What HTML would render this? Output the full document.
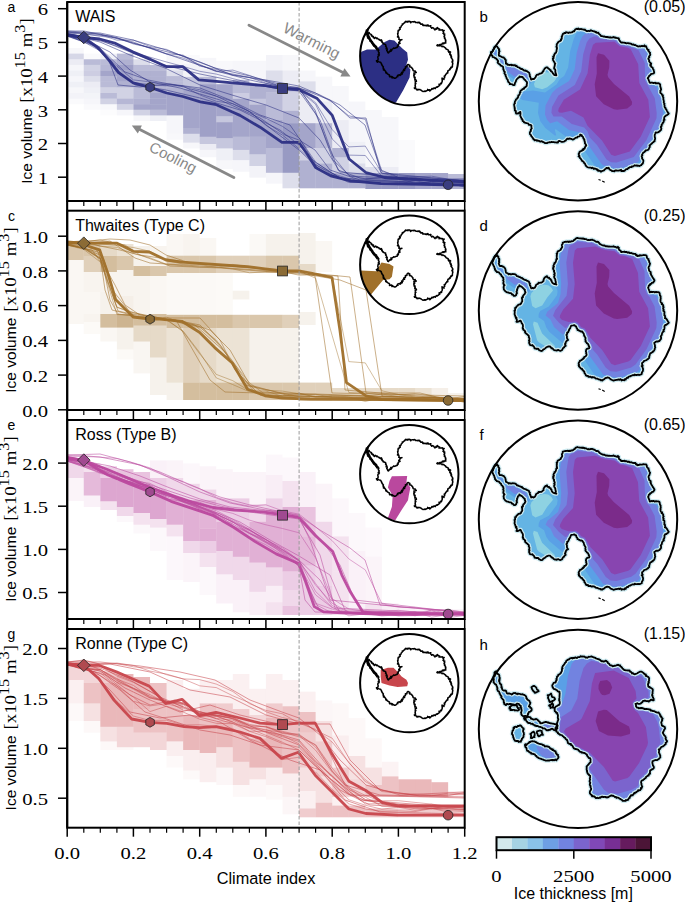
<!DOCTYPE html>
<html><head><meta charset="utf-8"><style>html,body{margin:0;padding:0;background:#fff;overflow:hidden}svg{display:block}</style></head><body>
<svg width="685" height="903" viewBox="0 0 685 903">
<rect width="685" height="903" fill="#fff"/>
<clipPath id="clip_a"><rect x="67.2" y="2.0" width="397.5" height="199.0"/></clipPath>
<g clip-path="url(#clip_a)">
<rect x="67.20" y="48.00" width="16.56" height="5.60" fill="rgba(44,47,132,0.038)"/>
<rect x="67.20" y="53.60" width="16.56" height="5.65" fill="rgba(44,47,132,0.194)"/>
<rect x="67.20" y="59.25" width="16.56" height="5.65" fill="rgba(44,47,132,0.091)"/>
<rect x="67.20" y="64.90" width="16.56" height="5.60" fill="rgba(44,47,132,0.045)"/>
<rect x="67.20" y="70.50" width="16.56" height="5.60" fill="rgba(44,47,132,0.076)"/>
<rect x="67.20" y="76.10" width="16.56" height="5.60" fill="rgba(44,47,132,0.045)"/>
<rect x="67.20" y="81.70" width="16.56" height="5.60" fill="rgba(44,47,132,0.076)"/>
<rect x="67.20" y="87.30" width="16.56" height="5.70" fill="rgba(44,47,132,0.038)"/>
<rect x="67.20" y="93.00" width="16.56" height="5.60" fill="rgba(44,47,132,0.060)"/>
<rect x="67.20" y="98.60" width="16.56" height="5.60" fill="rgba(44,47,132,0.023)"/>
<rect x="83.76" y="53.60" width="16.56" height="5.65" fill="rgba(44,47,132,0.023)"/>
<rect x="83.76" y="59.25" width="16.56" height="5.65" fill="rgba(44,47,132,0.324)"/>
<rect x="83.76" y="64.90" width="16.56" height="5.60" fill="rgba(44,47,132,0.216)"/>
<rect x="83.76" y="70.50" width="16.56" height="5.60" fill="rgba(44,47,132,0.238)"/>
<rect x="83.76" y="76.10" width="16.56" height="5.60" fill="rgba(44,47,132,0.162)"/>
<rect x="83.76" y="81.70" width="16.56" height="5.60" fill="rgba(44,47,132,0.091)"/>
<rect x="83.76" y="87.30" width="16.56" height="5.70" fill="rgba(44,47,132,0.076)"/>
<rect x="83.76" y="93.00" width="16.56" height="5.60" fill="rgba(44,47,132,0.053)"/>
<rect x="83.76" y="98.60" width="16.56" height="5.60" fill="rgba(44,47,132,0.045)"/>
<rect x="83.76" y="104.20" width="16.56" height="5.60" fill="rgba(44,47,132,0.023)"/>
<rect x="100.33" y="53.60" width="16.56" height="5.65" fill="rgba(44,47,132,0.076)"/>
<rect x="100.33" y="59.25" width="16.56" height="5.65" fill="rgba(44,47,132,0.324)"/>
<rect x="100.33" y="64.90" width="16.56" height="5.60" fill="rgba(44,47,132,0.346)"/>
<rect x="100.33" y="70.50" width="16.56" height="5.60" fill="rgba(44,47,132,0.432)"/>
<rect x="100.33" y="76.10" width="16.56" height="5.60" fill="rgba(44,47,132,0.324)"/>
<rect x="100.33" y="81.70" width="16.56" height="5.60" fill="rgba(44,47,132,0.324)"/>
<rect x="100.33" y="87.30" width="16.56" height="5.70" fill="rgba(44,47,132,0.216)"/>
<rect x="100.33" y="93.00" width="16.56" height="5.60" fill="rgba(44,47,132,0.324)"/>
<rect x="100.33" y="98.60" width="16.56" height="5.60" fill="rgba(44,47,132,0.216)"/>
<rect x="100.33" y="104.20" width="16.56" height="5.60" fill="rgba(44,47,132,0.030)"/>
<rect x="100.33" y="109.80" width="16.56" height="5.60" fill="rgba(44,47,132,0.015)"/>
<rect x="116.89" y="53.60" width="16.56" height="5.65" fill="rgba(44,47,132,0.324)"/>
<rect x="116.89" y="59.25" width="16.56" height="5.65" fill="rgba(44,47,132,0.378)"/>
<rect x="116.89" y="64.90" width="16.56" height="5.60" fill="rgba(44,47,132,0.454)"/>
<rect x="116.89" y="70.50" width="16.56" height="5.60" fill="rgba(44,47,132,0.432)"/>
<rect x="116.89" y="76.10" width="16.56" height="5.60" fill="rgba(44,47,132,0.432)"/>
<rect x="116.89" y="81.70" width="16.56" height="5.60" fill="rgba(44,47,132,0.378)"/>
<rect x="116.89" y="87.30" width="16.56" height="5.70" fill="rgba(44,47,132,0.216)"/>
<rect x="116.89" y="93.00" width="16.56" height="5.60" fill="rgba(44,47,132,0.216)"/>
<rect x="116.89" y="98.60" width="16.56" height="5.60" fill="rgba(44,47,132,0.346)"/>
<rect x="116.89" y="104.20" width="16.56" height="5.60" fill="rgba(44,47,132,0.216)"/>
<rect x="116.89" y="109.80" width="16.56" height="5.60" fill="rgba(44,47,132,0.045)"/>
<rect x="133.45" y="59.25" width="16.56" height="5.65" fill="rgba(44,47,132,0.162)"/>
<rect x="133.45" y="64.90" width="16.56" height="5.60" fill="rgba(44,47,132,0.324)"/>
<rect x="133.45" y="70.50" width="16.56" height="5.60" fill="rgba(44,47,132,0.378)"/>
<rect x="133.45" y="76.10" width="16.56" height="5.60" fill="rgba(44,47,132,0.378)"/>
<rect x="133.45" y="81.70" width="16.56" height="5.60" fill="rgba(44,47,132,0.378)"/>
<rect x="133.45" y="87.30" width="16.56" height="5.70" fill="rgba(44,47,132,0.324)"/>
<rect x="133.45" y="93.00" width="16.56" height="5.60" fill="rgba(44,47,132,0.324)"/>
<rect x="133.45" y="98.60" width="16.56" height="5.60" fill="rgba(44,47,132,0.378)"/>
<rect x="133.45" y="104.20" width="16.56" height="5.60" fill="rgba(44,47,132,0.432)"/>
<rect x="133.45" y="109.80" width="16.56" height="5.60" fill="rgba(44,47,132,0.216)"/>
<rect x="133.45" y="115.40" width="16.56" height="5.60" fill="rgba(44,47,132,0.038)"/>
<rect x="150.01" y="64.90" width="16.56" height="5.60" fill="rgba(44,47,132,0.324)"/>
<rect x="150.01" y="70.50" width="16.56" height="5.60" fill="rgba(44,47,132,0.378)"/>
<rect x="150.01" y="76.10" width="16.56" height="5.60" fill="rgba(44,47,132,0.378)"/>
<rect x="150.01" y="81.70" width="16.56" height="5.60" fill="rgba(44,47,132,0.378)"/>
<rect x="150.01" y="87.30" width="16.56" height="5.70" fill="rgba(44,47,132,0.378)"/>
<rect x="150.01" y="93.00" width="16.56" height="5.60" fill="rgba(44,47,132,0.432)"/>
<rect x="150.01" y="98.60" width="16.56" height="5.60" fill="rgba(44,47,132,0.432)"/>
<rect x="150.01" y="104.20" width="16.56" height="5.60" fill="rgba(44,47,132,0.432)"/>
<rect x="150.01" y="109.80" width="16.56" height="5.60" fill="rgba(44,47,132,0.324)"/>
<rect x="150.01" y="115.40" width="16.56" height="5.60" fill="rgba(44,47,132,0.076)"/>
<rect x="166.57" y="55.00" width="16.56" height="9.90" fill="rgba(44,47,132,0.038)"/>
<rect x="166.57" y="64.90" width="16.56" height="5.60" fill="rgba(44,47,132,0.091)"/>
<rect x="166.57" y="70.50" width="16.56" height="5.60" fill="rgba(44,47,132,0.162)"/>
<rect x="166.57" y="76.10" width="16.56" height="5.60" fill="rgba(44,47,132,0.324)"/>
<rect x="166.57" y="81.70" width="16.56" height="5.60" fill="rgba(44,47,132,0.324)"/>
<rect x="166.57" y="87.30" width="16.56" height="5.70" fill="rgba(44,47,132,0.378)"/>
<rect x="166.57" y="93.00" width="16.56" height="22.40" fill="rgba(44,47,132,0.432)"/>
<rect x="166.57" y="115.40" width="16.56" height="18.40" fill="rgba(44,47,132,0.045)"/>
<rect x="166.57" y="133.80" width="16.56" height="5.90" fill="rgba(44,47,132,0.030)"/>
<rect x="183.14" y="55.00" width="16.56" height="8.80" fill="rgba(44,47,132,0.023)"/>
<rect x="183.14" y="63.80" width="16.56" height="13.10" fill="rgba(44,47,132,0.060)"/>
<rect x="183.14" y="76.90" width="16.56" height="11.70" fill="rgba(44,47,132,0.270)"/>
<rect x="183.14" y="88.60" width="16.56" height="39.40" fill="rgba(44,47,132,0.432)"/>
<rect x="183.14" y="128.00" width="16.56" height="5.80" fill="rgba(44,47,132,0.378)"/>
<rect x="183.14" y="133.80" width="16.56" height="8.80" fill="rgba(44,47,132,0.162)"/>
<rect x="183.14" y="142.60" width="16.56" height="5.80" fill="rgba(44,47,132,0.038)"/>
<rect x="199.70" y="57.90" width="16.56" height="11.70" fill="rgba(44,47,132,0.045)"/>
<rect x="199.70" y="69.60" width="16.56" height="7.30" fill="rgba(44,47,132,0.091)"/>
<rect x="199.70" y="76.90" width="16.56" height="7.30" fill="rgba(44,47,132,0.324)"/>
<rect x="199.70" y="84.20" width="16.56" height="52.60" fill="rgba(44,47,132,0.454)"/>
<rect x="199.70" y="136.80" width="16.56" height="7.20" fill="rgba(44,47,132,0.270)"/>
<rect x="199.70" y="144.00" width="16.56" height="5.90" fill="rgba(44,47,132,0.091)"/>
<rect x="199.70" y="149.90" width="16.56" height="7.30" fill="rgba(44,47,132,0.045)"/>
<rect x="216.26" y="60.80" width="16.56" height="8.80" fill="rgba(44,47,132,0.030)"/>
<rect x="216.26" y="69.60" width="16.56" height="14.60" fill="rgba(44,47,132,0.060)"/>
<rect x="216.26" y="84.20" width="16.56" height="32.10" fill="rgba(44,47,132,0.432)"/>
<rect x="216.26" y="116.30" width="16.56" height="5.90" fill="rgba(44,47,132,0.270)"/>
<rect x="216.26" y="122.20" width="16.56" height="16.00" fill="rgba(44,47,132,0.454)"/>
<rect x="216.26" y="138.20" width="16.56" height="10.20" fill="rgba(44,47,132,0.270)"/>
<rect x="216.26" y="148.40" width="16.56" height="11.70" fill="rgba(44,47,132,0.076)"/>
<rect x="216.26" y="160.10" width="16.56" height="8.80" fill="rgba(44,47,132,0.038)"/>
<rect x="232.82" y="60.80" width="16.56" height="19.00" fill="rgba(44,47,132,0.045)"/>
<rect x="232.82" y="79.80" width="16.56" height="13.20" fill="rgba(44,47,132,0.324)"/>
<rect x="232.82" y="93.00" width="16.56" height="5.80" fill="rgba(44,47,132,0.238)"/>
<rect x="232.82" y="98.80" width="16.56" height="38.00" fill="rgba(44,47,132,0.432)"/>
<rect x="232.82" y="136.80" width="16.56" height="13.10" fill="rgba(44,47,132,0.324)"/>
<rect x="232.82" y="149.90" width="16.56" height="10.20" fill="rgba(44,47,132,0.162)"/>
<rect x="232.82" y="160.10" width="16.56" height="11.70" fill="rgba(44,47,132,0.045)"/>
<rect x="249.39" y="60.80" width="16.56" height="23.40" fill="rgba(44,47,132,0.045)"/>
<rect x="249.39" y="84.20" width="16.56" height="14.60" fill="rgba(44,47,132,0.378)"/>
<rect x="249.39" y="98.80" width="16.56" height="5.80" fill="rgba(44,47,132,0.270)"/>
<rect x="249.39" y="104.60" width="16.56" height="32.20" fill="rgba(44,47,132,0.432)"/>
<rect x="249.39" y="136.80" width="16.56" height="17.50" fill="rgba(44,47,132,0.378)"/>
<rect x="249.39" y="154.30" width="16.56" height="11.70" fill="rgba(44,47,132,0.216)"/>
<rect x="249.39" y="166.00" width="16.56" height="11.60" fill="rgba(44,47,132,0.060)"/>
<rect x="265.95" y="55.00" width="16.56" height="15.50" fill="rgba(44,47,132,0.060)"/>
<rect x="265.95" y="70.50" width="16.56" height="15.50" fill="rgba(44,47,132,0.162)"/>
<rect x="265.95" y="86.00" width="16.56" height="6.20" fill="rgba(44,47,132,0.378)"/>
<rect x="265.95" y="92.20" width="16.56" height="27.90" fill="rgba(44,47,132,0.324)"/>
<rect x="265.95" y="120.10" width="16.56" height="27.90" fill="rgba(44,47,132,0.432)"/>
<rect x="265.95" y="148.00" width="16.56" height="24.80" fill="rgba(44,47,132,0.324)"/>
<rect x="265.95" y="172.80" width="16.56" height="10.90" fill="rgba(44,47,132,0.045)"/>
<rect x="282.51" y="55.00" width="16.56" height="15.50" fill="rgba(44,47,132,0.038)"/>
<rect x="282.51" y="70.50" width="16.56" height="15.50" fill="rgba(44,47,132,0.091)"/>
<rect x="282.51" y="86.00" width="16.56" height="6.20" fill="rgba(44,47,132,0.270)"/>
<rect x="282.51" y="92.20" width="16.56" height="18.60" fill="rgba(44,47,132,0.216)"/>
<rect x="282.51" y="110.80" width="16.56" height="12.40" fill="rgba(44,47,132,0.378)"/>
<rect x="282.51" y="123.20" width="16.56" height="49.60" fill="rgba(44,47,132,0.486)"/>
<rect x="282.51" y="172.80" width="16.56" height="15.50" fill="rgba(44,47,132,0.162)"/>
<rect x="299.07" y="70.50" width="16.56" height="10.90" fill="rgba(44,47,132,0.045)"/>
<rect x="299.07" y="81.40" width="16.56" height="10.80" fill="rgba(44,47,132,0.162)"/>
<rect x="299.07" y="92.20" width="16.56" height="31.00" fill="rgba(44,47,132,0.091)"/>
<rect x="299.07" y="123.20" width="16.56" height="24.80" fill="rgba(44,47,132,0.432)"/>
<rect x="299.07" y="148.00" width="16.56" height="12.40" fill="rgba(44,47,132,0.216)"/>
<rect x="299.07" y="160.40" width="16.56" height="27.90" fill="rgba(44,47,132,0.378)"/>
<rect x="315.64" y="76.70" width="16.56" height="24.80" fill="rgba(44,47,132,0.038)"/>
<rect x="315.64" y="101.50" width="16.56" height="21.70" fill="rgba(44,47,132,0.091)"/>
<rect x="315.64" y="123.20" width="16.56" height="24.80" fill="rgba(44,47,132,0.324)"/>
<rect x="315.64" y="148.00" width="16.56" height="15.50" fill="rgba(44,47,132,0.216)"/>
<rect x="315.64" y="163.50" width="16.56" height="24.80" fill="rgba(44,47,132,0.378)"/>
<rect x="332.20" y="86.00" width="16.56" height="34.10" fill="rgba(44,47,132,0.038)"/>
<rect x="332.20" y="120.10" width="16.56" height="27.90" fill="rgba(44,47,132,0.091)"/>
<rect x="332.20" y="148.00" width="16.56" height="9.30" fill="rgba(44,47,132,0.378)"/>
<rect x="332.20" y="157.30" width="16.56" height="15.50" fill="rgba(44,47,132,0.216)"/>
<rect x="332.20" y="172.80" width="16.56" height="15.50" fill="rgba(44,47,132,0.378)"/>
<rect x="348.76" y="101.50" width="16.56" height="40.30" fill="rgba(44,47,132,0.045)"/>
<rect x="348.76" y="141.80" width="16.56" height="21.70" fill="rgba(44,47,132,0.076)"/>
<rect x="348.76" y="163.50" width="16.56" height="9.30" fill="rgba(44,47,132,0.162)"/>
<rect x="348.76" y="172.80" width="16.56" height="15.50" fill="rgba(44,47,132,0.378)"/>
<rect x="365.32" y="110.00" width="16.56" height="57.00" fill="rgba(44,47,132,0.038)"/>
<rect x="365.32" y="167.00" width="16.56" height="6.00" fill="rgba(44,47,132,0.162)"/>
<rect x="365.32" y="173.00" width="16.56" height="16.00" fill="rgba(44,47,132,0.486)"/>
<rect x="381.89" y="117.00" width="16.56" height="50.00" fill="rgba(44,47,132,0.038)"/>
<rect x="381.89" y="167.00" width="16.56" height="6.00" fill="rgba(44,47,132,0.091)"/>
<rect x="381.89" y="173.00" width="16.56" height="16.00" fill="rgba(44,47,132,0.486)"/>
<rect x="398.45" y="140.00" width="16.56" height="33.00" fill="rgba(44,47,132,0.023)"/>
<rect x="398.45" y="173.00" width="16.56" height="16.00" fill="rgba(44,47,132,0.486)"/>
<rect x="415.01" y="173.00" width="16.56" height="16.00" fill="rgba(44,47,132,0.432)"/>
<rect x="431.57" y="173.00" width="16.56" height="16.00" fill="rgba(44,47,132,0.432)"/>
<rect x="448.14" y="174.00" width="16.56" height="4.00" fill="rgba(44,47,132,0.324)"/>
<rect x="448.14" y="178.00" width="16.56" height="11.00" fill="rgba(44,47,132,0.378)"/>
<polyline points="67.2,32.0 83.8,32.8 100.3,34.3 116.9,37.6 133.4,44.0 150.0,47.7 166.6,53.8 183.1,55.1 199.7,66.1 216.3,69.4 232.8,74.8 249.4,77.6 265.9,81.4 282.5,86.8 299.1,89.8 315.6,102.8 332.2,129.6 348.8,146.9 365.3,146.1 381.9,173.1 398.4,177.2 415.0,176.8 431.6,176.2 448.1,179.1 464.7,180.8" fill="none" stroke="rgba(44,47,132,0.450)" stroke-width="1.0" stroke-linejoin="round"/>
<polyline points="67.2,32.0 83.8,33.9 100.3,36.3 116.9,37.9 133.4,42.0 150.0,48.4 166.6,54.2 183.1,58.1 199.7,65.1 216.3,71.5 232.8,74.0 249.4,77.3 265.9,83.1 282.5,86.8 299.1,90.4 315.6,104.3 332.2,139.0 348.8,155.1 365.3,155.5 381.9,176.4 398.4,178.1 415.0,177.3 431.6,181.6 448.1,181.8 464.7,182.6" fill="none" stroke="rgba(44,47,132,0.450)" stroke-width="1.0" stroke-linejoin="round"/>
<polyline points="67.2,35.1 83.8,41.9 100.3,51.0 116.9,72.4 133.4,82.7 150.0,84.5 166.6,85.8 183.1,86.0 199.7,89.7 216.3,96.3 232.8,101.4 249.4,111.6 265.9,118.3 282.5,126.4 299.1,137.9 315.6,162.1 332.2,173.5 348.8,178.7 365.3,181.6 381.9,183.2 398.4,184.7 415.0,180.3 431.6,184.7 448.1,184.7 464.7,184.6" fill="none" stroke="rgba(44,47,132,0.450)" stroke-width="1.0" stroke-linejoin="round"/>
<polyline points="67.2,31.0 83.8,30.9 100.3,34.7 116.9,40.2 133.4,40.1 150.0,46.5 166.6,49.4 183.1,56.5 199.7,64.5 216.3,71.4 232.8,70.1 249.4,75.4 265.9,81.4 282.5,87.0 299.1,88.2 315.6,93.0 332.2,102.2 348.8,115.8 365.3,119.4 381.9,171.4 398.4,175.8 415.0,177.2 431.6,177.9 448.1,179.1 464.7,178.9" fill="none" stroke="rgba(44,47,132,0.450)" stroke-width="1.0" stroke-linejoin="round"/>
<polyline points="67.2,35.1 83.8,39.7 100.3,50.9 116.9,66.1 133.4,79.9 150.0,81.9 166.6,84.1 183.1,86.1 199.7,94.8 216.3,101.3 232.8,103.5 249.4,111.3 265.9,125.3 282.5,135.1 299.1,148.7 315.6,164.6 332.2,174.8 348.8,182.5 365.3,181.9 381.9,183.9 398.4,182.6 415.0,184.3 431.6,181.3 448.1,183.0 464.7,187.0" fill="none" stroke="rgba(44,47,132,0.450)" stroke-width="1.0" stroke-linejoin="round"/>
<polyline points="67.2,33.0 83.8,37.2 100.3,41.0 116.9,46.0 133.4,52.6 150.0,57.2 166.6,62.0 183.1,66.4 199.7,71.3 216.3,74.1 232.8,78.6 249.4,82.7 265.9,86.2 282.5,88.3 299.1,87.8 315.6,113.4 332.2,155.1 348.8,175.7 365.3,178.8 381.9,177.8 398.4,178.5 415.0,183.4 431.6,182.3 448.1,184.7 464.7,186.0" fill="none" stroke="rgba(44,47,132,0.450)" stroke-width="1.0" stroke-linejoin="round"/>
<polyline points="67.0,31.0 100.0,33.0 133.0,40.0 166.0,50.0 200.0,62.0 232.0,75.0 266.0,80.0 299.0,86.0 320.0,95.0 340.0,105.0 365.0,125.0 381.0,170.0 400.0,178.0 464.7,180.0" fill="none" stroke="rgba(44,47,132,0.550)" stroke-width="1.0" stroke-linejoin="round"/>
<polyline points="67.0,32.0 100.0,34.0 140.0,45.0 180.0,55.0 215.0,68.0 250.0,76.0 282.0,85.0 299.0,88.0 330.0,100.0 350.0,118.0 366.0,118.0 381.0,173.0 464.7,181.0" fill="none" stroke="rgba(44,47,132,0.550)" stroke-width="1.0" stroke-linejoin="round"/>
<polyline points="67.0,33.0 110.0,36.0 150.0,48.0 190.0,62.0 220.0,72.0 250.0,80.0 282.0,87.0 299.0,89.0 315.0,110.0 333.0,160.0 350.0,176.0 464.7,182.0" fill="none" stroke="rgba(44,47,132,0.550)" stroke-width="1.0" stroke-linejoin="round"/>
<polyline points="67.0,34.0 100.0,40.0 130.0,52.0 160.0,64.0 200.0,74.0 240.0,82.0 280.0,89.0 299.0,91.0 320.0,120.0 338.0,170.0 360.0,178.0 464.7,183.0" fill="none" stroke="rgba(44,47,132,0.550)" stroke-width="1.0" stroke-linejoin="round"/>
<polyline points="67.0,35.0 90.0,42.0 110.0,52.0 130.0,70.0 150.0,82.0 180.0,88.0 220.0,100.0 260.0,118.0 285.0,135.0 299.0,140.0 315.0,150.0 330.0,170.0 360.0,180.0 464.7,184.0" fill="none" stroke="rgba(44,47,132,0.550)" stroke-width="1.0" stroke-linejoin="round"/>
<polyline points="67.0,35.0 95.0,45.0 115.0,68.0 135.0,85.0 166.0,90.0 200.0,98.0 240.0,110.0 280.0,130.0 299.0,145.0 315.0,162.0 340.0,178.0 464.7,185.0" fill="none" stroke="rgba(44,47,132,0.550)" stroke-width="1.0" stroke-linejoin="round"/>
<polyline points="67.0,36.0 100.0,48.0 125.0,72.0 148.0,80.0 180.0,86.0 216.0,96.0 250.0,112.0 270.0,128.0 299.0,150.0 320.0,170.0 350.0,182.0 464.7,186.0" fill="none" stroke="rgba(44,47,132,0.550)" stroke-width="1.0" stroke-linejoin="round"/>
<polyline points="67.0,36.0 92.0,44.0 108.0,58.0 118.0,85.0 140.0,87.0 170.0,84.0 200.0,88.0 230.0,100.0 260.0,115.0 290.0,125.0 299.0,138.0 316.0,165.0 345.0,180.0 464.7,185.0" fill="none" stroke="rgba(44,47,132,0.550)" stroke-width="1.0" stroke-linejoin="round"/>
<polyline points="67.0,34.0 100.0,42.0 130.0,55.0 165.0,68.0 200.0,85.0 232.0,95.0 266.0,105.0 299.0,118.0 320.0,140.0 340.0,172.0 464.7,183.0" fill="none" stroke="rgba(44,47,132,0.550)" stroke-width="1.0" stroke-linejoin="round"/>
<polyline points="67.0,34.6 83.5,37.5 99.6,39.0 115.6,43.4 133.2,52.1 150.7,59.4 166.7,66.7 182.8,66.7 198.8,79.9 216.4,81.3 232.4,82.8 247.0,84.2 266.0,85.7 282.0,88.5 298.8,89.5 317.2,98.6 332.3,115.4 340.7,137.2 349.1,159.0 365.9,172.5 384.4,177.5 407.9,179.2 448.2,180.9 464.7,181.6" fill="none" stroke="rgba(44,47,132,0.950)" stroke-width="2.8" stroke-linejoin="round"/>
<polyline points="67.0,35.0 83.5,37.5 98.1,47.7 109.8,60.9 118.6,72.6 133.2,82.8 149.2,87.2 166.7,93.0 182.8,96.5 200.3,101.8 216.4,104.7 232.4,112.0 240.0,115.4 260.1,127.2 282.0,142.3 298.8,142.3 307.2,154.0 315.6,167.5 330.7,175.9 350.8,180.9 381.0,183.6 448.2,184.9 464.7,184.9" fill="none" stroke="rgba(44,47,132,0.950)" stroke-width="2.8" stroke-linejoin="round"/>
<line x1="299.1" y1="2.0" x2="299.1" y2="201.0" stroke="#999" stroke-width="1" stroke-dasharray="3.5,2"/>
<polygon points="83.8,31.2 90.1,37.5 83.8,43.8 77.5,37.5" fill="rgb(58,61,128)" stroke="#222" stroke-width="0.8"/>
<polygon points="150.0,82.3 154.3,84.8 154.3,89.7 150.0,92.1 145.8,89.7 145.8,84.8" fill="rgb(58,61,128)" stroke="#222" stroke-width="0.8"/>
<rect x="277.6" y="83.6" width="9.8" height="9.8" fill="rgb(58,61,128)" stroke="#222" stroke-width="0.8"/>
<circle cx="448.1" cy="184.8" r="4.8" fill="rgb(58,61,128)" stroke="#222" stroke-width="0.8"/>
</g>
<circle cx="409.3" cy="56.1" r="49.2" fill="#fff"/>
<clipPath id="iclip_a"><circle cx="409.3" cy="56.1" r="49.2"/></clipPath>
<polygon clip-path="url(#iclip_a)" points="361.4,51.8 367.0,49.4 375.9,49.4 384.7,42.1 389.5,39.7 394.3,40.5 397.6,43.8 402.4,48.6 407.2,52.6 408.0,59.8 406.4,64.6 410.4,69.4 409.6,77.5 407.2,82.3 403.2,90.3 396.0,102.4 380.0,110.0 350.0,80.0" fill="rgb(44,47,132)"/>
<path d="M367.9,29.0 367.6,30.5 367.6,31.1 367.3,31.6 368.3,33.8 369.2,32.6 369.4,33.0 369.4,33.6 370.6,34.1 371.3,34.6 371.3,35.8 372.0,35.4 372.1,36.3 373.5,36.4 373.0,37.4 373.2,37.3 374.6,37.9 374.9,38.1 374.2,38.5 375.7,37.4 376.9,38.7 377.2,38.1 378.0,38.8 379.2,39.5 379.2,40.1 379.6,39.5 380.5,40.6 380.7,40.3 381.4,39.9 382.2,41.6 381.7,41.8 382.4,42.7 382.3,42.4 384.0,43.9 383.1,43.7 384.6,44.2 385.6,44.4 385.5,45.0 386.1,46.1 385.5,46.0 386.7,47.7 386.4,48.5 386.5,48.3 386.1,48.8 387.3,49.1 386.7,50.3 387.4,51.3 387.0,50.8 387.9,52.7 388.5,52.9 388.5,52.4 389.1,52.2 389.3,51.4 390.1,51.0 390.7,51.4 391.8,50.5 390.8,49.4 392.0,49.5 391.8,49.5 393.9,48.1 393.6,48.0 394.6,48.4 396.1,47.7 396.1,47.6 397.2,47.5 397.6,46.4 397.3,46.0 398.4,46.0 397.9,45.0 398.7,44.3 398.4,44.2 400.1,43.3 398.9,42.3 398.7,42.4 399.9,41.6 399.9,41.1 400.0,39.7 400.4,40.3 401.0,39.9 401.7,39.8 401.9,39.6 400.8,39.9 400.6,40.0 398.8,39.4 398.9,38.9 399.1,38.8 398.9,37.8 398.8,37.1 397.6,37.1 397.5,36.9 398.2,36.2 397.7,34.4 397.8,34.1 397.6,33.4 398.1,33.3 398.0,32.4 398.1,30.9 398.3,30.2 398.9,30.6 399.2,29.8 400.3,29.1 400.0,28.2 399.5,28.1 399.8,27.5 401.0,27.2 401.3,25.9 401.9,25.5 402.0,25.3 402.4,24.7 402.4,24.2 402.3,23.9 403.2,24.1 404.8,22.3 404.8,22.8 404.7,22.7 405.5,21.3 406.2,21.9 407.0,21.3 407.9,22.1 407.7,21.4 408.9,21.3 410.3,21.7 409.7,21.3 410.7,22.8 411.3,21.9 412.2,21.8 413.6,21.7 413.5,22.0 414.1,21.5 415.2,22.0 415.1,21.7 415.4,22.4 416.8,22.6 417.5,22.6 417.6,22.7 418.5,22.3 419.2,23.0 419.6,22.3 420.3,23.8 420.4,23.3 421.0,24.3 420.7,24.3 422.6,24.1 423.2,25.1 422.8,25.4 422.9,25.4 425.1,25.3 425.8,25.7 426.0,25.7 425.2,25.4 427.0,25.2 427.0,25.9 427.9,24.9 428.6,26.1 429.3,26.1 430.9,25.7 430.1,25.7 431.0,27.3 431.5,27.7 431.6,28.2 432.2,28.0 432.5,27.6 433.5,27.9 434.0,28.8 435.0,29.9 436.1,28.4 436.7,28.9 436.7,29.3 437.3,27.5 438.7,28.7 439.6,28.9 439.0,30.1 439.7,29.7 441.4,29.9 441.3,30.0 442.4,29.8 442.9,30.7 444.2,30.4 443.0,31.6 443.4,32.0 443.8,33.0 443.6,33.1 443.0,33.4 444.9,34.1 444.0,34.5 444.7,35.7 444.0,36.6 444.7,37.2 444.4,38.3 445.0,38.0 444.7,38.6 445.4,39.3 445.7,40.3 445.9,41.1 445.4,40.6 445.7,42.5 445.8,43.1 444.8,42.8 443.9,43.7 443.7,43.0 442.4,43.3 442.9,43.7 441.3,44.2 441.6,44.2 440.7,44.5 440.0,44.5 438.8,45.1 438.6,45.5 437.0,45.1 437.8,44.8 436.9,45.5 437.6,45.1 437.9,45.9 439.2,45.5 439.3,45.7 440.3,45.2 439.9,45.9 440.6,45.6 441.8,46.2 441.9,46.5 442.1,46.7 442.7,46.2 444.2,46.9 444.1,47.1 445.2,47.6 445.5,48.4 445.7,48.1 446.3,49.1 447.4,49.7 447.3,49.5 448.1,49.9 448.5,50.9 448.2,51.1 448.9,52.4 450.6,52.1 449.8,51.6 450.1,53.2 449.8,54.2 449.8,54.4 450.8,54.6 451.3,56.2 450.5,55.7 451.7,57.0 451.0,57.5 451.6,58.2 452.2,59.1 452.8,60.2 452.4,60.7 452.9,61.1 451.9,61.8 452.6,62.8 452.7,62.9 452.8,64.1 452.6,63.9 452.6,64.5 452.4,65.4 452.4,66.9 452.0,66.7 451.7,67.5 450.8,67.3 450.8,68.4 450.4,68.4 449.5,69.3 450.1,69.7 449.1,70.2 448.2,70.4 448.0,71.2 447.7,71.1 447.8,73.0 446.8,72.9 446.6,73.7 445.5,74.6 445.6,75.0 445.5,74.9 445.1,76.0 444.4,76.1 444.2,76.0 444.7,77.7 443.8,78.5 443.1,78.5 444.0,79.5 442.0,78.1 442.2,80.6 442.2,80.6 442.4,80.8 442.0,82.1 441.8,82.5 440.9,83.1 440.6,84.0 441.6,83.6 439.0,84.3 439.8,85.5 439.7,85.2 438.3,86.5 437.5,86.8 437.3,87.0 437.2,87.3 436.6,86.9 435.8,87.7 435.2,88.6 434.4,87.9 433.5,88.3 433.6,88.3 433.2,89.0 431.9,88.5 431.5,89.6 430.0,90.0 430.9,89.9 429.8,91.0 429.5,89.7 428.4,90.2 427.7,89.4 427.5,90.4 426.6,90.8 426.3,91.0 424.9,91.5 425.3,91.0 424.6,91.1 423.1,91.6 422.4,91.2 421.9,90.8 420.9,90.1 421.3,90.4 420.2,89.9 419.7,89.4 418.4,89.8 418.0,89.3 417.7,89.4 417.1,90.1 417.0,89.7 416.0,88.7 414.7,88.6 414.3,87.9 415.5,88.2 415.4,86.4 415.1,85.8 415.1,85.4 415.0,86.0 415.3,85.3 415.2,83.5 415.9,83.8 415.3,82.5 415.2,81.8 416.5,81.2 416.0,80.1 416.2,80.5 415.9,79.8 414.8,80.0 415.0,78.6 415.1,77.2 414.4,77.6 414.3,77.7 414.0,75.8 413.9,76.1 414.3,74.9 413.7,75.1 414.9,74.2 414.2,74.5 413.9,72.9 416.3,72.4 415.1,71.5 415.2,70.9 414.3,71.0 413.3,70.8 412.8,69.6 413.0,69.2 412.8,69.3 412.1,68.2 411.5,67.8 411.6,67.5 410.9,67.1 409.9,67.1 409.3,66.3 409.9,65.4 408.8,64.8 408.1,64.4 407.0,65.3 406.9,66.7 406.6,66.8 406.1,66.9 405.4,66.7 405.4,68.7 405.2,68.3 405.4,68.8 404.1,69.0 403.6,69.9 404.6,70.5 403.0,70.8 403.0,70.8 402.9,72.4 402.6,72.9 401.5,72.3 402.3,74.0 400.6,74.1 401.0,74.8 400.7,74.8 400.1,75.4 399.4,74.8 397.5,75.5 397.5,76.3 398.0,76.6 396.9,76.8 397.0,76.7 396.3,77.6 395.4,78.2 394.3,78.2 393.6,77.7 393.0,77.9 392.5,77.5 391.9,77.7 392.7,77.0 392.1,76.9 391.8,76.4 389.5,76.7 389.6,75.3 388.9,74.6 388.6,74.5 388.8,74.8 386.8,73.4 386.8,72.8 386.5,73.2 385.7,72.6 385.9,73.0 385.9,71.8 385.3,71.0 384.7,70.4 384.5,69.8 383.4,69.9 383.9,68.6 383.2,68.7 383.3,67.6 383.0,67.3 383.4,67.0 382.0,65.1 382.4,66.0 382.1,65.4 381.4,63.9 381.6,64.1 381.2,62.9 380.6,62.8 380.6,62.3 379.3,62.1 379.6,62.1 378.1,61.3 377.3,62.1 376.4,60.8 377.7,61.1 377.5,60.3 378.1,59.7 378.0,59.4 378.2,58.7 377.8,57.8 378.0,56.1 378.9,55.7 378.9,55.0 379.4,54.9 378.2,54.4 379.1,53.4 379.0,54.0 379.1,52.5 378.5,52.2 378.0,50.0 378.1,50.3 378.9,50.2 377.4,49.1 377.8,48.6 377.0,48.4 376.8,48.1 376.3,48.2 376.5,46.4 376.3,46.8 375.2,46.0 374.3,46.0 373.7,45.9 373.6,44.6 373.0,44.8 373.0,43.8 372.3,43.4 371.6,42.3 372.5,42.2 371.5,41.5 371.6,42.1 370.5,41.0 369.9,41.1 370.2,39.4 369.9,39.4 369.1,38.9 368.2,38.0 368.5,37.7 367.6,38.0 367.6,36.3 367.1,36.3 367.6,35.6 367.3,34.3 366.4,34.2 366.3,34.0 365.5,34.6 366.2,32.8 367.1,32.4 366.9,30.1 366.4,31.2Z" fill="none" stroke="#000" stroke-width="1.5" stroke-linejoin="round"/>
<path d="M366.8,29.6 367.5,34.6 369.8,39.1 372.8,43.6 375.8,47.1 377.8,50.1" fill="none" stroke="#000" stroke-width="2.6" stroke-linejoin="round"/>
<circle cx="409.3" cy="56.1" r="49.2" fill="none" stroke="#000" stroke-width="2"/>
<rect x="67.2" y="2.0" width="397.5" height="199.0" fill="none" stroke="#000" stroke-width="2"/>
<line x1="58" y1="177.2" x2="67.2" y2="177.2" stroke="#000" stroke-width="1.5"/>
<text transform="translate(48.00,183.90) scale(1.180,1)" font-family="Liberation Serif" font-size="17.5" text-anchor="end">1</text>
<line x1="58" y1="143.5" x2="67.2" y2="143.5" stroke="#000" stroke-width="1.5"/>
<text transform="translate(48.00,150.20) scale(1.180,1)" font-family="Liberation Serif" font-size="17.5" text-anchor="end">2</text>
<line x1="58" y1="109.8" x2="67.2" y2="109.8" stroke="#000" stroke-width="1.5"/>
<text transform="translate(48.00,116.50) scale(1.180,1)" font-family="Liberation Serif" font-size="17.5" text-anchor="end">3</text>
<line x1="58" y1="76.1" x2="67.2" y2="76.1" stroke="#000" stroke-width="1.5"/>
<text transform="translate(48.00,82.80) scale(1.180,1)" font-family="Liberation Serif" font-size="17.5" text-anchor="end">4</text>
<line x1="58" y1="42.4" x2="67.2" y2="42.4" stroke="#000" stroke-width="1.5"/>
<text transform="translate(48.00,49.10) scale(1.180,1)" font-family="Liberation Serif" font-size="17.5" text-anchor="end">5</text>
<line x1="58" y1="8.7" x2="67.2" y2="8.7" stroke="#000" stroke-width="1.5"/>
<text transform="translate(48.00,15.40) scale(1.180,1)" font-family="Liberation Serif" font-size="17.5" text-anchor="end">6</text>
<line x1="67.2" y1="201.0" x2="67.2" y2="210.0" stroke="#000" stroke-width="1.5"/>
<line x1="83.8" y1="201.0" x2="83.8" y2="206.0" stroke="#000" stroke-width="1.2"/>
<line x1="100.3" y1="201.0" x2="100.3" y2="206.0" stroke="#000" stroke-width="1.2"/>
<line x1="116.9" y1="201.0" x2="116.9" y2="206.0" stroke="#000" stroke-width="1.2"/>
<line x1="133.4" y1="201.0" x2="133.4" y2="210.0" stroke="#000" stroke-width="1.5"/>
<line x1="150.0" y1="201.0" x2="150.0" y2="206.0" stroke="#000" stroke-width="1.2"/>
<line x1="166.6" y1="201.0" x2="166.6" y2="206.0" stroke="#000" stroke-width="1.2"/>
<line x1="183.1" y1="201.0" x2="183.1" y2="206.0" stroke="#000" stroke-width="1.2"/>
<line x1="199.7" y1="201.0" x2="199.7" y2="210.0" stroke="#000" stroke-width="1.5"/>
<line x1="216.3" y1="201.0" x2="216.3" y2="206.0" stroke="#000" stroke-width="1.2"/>
<line x1="232.8" y1="201.0" x2="232.8" y2="206.0" stroke="#000" stroke-width="1.2"/>
<line x1="249.4" y1="201.0" x2="249.4" y2="206.0" stroke="#000" stroke-width="1.2"/>
<line x1="265.9" y1="201.0" x2="265.9" y2="210.0" stroke="#000" stroke-width="1.5"/>
<line x1="282.5" y1="201.0" x2="282.5" y2="206.0" stroke="#000" stroke-width="1.2"/>
<line x1="299.1" y1="201.0" x2="299.1" y2="206.0" stroke="#000" stroke-width="1.2"/>
<line x1="315.6" y1="201.0" x2="315.6" y2="206.0" stroke="#000" stroke-width="1.2"/>
<line x1="332.2" y1="201.0" x2="332.2" y2="210.0" stroke="#000" stroke-width="1.5"/>
<line x1="348.8" y1="201.0" x2="348.8" y2="206.0" stroke="#000" stroke-width="1.2"/>
<line x1="365.3" y1="201.0" x2="365.3" y2="206.0" stroke="#000" stroke-width="1.2"/>
<line x1="381.9" y1="201.0" x2="381.9" y2="206.0" stroke="#000" stroke-width="1.2"/>
<line x1="398.4" y1="201.0" x2="398.4" y2="210.0" stroke="#000" stroke-width="1.5"/>
<line x1="415.0" y1="201.0" x2="415.0" y2="206.0" stroke="#000" stroke-width="1.2"/>
<line x1="431.6" y1="201.0" x2="431.6" y2="206.0" stroke="#000" stroke-width="1.2"/>
<line x1="448.1" y1="201.0" x2="448.1" y2="206.0" stroke="#000" stroke-width="1.2"/>
<line x1="464.7" y1="201.0" x2="464.7" y2="210.0" stroke="#000" stroke-width="1.5"/>
<text x="75.2" y="21.8" font-family="Liberation Sans" font-size="16">WAIS</text>
<text x="11.4" y="12.4" font-family="Liberation Sans" font-size="14" text-anchor="middle">a</text>
<text transform="translate(32.0,183.7) rotate(-90)" font-family="Liberation Sans" font-size="15.5">Ice volume</text>
<text transform="translate(32.0,102.7) rotate(-90) scale(1.17,1)" font-family="Liberation Serif" font-size="16">[x10<tspan font-size="14" dy="-6.6">15</tspan><tspan dy="6.6"> m</tspan><tspan font-size="14" dy="-6.6">3</tspan><tspan dy="6.6">]</tspan></text>
<clipPath id="clip_c"><rect x="67.2" y="210.7" width="397.5" height="199.3"/></clipPath>
<g clip-path="url(#clip_c)">
<rect x="67.20" y="242.00" width="16.56" height="18.00" fill="rgba(160,112,42,0.390)"/>
<rect x="67.20" y="260.00" width="16.56" height="64.00" fill="rgba(160,112,42,0.055)"/>
<rect x="83.76" y="242.00" width="16.56" height="14.00" fill="rgba(160,112,42,0.390)"/>
<rect x="83.76" y="256.00" width="16.56" height="16.00" fill="rgba(160,112,42,0.325)"/>
<rect x="83.76" y="272.00" width="16.56" height="20.00" fill="rgba(160,112,42,0.073)"/>
<rect x="83.76" y="292.00" width="16.56" height="22.00" fill="rgba(160,112,42,0.055)"/>
<rect x="83.76" y="314.00" width="16.56" height="8.00" fill="rgba(160,112,42,0.073)"/>
<rect x="83.76" y="322.00" width="16.56" height="12.00" fill="rgba(160,112,42,0.036)"/>
<rect x="100.33" y="242.00" width="16.56" height="14.00" fill="rgba(160,112,42,0.260)"/>
<rect x="100.33" y="256.00" width="16.56" height="16.00" fill="rgba(160,112,42,0.455)"/>
<rect x="100.33" y="272.00" width="16.56" height="20.00" fill="rgba(160,112,42,0.073)"/>
<rect x="100.33" y="292.00" width="16.56" height="22.00" fill="rgba(160,112,42,0.091)"/>
<rect x="100.33" y="314.00" width="16.56" height="13.60" fill="rgba(160,112,42,0.455)"/>
<rect x="100.33" y="327.60" width="16.56" height="13.90" fill="rgba(160,112,42,0.055)"/>
<rect x="116.89" y="244.00" width="16.56" height="12.00" fill="rgba(160,112,42,0.195)"/>
<rect x="116.89" y="256.00" width="16.56" height="14.00" fill="rgba(160,112,42,0.390)"/>
<rect x="116.89" y="270.00" width="16.56" height="26.00" fill="rgba(160,112,42,0.073)"/>
<rect x="116.89" y="296.00" width="16.56" height="18.00" fill="rgba(160,112,42,0.109)"/>
<rect x="116.89" y="314.00" width="16.56" height="13.60" fill="rgba(160,112,42,0.520)"/>
<rect x="116.89" y="327.60" width="16.56" height="21.90" fill="rgba(160,112,42,0.091)"/>
<rect x="116.89" y="349.50" width="16.56" height="10.00" fill="rgba(160,112,42,0.036)"/>
<rect x="133.45" y="246.00" width="16.56" height="20.00" fill="rgba(160,112,42,0.091)"/>
<rect x="133.45" y="266.00" width="16.56" height="10.00" fill="rgba(160,112,42,0.455)"/>
<rect x="133.45" y="276.00" width="16.56" height="41.60" fill="rgba(160,112,42,0.073)"/>
<rect x="133.45" y="317.60" width="16.56" height="8.00" fill="rgba(160,112,42,0.455)"/>
<rect x="133.45" y="325.60" width="16.56" height="15.90" fill="rgba(160,112,42,0.260)"/>
<rect x="133.45" y="341.50" width="16.56" height="31.90" fill="rgba(160,112,42,0.064)"/>
<rect x="150.01" y="246.00" width="16.56" height="20.00" fill="rgba(160,112,42,0.073)"/>
<rect x="150.01" y="266.00" width="16.56" height="10.00" fill="rgba(160,112,42,0.390)"/>
<rect x="150.01" y="276.00" width="16.56" height="38.00" fill="rgba(160,112,42,0.055)"/>
<rect x="150.01" y="314.00" width="16.56" height="11.60" fill="rgba(160,112,42,0.455)"/>
<rect x="150.01" y="325.60" width="16.56" height="31.90" fill="rgba(160,112,42,0.260)"/>
<rect x="150.01" y="357.50" width="16.56" height="37.50" fill="rgba(160,112,42,0.091)"/>
<rect x="166.57" y="234.00" width="16.56" height="21.70" fill="rgba(160,112,42,0.055)"/>
<rect x="166.57" y="255.70" width="16.56" height="17.30" fill="rgba(160,112,42,0.390)"/>
<rect x="166.57" y="273.00" width="16.56" height="41.80" fill="rgba(160,112,42,0.045)"/>
<rect x="166.57" y="314.80" width="16.56" height="13.20" fill="rgba(160,112,42,0.455)"/>
<rect x="166.57" y="328.00" width="16.56" height="54.60" fill="rgba(160,112,42,0.195)"/>
<rect x="166.57" y="382.60" width="16.56" height="17.40" fill="rgba(160,112,42,0.091)"/>
<rect x="183.14" y="234.00" width="16.56" height="21.70" fill="rgba(160,112,42,0.073)"/>
<rect x="183.14" y="255.70" width="16.56" height="17.30" fill="rgba(160,112,42,0.390)"/>
<rect x="183.14" y="273.00" width="16.56" height="41.80" fill="rgba(160,112,42,0.045)"/>
<rect x="183.14" y="314.80" width="16.56" height="13.20" fill="rgba(160,112,42,0.455)"/>
<rect x="183.14" y="328.00" width="16.56" height="54.60" fill="rgba(160,112,42,0.325)"/>
<rect x="183.14" y="382.60" width="16.56" height="17.40" fill="rgba(160,112,42,0.455)"/>
<rect x="199.70" y="238.00" width="16.56" height="17.70" fill="rgba(160,112,42,0.055)"/>
<rect x="199.70" y="255.70" width="16.56" height="17.30" fill="rgba(160,112,42,0.390)"/>
<rect x="199.70" y="273.00" width="16.56" height="41.80" fill="rgba(160,112,42,0.045)"/>
<rect x="199.70" y="314.80" width="16.56" height="13.20" fill="rgba(160,112,42,0.455)"/>
<rect x="199.70" y="328.00" width="16.56" height="54.60" fill="rgba(160,112,42,0.260)"/>
<rect x="199.70" y="382.60" width="16.56" height="17.40" fill="rgba(160,112,42,0.455)"/>
<rect x="216.26" y="255.70" width="16.56" height="17.30" fill="rgba(160,112,42,0.325)"/>
<rect x="216.26" y="273.00" width="16.56" height="41.80" fill="rgba(160,112,42,0.036)"/>
<rect x="216.26" y="314.80" width="16.56" height="13.20" fill="rgba(160,112,42,0.455)"/>
<rect x="216.26" y="328.00" width="16.56" height="54.60" fill="rgba(160,112,42,0.195)"/>
<rect x="216.26" y="382.60" width="16.56" height="17.40" fill="rgba(160,112,42,0.455)"/>
<rect x="232.82" y="255.70" width="16.56" height="17.30" fill="rgba(160,112,42,0.325)"/>
<rect x="232.82" y="290.70" width="16.56" height="8.80" fill="rgba(160,112,42,0.091)"/>
<rect x="232.82" y="314.80" width="16.56" height="13.20" fill="rgba(160,112,42,0.390)"/>
<rect x="232.82" y="328.00" width="16.56" height="54.60" fill="rgba(160,112,42,0.195)"/>
<rect x="232.82" y="382.60" width="16.56" height="17.40" fill="rgba(160,112,42,0.455)"/>
<rect x="249.39" y="234.00" width="16.56" height="21.70" fill="rgba(160,112,42,0.045)"/>
<rect x="249.39" y="255.70" width="16.56" height="17.30" fill="rgba(160,112,42,0.325)"/>
<rect x="249.39" y="314.80" width="16.56" height="13.20" fill="rgba(160,112,42,0.390)"/>
<rect x="249.39" y="328.00" width="16.56" height="54.60" fill="rgba(160,112,42,0.091)"/>
<rect x="249.39" y="382.60" width="16.56" height="17.40" fill="rgba(160,112,42,0.390)"/>
<rect x="265.95" y="234.00" width="16.56" height="21.70" fill="rgba(160,112,42,0.091)"/>
<rect x="265.95" y="255.70" width="16.56" height="17.30" fill="rgba(160,112,42,0.390)"/>
<rect x="265.95" y="314.80" width="16.56" height="13.20" fill="rgba(160,112,42,0.390)"/>
<rect x="265.95" y="328.00" width="16.56" height="54.60" fill="rgba(160,112,42,0.091)"/>
<rect x="265.95" y="382.60" width="16.56" height="17.40" fill="rgba(160,112,42,0.390)"/>
<rect x="282.51" y="234.00" width="16.56" height="21.70" fill="rgba(160,112,42,0.091)"/>
<rect x="282.51" y="255.70" width="16.56" height="17.30" fill="rgba(160,112,42,0.390)"/>
<rect x="282.51" y="314.80" width="16.56" height="13.20" fill="rgba(160,112,42,0.325)"/>
<rect x="282.51" y="328.00" width="16.56" height="54.60" fill="rgba(160,112,42,0.091)"/>
<rect x="282.51" y="382.60" width="16.56" height="17.40" fill="rgba(160,112,42,0.390)"/>
<rect x="299.07" y="233.00" width="16.56" height="31.00" fill="rgba(160,112,42,0.091)"/>
<rect x="299.07" y="264.00" width="16.56" height="8.00" fill="rgba(160,112,42,0.260)"/>
<rect x="299.07" y="312.00" width="16.56" height="13.00" fill="rgba(160,112,42,0.091)"/>
<rect x="299.07" y="382.60" width="16.56" height="18.40" fill="rgba(160,112,42,0.325)"/>
<rect x="315.64" y="241.00" width="16.56" height="31.00" fill="rgba(160,112,42,0.055)"/>
<rect x="315.64" y="382.60" width="16.56" height="18.40" fill="rgba(160,112,42,0.325)"/>
<rect x="332.20" y="388.00" width="16.56" height="13.00" fill="rgba(160,112,42,0.260)"/>
<rect x="348.76" y="388.00" width="16.56" height="13.00" fill="rgba(160,112,42,0.260)"/>
<rect x="365.32" y="388.00" width="16.56" height="13.00" fill="rgba(160,112,42,0.260)"/>
<rect x="381.89" y="388.00" width="16.56" height="13.00" fill="rgba(160,112,42,0.260)"/>
<rect x="398.45" y="388.00" width="16.56" height="13.00" fill="rgba(160,112,42,0.260)"/>
<rect x="415.01" y="388.00" width="16.56" height="13.00" fill="rgba(160,112,42,0.195)"/>
<rect x="431.57" y="388.00" width="16.56" height="13.00" fill="rgba(160,112,42,0.109)"/>
<rect x="448.14" y="393.00" width="16.56" height="8.00" fill="rgba(160,112,42,0.091)"/>
<polyline points="67.2,245.0 83.8,249.4 100.3,262.0 116.9,307.0 133.4,313.8 150.0,316.0 166.6,319.3 183.1,331.7 199.7,353.8 216.3,374.4 232.8,380.7 249.4,390.9 265.9,391.0 282.5,396.4 299.1,396.0 315.6,396.5 332.2,395.5 348.8,396.9 365.3,397.5 381.9,396.4 398.4,396.6 415.0,397.7 431.6,397.4 448.1,397.9 464.7,398.8" fill="none" stroke="rgba(160,112,42,0.450)" stroke-width="1.0" stroke-linejoin="round"/>
<polyline points="67.2,244.0 83.8,241.4 100.3,246.1 116.9,247.4 133.4,253.5 150.0,257.8 166.6,264.3 183.1,265.7 199.7,267.1 216.3,266.9 232.8,268.9 249.4,272.8 265.9,271.9 282.5,271.6 299.1,275.2 315.6,274.9 332.2,277.4 348.8,361.6 365.3,362.9 381.9,390.8 398.4,394.5 415.0,397.0 431.6,396.8 448.1,399.2 464.7,401.2" fill="none" stroke="rgba(160,112,42,0.450)" stroke-width="1.0" stroke-linejoin="round"/>
<polyline points="67.2,245.0 83.8,248.5 100.3,258.3 116.9,301.1 133.4,316.8 150.0,316.7 166.6,319.5 183.1,323.3 199.7,327.3 216.3,340.0 232.8,361.3 249.4,386.0 265.9,390.2 282.5,391.1 299.1,393.8 315.6,396.6 332.2,397.2 348.8,397.7 365.3,399.1 381.9,400.2 398.4,399.1 415.0,400.0 431.6,397.7 448.1,397.9 464.7,400.4" fill="none" stroke="rgba(160,112,42,0.450)" stroke-width="1.0" stroke-linejoin="round"/>
<polyline points="67.2,244.1 83.8,248.0 100.3,258.4 116.9,307.3 133.4,312.4 150.0,317.2 166.6,320.1 183.1,331.0 199.7,352.5 216.3,377.9 232.8,384.6 249.4,391.7 265.9,394.3 282.5,395.9 299.1,393.1 315.6,397.2 332.2,396.3 348.8,395.4 365.3,396.5 381.9,394.0 398.4,396.7 415.0,398.4 431.6,397.4 448.1,398.4 464.7,399.0" fill="none" stroke="rgba(160,112,42,0.450)" stroke-width="1.0" stroke-linejoin="round"/>
<polyline points="67.2,244.1 83.8,248.3 100.3,259.1 116.9,314.5 133.4,315.4 150.0,319.2 166.6,317.2 183.1,323.7 199.7,326.4 216.3,342.0 232.8,361.9 249.4,382.7 265.9,395.1 282.5,396.3 299.1,394.7 315.6,394.2 332.2,397.5 348.8,397.0 365.3,401.5 381.9,397.1 398.4,397.6 415.0,398.6 431.6,396.7 448.1,398.3 464.7,402.5" fill="none" stroke="rgba(160,112,42,0.450)" stroke-width="1.0" stroke-linejoin="round"/>
<polyline points="67.2,242.0 83.8,240.8 100.3,243.9 116.9,245.4 133.4,247.5 150.0,251.3 166.6,260.5 183.1,264.2 199.7,264.4 216.3,267.4 232.8,264.4 249.4,266.9 265.9,269.7 282.5,271.2 299.1,271.3 315.6,278.1 332.2,335.6 348.8,392.5 365.3,393.1 381.9,394.8 398.4,395.1 415.0,393.7 431.6,395.9 448.1,399.1 464.7,396.3" fill="none" stroke="rgba(160,112,42,0.450)" stroke-width="1.0" stroke-linejoin="round"/>
<polyline points="67.0,242.0 90.0,241.0 110.0,239.0 130.0,240.0 150.0,245.0 166.0,255.0 190.0,263.0 230.0,266.0 282.0,270.0 299.0,272.0 315.0,276.0 332.0,393.0 464.7,396.0" fill="none" stroke="rgba(160,112,42,0.550)" stroke-width="1.0" stroke-linejoin="round"/>
<polyline points="67.0,243.0 100.0,240.0 125.0,245.0 140.0,255.0 160.0,258.0 200.0,264.0 250.0,268.0 299.0,272.0 350.0,277.0 366.0,393.0 420.0,393.0 437.0,397.0 464.7,398.0" fill="none" stroke="rgba(160,112,42,0.550)" stroke-width="1.0" stroke-linejoin="round"/>
<polyline points="67.0,244.0 110.0,241.0 135.0,258.0 150.0,263.0 200.0,266.0 299.0,273.0 340.0,280.0 366.0,290.0 382.0,396.0 464.7,399.0" fill="none" stroke="rgba(160,112,42,0.550)" stroke-width="1.0" stroke-linejoin="round"/>
<polyline points="67.0,243.0 95.0,245.0 120.0,250.0 140.0,255.0 170.0,266.0 220.0,268.0 299.0,274.0 338.0,276.0 345.0,390.0 464.7,400.0" fill="none" stroke="rgba(160,112,42,0.550)" stroke-width="1.0" stroke-linejoin="round"/>
<polyline points="67.0,244.0 88.0,250.0 100.0,255.0 105.0,290.0 112.0,310.0 124.0,313.0 140.0,318.0 175.0,320.0 200.0,325.0 220.0,345.0 240.0,375.0 260.0,395.0 464.7,400.0" fill="none" stroke="rgba(160,112,42,0.550)" stroke-width="1.0" stroke-linejoin="round"/>
<polyline points="67.0,245.0 92.0,250.0 103.0,265.0 110.0,300.0 118.0,314.0 150.0,318.0 185.0,322.0 210.0,330.0 230.0,350.0 250.0,385.0 290.0,396.0 464.7,400.0" fill="none" stroke="rgba(160,112,42,0.550)" stroke-width="1.0" stroke-linejoin="round"/>
<polyline points="67.0,245.0 85.0,248.0 100.0,258.0 115.0,285.0 125.0,305.0 140.0,315.0 160.0,318.0 200.0,318.0 220.0,340.0 235.0,370.0 255.0,392.0 464.7,399.0" fill="none" stroke="rgba(160,112,42,0.550)" stroke-width="1.0" stroke-linejoin="round"/>
<polyline points="67.0,244.0 98.0,252.0 108.0,282.0 118.0,311.0 150.0,318.0 176.0,320.0 190.0,345.0 210.0,380.0 225.0,392.0 464.7,399.0" fill="none" stroke="rgba(160,112,42,0.550)" stroke-width="1.0" stroke-linejoin="round"/>
<polyline points="67.0,244.0 95.0,248.0 104.0,260.0 114.0,292.0 130.0,312.0 160.0,318.0 195.0,325.0 225.0,352.0 245.0,385.0 300.0,397.0 464.7,400.0" fill="none" stroke="rgba(160,112,42,0.550)" stroke-width="1.0" stroke-linejoin="round"/>
<polyline points="67.0,242.0 83.5,243.2 117.1,243.2 133.2,251.3 149.2,252.0 166.0,260.0 181.9,262.2 214.7,264.4 247.6,266.6 265.1,268.8 282.6,271.0 300.1,271.0 313.6,273.6 332.0,277.5 339.9,330.1 346.5,382.6 366.2,395.8 382.0,399.7 447.6,400.5 464.7,400.5" fill="none" stroke="rgba(160,112,42,0.950)" stroke-width="2.8" stroke-linejoin="round"/>
<polyline points="67.0,243.0 83.5,243.2 90.0,246.9 99.6,249.8 108.3,274.6 115.6,299.5 124.4,308.2 133.2,317.0 149.9,319.2 160.0,319.2 181.9,321.3 199.4,332.3 214.7,347.6 232.3,363.0 247.6,389.2 265.1,395.8 282.6,398.0 310.0,399.1 464.7,400.0" fill="none" stroke="rgba(160,112,42,0.950)" stroke-width="2.8" stroke-linejoin="round"/>
<line x1="299.1" y1="210.7" x2="299.1" y2="410.0" stroke="#999" stroke-width="1" stroke-dasharray="3.5,2"/>
<polygon points="83.8,236.9 90.1,243.2 83.8,249.5 77.5,243.2" fill="rgb(139,107,53)" stroke="#222" stroke-width="0.8"/>
<polygon points="150.0,314.3 154.3,316.8 154.3,321.6 150.0,324.1 145.8,321.6 145.8,316.8" fill="rgb(139,107,53)" stroke="#222" stroke-width="0.8"/>
<rect x="277.6" y="266.1" width="9.8" height="9.8" fill="rgb(139,107,53)" stroke="#222" stroke-width="0.8"/>
<circle cx="448.1" cy="400.5" r="4.8" fill="rgb(139,107,53)" stroke="#222" stroke-width="0.8"/>
</g>
<circle cx="409.3" cy="264.8" r="49.2" fill="#fff"/>
<clipPath id="iclip_c"><circle cx="409.3" cy="264.8" r="49.2"/></clipPath>
<polygon clip-path="url(#iclip_c)" points="360.6,270.4 376.7,271.2 379.1,266.4 381.5,262.4 389.5,264.0 393.5,266.4 391.9,276.8 389.5,279.3 383.1,280.1 371.1,294.5 355.0,290.0" fill="rgb(160,112,42)"/>
<path d="M367.9,237.7 367.6,239.2 367.6,239.8 367.3,240.3 368.3,242.5 369.2,241.3 369.4,241.7 369.4,242.3 370.6,242.8 371.3,243.3 371.3,244.5 372.0,244.1 372.1,245.0 373.5,245.1 373.0,246.1 373.2,246.0 374.6,246.6 374.9,246.8 374.2,247.2 375.7,246.1 376.9,247.4 377.2,246.8 378.0,247.5 379.2,248.2 379.2,248.8 379.6,248.2 380.5,249.3 380.7,249.0 381.4,248.6 382.2,250.3 381.7,250.5 382.4,251.4 382.3,251.1 384.0,252.6 383.1,252.4 384.6,252.9 385.6,253.1 385.5,253.7 386.1,254.8 385.5,254.7 386.7,256.4 386.4,257.2 386.5,257.0 386.1,257.5 387.3,257.8 386.7,259.0 387.4,260.0 387.0,259.5 387.9,261.4 388.5,261.6 388.5,261.1 389.1,260.9 389.3,260.1 390.1,259.7 390.7,260.1 391.8,259.2 390.8,258.1 392.0,258.2 391.8,258.2 393.9,256.8 393.6,256.7 394.6,257.1 396.1,256.4 396.1,256.3 397.2,256.2 397.6,255.1 397.3,254.7 398.4,254.7 397.9,253.7 398.7,253.0 398.4,252.9 400.1,252.0 398.9,251.0 398.7,251.1 399.9,250.3 399.9,249.8 400.0,248.4 400.4,249.0 401.0,248.6 401.7,248.5 401.9,248.3 400.8,248.6 400.6,248.7 398.8,248.1 398.9,247.6 399.1,247.5 398.9,246.5 398.8,245.8 397.6,245.8 397.5,245.6 398.2,244.9 397.7,243.1 397.8,242.8 397.6,242.1 398.1,242.0 398.0,241.1 398.1,239.6 398.3,238.9 398.9,239.3 399.2,238.5 400.3,237.8 400.0,236.9 399.5,236.8 399.8,236.2 401.0,235.9 401.3,234.6 401.9,234.2 402.0,234.0 402.4,233.4 402.4,232.9 402.3,232.6 403.2,232.8 404.8,231.0 404.8,231.5 404.7,231.4 405.5,230.0 406.2,230.6 407.0,230.0 407.9,230.8 407.7,230.1 408.9,230.0 410.3,230.4 409.7,230.0 410.7,231.5 411.3,230.6 412.2,230.5 413.6,230.4 413.5,230.7 414.1,230.2 415.2,230.7 415.1,230.4 415.4,231.1 416.8,231.3 417.5,231.3 417.6,231.4 418.5,231.0 419.2,231.7 419.6,231.0 420.3,232.5 420.4,232.0 421.0,233.0 420.7,233.0 422.6,232.8 423.2,233.8 422.8,234.1 422.9,234.1 425.1,234.0 425.8,234.4 426.0,234.4 425.2,234.1 427.0,233.9 427.0,234.6 427.9,233.6 428.6,234.8 429.3,234.8 430.9,234.4 430.1,234.4 431.0,236.0 431.5,236.4 431.6,236.9 432.2,236.7 432.5,236.3 433.5,236.6 434.0,237.5 435.0,238.6 436.1,237.1 436.7,237.6 436.7,238.0 437.3,236.2 438.7,237.4 439.6,237.6 439.0,238.8 439.7,238.4 441.4,238.6 441.3,238.7 442.4,238.5 442.9,239.4 444.2,239.1 443.0,240.3 443.4,240.7 443.8,241.7 443.6,241.8 443.0,242.1 444.9,242.8 444.0,243.2 444.7,244.4 444.0,245.3 444.7,245.9 444.4,247.0 445.0,246.7 444.7,247.3 445.4,248.0 445.7,249.0 445.9,249.8 445.4,249.3 445.7,251.2 445.8,251.8 444.8,251.5 443.9,252.4 443.7,251.7 442.4,252.0 442.9,252.4 441.3,252.9 441.6,252.9 440.7,253.2 440.0,253.2 438.8,253.8 438.6,254.2 437.0,253.8 437.8,253.5 436.9,254.2 437.6,253.8 437.9,254.6 439.2,254.2 439.3,254.4 440.3,253.9 439.9,254.6 440.6,254.3 441.8,254.9 441.9,255.2 442.1,255.4 442.7,254.9 444.2,255.6 444.1,255.8 445.2,256.3 445.5,257.1 445.7,256.8 446.3,257.8 447.4,258.4 447.3,258.2 448.1,258.6 448.5,259.6 448.2,259.8 448.9,261.1 450.6,260.8 449.8,260.3 450.1,261.9 449.8,262.9 449.8,263.1 450.8,263.3 451.3,264.9 450.5,264.4 451.7,265.7 451.0,266.2 451.6,266.9 452.2,267.8 452.8,268.9 452.4,269.4 452.9,269.8 451.9,270.5 452.6,271.5 452.7,271.6 452.8,272.8 452.6,272.6 452.6,273.2 452.4,274.1 452.4,275.6 452.0,275.4 451.7,276.2 450.8,276.0 450.8,277.1 450.4,277.1 449.5,278.0 450.1,278.4 449.1,278.9 448.2,279.1 448.0,279.9 447.7,279.8 447.8,281.7 446.8,281.6 446.6,282.4 445.5,283.3 445.6,283.7 445.5,283.6 445.1,284.7 444.4,284.8 444.2,284.7 444.7,286.4 443.8,287.2 443.1,287.2 444.0,288.2 442.0,286.8 442.2,289.3 442.2,289.3 442.4,289.5 442.0,290.8 441.8,291.2 440.9,291.8 440.6,292.7 441.6,292.3 439.0,293.0 439.8,294.2 439.7,293.9 438.3,295.2 437.5,295.5 437.3,295.7 437.2,296.0 436.6,295.6 435.8,296.4 435.2,297.3 434.4,296.6 433.5,297.0 433.6,297.0 433.2,297.7 431.9,297.2 431.5,298.3 430.0,298.7 430.9,298.6 429.8,299.7 429.5,298.4 428.4,298.9 427.7,298.1 427.5,299.1 426.6,299.5 426.3,299.7 424.9,300.2 425.3,299.7 424.6,299.8 423.1,300.3 422.4,299.9 421.9,299.5 420.9,298.8 421.3,299.1 420.2,298.6 419.7,298.1 418.4,298.5 418.0,298.0 417.7,298.1 417.1,298.8 417.0,298.4 416.0,297.4 414.7,297.3 414.3,296.6 415.5,296.9 415.4,295.1 415.1,294.5 415.1,294.1 415.0,294.7 415.3,294.0 415.2,292.2 415.9,292.5 415.3,291.2 415.2,290.5 416.5,289.9 416.0,288.8 416.2,289.2 415.9,288.5 414.8,288.7 415.0,287.3 415.1,285.9 414.4,286.3 414.3,286.4 414.0,284.5 413.9,284.8 414.3,283.6 413.7,283.8 414.9,282.9 414.2,283.2 413.9,281.6 416.3,281.1 415.1,280.2 415.2,279.6 414.3,279.7 413.3,279.5 412.8,278.3 413.0,277.9 412.8,278.0 412.1,276.9 411.5,276.5 411.6,276.2 410.9,275.8 409.9,275.8 409.3,275.0 409.9,274.1 408.8,273.5 408.1,273.1 407.0,274.0 406.9,275.4 406.6,275.5 406.1,275.6 405.4,275.4 405.4,277.4 405.2,277.0 405.4,277.5 404.1,277.7 403.6,278.6 404.6,279.2 403.0,279.5 403.0,279.5 402.9,281.1 402.6,281.6 401.5,281.0 402.3,282.7 400.6,282.8 401.0,283.5 400.7,283.5 400.1,284.1 399.4,283.5 397.5,284.2 397.5,285.0 398.0,285.3 396.9,285.5 397.0,285.4 396.3,286.3 395.4,286.9 394.3,286.9 393.6,286.4 393.0,286.6 392.5,286.2 391.9,286.4 392.7,285.7 392.1,285.6 391.8,285.1 389.5,285.4 389.6,284.0 388.9,283.3 388.6,283.2 388.8,283.5 386.8,282.1 386.8,281.5 386.5,281.9 385.7,281.3 385.9,281.7 385.9,280.5 385.3,279.7 384.7,279.1 384.5,278.5 383.4,278.6 383.9,277.3 383.2,277.4 383.3,276.3 383.0,276.0 383.4,275.7 382.0,273.8 382.4,274.7 382.1,274.1 381.4,272.6 381.6,272.8 381.2,271.6 380.6,271.5 380.6,271.0 379.3,270.8 379.6,270.8 378.1,270.0 377.3,270.8 376.4,269.5 377.7,269.8 377.5,269.0 378.1,268.4 378.0,268.1 378.2,267.4 377.8,266.5 378.0,264.8 378.9,264.4 378.9,263.7 379.4,263.6 378.2,263.1 379.1,262.1 379.0,262.7 379.1,261.2 378.5,260.9 378.0,258.7 378.1,259.0 378.9,258.9 377.4,257.8 377.8,257.3 377.0,257.1 376.8,256.8 376.3,256.9 376.5,255.1 376.3,255.5 375.2,254.7 374.3,254.7 373.7,254.6 373.6,253.3 373.0,253.5 373.0,252.5 372.3,252.1 371.6,251.0 372.5,250.9 371.5,250.2 371.6,250.8 370.5,249.7 369.9,249.8 370.2,248.1 369.9,248.1 369.1,247.6 368.2,246.7 368.5,246.4 367.6,246.7 367.6,245.0 367.1,245.0 367.6,244.3 367.3,243.0 366.4,242.9 366.3,242.7 365.5,243.3 366.2,241.5 367.1,241.1 366.9,238.8 366.4,239.9Z" fill="none" stroke="#000" stroke-width="1.5" stroke-linejoin="round"/>
<path d="M366.8,238.3 367.5,243.3 369.8,247.8 372.8,252.3 375.8,255.8 377.8,258.8" fill="none" stroke="#000" stroke-width="2.6" stroke-linejoin="round"/>
<circle cx="409.3" cy="264.8" r="49.2" fill="none" stroke="#000" stroke-width="2"/>
<rect x="67.2" y="210.7" width="397.5" height="199.3" fill="none" stroke="#000" stroke-width="2"/>
<line x1="58" y1="409.8" x2="67.2" y2="409.8" stroke="#000" stroke-width="1.5"/>
<text transform="translate(48.00,416.50) scale(1.180,1)" font-family="Liberation Serif" font-size="17.5" text-anchor="end">0.0</text>
<line x1="58" y1="375.1" x2="67.2" y2="375.1" stroke="#000" stroke-width="1.5"/>
<text transform="translate(48.00,381.78) scale(1.180,1)" font-family="Liberation Serif" font-size="17.5" text-anchor="end">0.2</text>
<line x1="58" y1="340.4" x2="67.2" y2="340.4" stroke="#000" stroke-width="1.5"/>
<text transform="translate(48.00,347.06) scale(1.180,1)" font-family="Liberation Serif" font-size="17.5" text-anchor="end">0.4</text>
<line x1="58" y1="305.6" x2="67.2" y2="305.6" stroke="#000" stroke-width="1.5"/>
<text transform="translate(48.00,312.34) scale(1.180,1)" font-family="Liberation Serif" font-size="17.5" text-anchor="end">0.6</text>
<line x1="58" y1="270.9" x2="67.2" y2="270.9" stroke="#000" stroke-width="1.5"/>
<text transform="translate(48.00,277.62) scale(1.180,1)" font-family="Liberation Serif" font-size="17.5" text-anchor="end">0.8</text>
<line x1="58" y1="236.2" x2="67.2" y2="236.2" stroke="#000" stroke-width="1.5"/>
<text transform="translate(48.00,242.90) scale(1.180,1)" font-family="Liberation Serif" font-size="17.5" text-anchor="end">1.0</text>
<line x1="67.2" y1="410.0" x2="67.2" y2="419.0" stroke="#000" stroke-width="1.5"/>
<line x1="83.8" y1="410.0" x2="83.8" y2="415.0" stroke="#000" stroke-width="1.2"/>
<line x1="100.3" y1="410.0" x2="100.3" y2="415.0" stroke="#000" stroke-width="1.2"/>
<line x1="116.9" y1="410.0" x2="116.9" y2="415.0" stroke="#000" stroke-width="1.2"/>
<line x1="133.4" y1="410.0" x2="133.4" y2="419.0" stroke="#000" stroke-width="1.5"/>
<line x1="150.0" y1="410.0" x2="150.0" y2="415.0" stroke="#000" stroke-width="1.2"/>
<line x1="166.6" y1="410.0" x2="166.6" y2="415.0" stroke="#000" stroke-width="1.2"/>
<line x1="183.1" y1="410.0" x2="183.1" y2="415.0" stroke="#000" stroke-width="1.2"/>
<line x1="199.7" y1="410.0" x2="199.7" y2="419.0" stroke="#000" stroke-width="1.5"/>
<line x1="216.3" y1="410.0" x2="216.3" y2="415.0" stroke="#000" stroke-width="1.2"/>
<line x1="232.8" y1="410.0" x2="232.8" y2="415.0" stroke="#000" stroke-width="1.2"/>
<line x1="249.4" y1="410.0" x2="249.4" y2="415.0" stroke="#000" stroke-width="1.2"/>
<line x1="265.9" y1="410.0" x2="265.9" y2="419.0" stroke="#000" stroke-width="1.5"/>
<line x1="282.5" y1="410.0" x2="282.5" y2="415.0" stroke="#000" stroke-width="1.2"/>
<line x1="299.1" y1="410.0" x2="299.1" y2="415.0" stroke="#000" stroke-width="1.2"/>
<line x1="315.6" y1="410.0" x2="315.6" y2="415.0" stroke="#000" stroke-width="1.2"/>
<line x1="332.2" y1="410.0" x2="332.2" y2="419.0" stroke="#000" stroke-width="1.5"/>
<line x1="348.8" y1="410.0" x2="348.8" y2="415.0" stroke="#000" stroke-width="1.2"/>
<line x1="365.3" y1="410.0" x2="365.3" y2="415.0" stroke="#000" stroke-width="1.2"/>
<line x1="381.9" y1="410.0" x2="381.9" y2="415.0" stroke="#000" stroke-width="1.2"/>
<line x1="398.4" y1="410.0" x2="398.4" y2="419.0" stroke="#000" stroke-width="1.5"/>
<line x1="415.0" y1="410.0" x2="415.0" y2="415.0" stroke="#000" stroke-width="1.2"/>
<line x1="431.6" y1="410.0" x2="431.6" y2="415.0" stroke="#000" stroke-width="1.2"/>
<line x1="448.1" y1="410.0" x2="448.1" y2="415.0" stroke="#000" stroke-width="1.2"/>
<line x1="464.7" y1="410.0" x2="464.7" y2="419.0" stroke="#000" stroke-width="1.5"/>
<text x="75.2" y="230.5" font-family="Liberation Sans" font-size="16">Thwaites (Type C)</text>
<text x="11.4" y="221.1" font-family="Liberation Sans" font-size="14" text-anchor="middle">c</text>
<text transform="translate(16.0,392.7) rotate(-90)" font-family="Liberation Sans" font-size="15.5">Ice volume</text>
<text transform="translate(16.0,311.7) rotate(-90) scale(1.17,1)" font-family="Liberation Serif" font-size="16">[x10<tspan font-size="14" dy="-6.6">15</tspan><tspan dy="6.6"> m</tspan><tspan font-size="14" dy="-6.6">3</tspan><tspan dy="6.6">]</tspan></text>
<clipPath id="clip_e"><rect x="67.2" y="420.0" width="397.5" height="199.0"/></clipPath>
<g clip-path="url(#clip_e)">
<rect x="67.20" y="460.40" width="16.56" height="17.60" fill="rgba(186,72,158,0.216)"/>
<rect x="67.20" y="478.00" width="16.56" height="23.00" fill="rgba(186,72,158,0.060)"/>
<rect x="83.76" y="463.40" width="16.56" height="8.60" fill="rgba(186,72,158,0.162)"/>
<rect x="83.76" y="472.00" width="16.56" height="23.50" fill="rgba(186,72,158,0.378)"/>
<rect x="83.76" y="495.50" width="16.56" height="11.50" fill="rgba(186,72,158,0.076)"/>
<rect x="100.33" y="466.30" width="16.56" height="11.70" fill="rgba(186,72,158,0.270)"/>
<rect x="100.33" y="478.00" width="16.56" height="23.30" fill="rgba(186,72,158,0.486)"/>
<rect x="100.33" y="501.30" width="16.56" height="8.70" fill="rgba(186,72,158,0.162)"/>
<rect x="116.89" y="469.20" width="16.56" height="11.80" fill="rgba(186,72,158,0.324)"/>
<rect x="116.89" y="481.00" width="16.56" height="26.00" fill="rgba(186,72,158,0.486)"/>
<rect x="116.89" y="507.00" width="16.56" height="9.00" fill="rgba(186,72,158,0.216)"/>
<rect x="116.89" y="516.00" width="16.56" height="6.00" fill="rgba(186,72,158,0.038)"/>
<rect x="133.45" y="472.00" width="16.56" height="12.00" fill="rgba(186,72,158,0.324)"/>
<rect x="133.45" y="484.00" width="16.56" height="29.00" fill="rgba(186,72,158,0.486)"/>
<rect x="133.45" y="513.00" width="16.56" height="11.70" fill="rgba(186,72,158,0.162)"/>
<rect x="133.45" y="524.70" width="16.56" height="8.70" fill="rgba(186,72,158,0.038)"/>
<rect x="150.01" y="460.40" width="16.56" height="17.60" fill="rgba(186,72,158,0.076)"/>
<rect x="150.01" y="478.00" width="16.56" height="14.50" fill="rgba(186,72,158,0.270)"/>
<rect x="150.01" y="492.50" width="16.56" height="26.50" fill="rgba(186,72,158,0.486)"/>
<rect x="150.01" y="519.00" width="16.56" height="8.60" fill="rgba(186,72,158,0.162)"/>
<rect x="150.01" y="527.60" width="16.56" height="23.40" fill="rgba(186,72,158,0.038)"/>
<rect x="166.57" y="460.40" width="16.56" height="17.60" fill="rgba(186,72,158,0.060)"/>
<rect x="166.57" y="478.00" width="16.56" height="20.40" fill="rgba(186,72,158,0.216)"/>
<rect x="166.57" y="498.40" width="16.56" height="26.30" fill="rgba(186,72,158,0.432)"/>
<rect x="166.57" y="524.70" width="16.56" height="11.70" fill="rgba(186,72,158,0.162)"/>
<rect x="166.57" y="536.40" width="16.56" height="43.60" fill="rgba(186,72,158,0.045)"/>
<rect x="183.14" y="463.40" width="16.56" height="20.40" fill="rgba(186,72,158,0.045)"/>
<rect x="183.14" y="483.80" width="16.56" height="16.20" fill="rgba(186,72,158,0.216)"/>
<rect x="183.14" y="500.00" width="16.56" height="41.00" fill="rgba(186,72,158,0.432)"/>
<rect x="183.14" y="541.00" width="16.56" height="12.00" fill="rgba(186,72,158,0.216)"/>
<rect x="183.14" y="553.00" width="16.56" height="29.00" fill="rgba(186,72,158,0.060)"/>
<rect x="199.70" y="466.30" width="16.56" height="23.30" fill="rgba(186,72,158,0.060)"/>
<rect x="199.70" y="489.60" width="16.56" height="10.40" fill="rgba(186,72,158,0.216)"/>
<rect x="199.70" y="500.00" width="16.56" height="28.60" fill="rgba(186,72,158,0.410)"/>
<rect x="199.70" y="528.60" width="16.56" height="12.40" fill="rgba(186,72,158,0.454)"/>
<rect x="199.70" y="541.00" width="16.56" height="12.00" fill="rgba(186,72,158,0.270)"/>
<rect x="199.70" y="553.00" width="16.56" height="14.00" fill="rgba(186,72,158,0.162)"/>
<rect x="199.70" y="567.00" width="16.56" height="28.00" fill="rgba(186,72,158,0.038)"/>
<rect x="216.26" y="469.20" width="16.56" height="29.20" fill="rgba(186,72,158,0.060)"/>
<rect x="216.26" y="498.40" width="16.56" height="23.40" fill="rgba(186,72,158,0.270)"/>
<rect x="216.26" y="521.80" width="16.56" height="29.20" fill="rgba(186,72,158,0.432)"/>
<rect x="216.26" y="551.00" width="16.56" height="23.30" fill="rgba(186,72,158,0.216)"/>
<rect x="216.26" y="574.30" width="16.56" height="29.20" fill="rgba(186,72,158,0.076)"/>
<rect x="232.82" y="472.00" width="16.56" height="26.40" fill="rgba(186,72,158,0.060)"/>
<rect x="232.82" y="498.40" width="16.56" height="29.20" fill="rgba(186,72,158,0.270)"/>
<rect x="232.82" y="527.60" width="16.56" height="29.20" fill="rgba(186,72,158,0.432)"/>
<rect x="232.82" y="556.80" width="16.56" height="23.20" fill="rgba(186,72,158,0.216)"/>
<rect x="232.82" y="580.00" width="16.56" height="32.30" fill="rgba(186,72,158,0.076)"/>
<rect x="249.39" y="472.00" width="16.56" height="32.20" fill="rgba(186,72,158,0.060)"/>
<rect x="249.39" y="504.20" width="16.56" height="17.60" fill="rgba(186,72,158,0.216)"/>
<rect x="249.39" y="521.80" width="16.56" height="40.80" fill="rgba(186,72,158,0.432)"/>
<rect x="249.39" y="562.60" width="16.56" height="29.20" fill="rgba(186,72,158,0.216)"/>
<rect x="249.39" y="591.80" width="16.56" height="23.20" fill="rgba(186,72,158,0.091)"/>
<rect x="265.95" y="454.60" width="16.56" height="20.40" fill="rgba(186,72,158,0.045)"/>
<rect x="265.95" y="475.00" width="16.56" height="23.40" fill="rgba(186,72,158,0.091)"/>
<rect x="265.95" y="498.40" width="16.56" height="11.60" fill="rgba(186,72,158,0.238)"/>
<rect x="265.95" y="510.00" width="16.56" height="57.40" fill="rgba(186,72,158,0.432)"/>
<rect x="265.95" y="567.40" width="16.56" height="18.40" fill="rgba(186,72,158,0.216)"/>
<rect x="265.95" y="585.80" width="16.56" height="16.40" fill="rgba(186,72,158,0.091)"/>
<rect x="265.95" y="602.20" width="16.56" height="12.80" fill="rgba(186,72,158,0.162)"/>
<rect x="282.51" y="457.50" width="16.56" height="23.50" fill="rgba(186,72,158,0.045)"/>
<rect x="282.51" y="481.00" width="16.56" height="26.00" fill="rgba(186,72,158,0.162)"/>
<rect x="282.51" y="507.00" width="16.56" height="64.40" fill="rgba(186,72,158,0.432)"/>
<rect x="282.51" y="571.40" width="16.56" height="18.60" fill="rgba(186,72,158,0.270)"/>
<rect x="282.51" y="590.00" width="16.56" height="16.00" fill="rgba(186,72,158,0.216)"/>
<rect x="282.51" y="606.00" width="16.56" height="9.00" fill="rgba(186,72,158,0.324)"/>
<rect x="299.07" y="472.00" width="16.56" height="35.00" fill="rgba(186,72,158,0.076)"/>
<rect x="299.07" y="507.00" width="16.56" height="29.40" fill="rgba(186,72,158,0.324)"/>
<rect x="299.07" y="536.40" width="16.56" height="29.10" fill="rgba(186,72,158,0.378)"/>
<rect x="299.07" y="565.50" width="16.56" height="49.50" fill="rgba(186,72,158,0.270)"/>
<rect x="315.64" y="483.80" width="16.56" height="38.00" fill="rgba(186,72,158,0.060)"/>
<rect x="315.64" y="521.80" width="16.56" height="35.00" fill="rgba(186,72,158,0.216)"/>
<rect x="315.64" y="556.80" width="16.56" height="29.20" fill="rgba(186,72,158,0.216)"/>
<rect x="315.64" y="586.00" width="16.56" height="29.00" fill="rgba(186,72,158,0.270)"/>
<rect x="332.20" y="498.40" width="16.56" height="38.00" fill="rgba(186,72,158,0.045)"/>
<rect x="332.20" y="536.40" width="16.56" height="35.00" fill="rgba(186,72,158,0.162)"/>
<rect x="332.20" y="571.40" width="16.56" height="43.60" fill="rgba(186,72,158,0.162)"/>
<rect x="348.76" y="513.00" width="16.56" height="38.00" fill="rgba(186,72,158,0.038)"/>
<rect x="348.76" y="551.00" width="16.56" height="64.00" fill="rgba(186,72,158,0.076)"/>
<rect x="365.32" y="527.60" width="16.56" height="29.20" fill="rgba(186,72,158,0.030)"/>
<rect x="365.32" y="556.80" width="16.56" height="46.70" fill="rgba(186,72,158,0.060)"/>
<rect x="365.32" y="603.50" width="16.56" height="11.50" fill="rgba(186,72,158,0.162)"/>
<rect x="381.89" y="603.50" width="16.56" height="11.50" fill="rgba(186,72,158,0.091)"/>
<rect x="398.45" y="606.40" width="16.56" height="8.60" fill="rgba(186,72,158,0.076)"/>
<rect x="415.01" y="609.30" width="16.56" height="5.70" fill="rgba(186,72,158,0.076)"/>
<rect x="431.57" y="609.30" width="16.56" height="5.70" fill="rgba(186,72,158,0.076)"/>
<rect x="448.14" y="609.30" width="16.56" height="5.70" fill="rgba(186,72,158,0.076)"/>
<polyline points="67.2,461.1 83.8,465.7 100.3,472.7 116.9,476.8 133.4,484.7 150.0,487.7 166.6,493.0 183.1,500.8 199.7,507.5 216.3,513.9 232.8,522.3 249.4,532.4 265.9,541.5 282.5,550.1 299.1,561.3 315.6,583.5 332.2,605.7 348.8,611.9 365.3,614.5 381.9,613.4 398.4,615.9 415.0,615.5 431.6,614.0 448.1,616.0 464.7,612.6" fill="none" stroke="rgba(186,72,158,0.450)" stroke-width="1.0" stroke-linejoin="round"/>
<polyline points="67.2,461.1 83.8,466.8 100.3,473.4 116.9,477.7 133.4,482.5 150.0,487.6 166.6,494.1 183.1,502.3 199.7,508.8 216.3,514.6 232.8,521.7 249.4,533.6 265.9,539.7 282.5,551.8 299.1,563.6 315.6,603.3 332.2,609.1 348.8,613.1 365.3,613.0 381.9,611.8 398.4,613.9 415.0,615.4 431.6,613.5 448.1,614.7 464.7,613.8" fill="none" stroke="rgba(186,72,158,0.450)" stroke-width="1.0" stroke-linejoin="round"/>
<polyline points="67.2,455.0 83.8,455.5 100.3,457.2 116.9,458.4 133.4,462.8 150.0,467.9 166.6,476.2 183.1,481.6 199.7,488.6 216.3,497.2 232.8,502.9 249.4,506.2 265.9,504.8 282.5,510.8 299.1,514.2 315.6,526.9 332.2,540.7 348.8,558.9 365.3,569.9 381.9,603.6 398.4,607.3 415.0,607.8 431.6,609.4 448.1,609.7 464.7,612.2" fill="none" stroke="rgba(186,72,158,0.450)" stroke-width="1.0" stroke-linejoin="round"/>
<polyline points="67.2,460.1 83.8,459.6 100.3,471.9 116.9,478.9 133.4,483.3 150.0,488.8 166.6,497.0 183.1,501.6 199.7,508.9 216.3,518.6 232.8,525.5 249.4,537.1 265.9,544.8 282.5,554.9 299.1,565.4 315.6,594.9 332.2,607.6 348.8,612.6 365.3,613.7 381.9,615.9 398.4,614.7 415.0,611.5 431.6,613.4 448.1,612.6 464.7,612.6" fill="none" stroke="rgba(186,72,158,0.450)" stroke-width="1.0" stroke-linejoin="round"/>
<polyline points="67.2,460.1 83.8,462.0 100.3,472.1 116.9,478.5 133.4,484.6 150.0,490.5 166.6,498.9 183.1,501.6 199.7,507.6 216.3,513.2 232.8,525.8 249.4,533.2 265.9,542.1 282.5,552.4 299.1,566.3 315.6,604.4 332.2,613.1 348.8,613.1 365.3,612.8 381.9,612.1 398.4,612.8 415.0,612.9 431.6,610.3 448.1,617.7 464.7,615.4" fill="none" stroke="rgba(186,72,158,0.450)" stroke-width="1.0" stroke-linejoin="round"/>
<polyline points="67.2,459.0 83.8,462.6 100.3,469.6 116.9,473.7 133.4,480.6 150.0,483.4 166.6,491.8 183.1,500.0 199.7,502.2 216.3,509.4 232.8,513.4 249.4,520.1 265.9,524.8 282.5,528.5 299.1,532.8 315.6,558.0 332.2,598.7 348.8,609.0 365.3,611.2 381.9,611.7 398.4,610.3 415.0,612.1 431.6,617.2 448.1,614.6 464.7,614.1" fill="none" stroke="rgba(186,72,158,0.450)" stroke-width="1.0" stroke-linejoin="round"/>
<polyline points="67.2,460.1 83.8,462.5 100.3,468.4 116.9,476.8 133.4,483.8 150.0,485.0 166.6,496.0 183.1,498.3 199.7,506.9 216.3,513.9 232.8,522.0 249.4,530.1 265.9,539.8 282.5,548.0 299.1,560.6 315.6,591.5 332.2,607.3 348.8,615.8 365.3,613.8 381.9,613.5 398.4,615.3 415.0,613.4 431.6,611.4 448.1,610.3 464.7,615.9" fill="none" stroke="rgba(186,72,158,0.450)" stroke-width="1.0" stroke-linejoin="round"/>
<polyline points="67.2,461.1 83.8,465.1 100.3,471.3 116.9,479.1 133.4,482.5 150.0,486.1 166.6,493.2 183.1,502.1 199.7,505.3 216.3,510.6 232.8,519.3 249.4,529.4 265.9,541.7 282.5,551.1 299.1,560.9 315.6,585.2 332.2,603.3 348.8,612.0 365.3,611.6 381.9,612.4 398.4,611.8 415.0,615.9 431.6,609.9 448.1,613.9 464.7,612.5" fill="none" stroke="rgba(186,72,158,0.450)" stroke-width="1.0" stroke-linejoin="round"/>
<polyline points="67.0,455.0 100.0,454.0 130.0,462.0 160.0,472.0 190.0,485.0 220.0,497.0 250.0,505.0 282.0,512.0 299.0,516.0 320.0,530.0 350.0,548.0 365.0,560.0 380.0,605.0 464.7,612.0" fill="none" stroke="rgba(186,72,158,0.550)" stroke-width="1.0" stroke-linejoin="round"/>
<polyline points="67.0,456.0 100.0,457.0 140.0,465.0 170.0,478.0 200.0,492.0 230.0,503.0 260.0,509.0 299.0,515.0 325.0,545.0 340.0,565.0 355.0,600.0 464.7,613.0" fill="none" stroke="rgba(186,72,158,0.550)" stroke-width="1.0" stroke-linejoin="round"/>
<polyline points="67.0,458.0 110.0,466.0 140.0,476.0 170.0,488.0 200.0,499.0 230.0,507.0 270.0,511.0 299.0,517.0 310.0,540.0 330.0,600.0 464.7,613.0" fill="none" stroke="rgba(186,72,158,0.550)" stroke-width="1.0" stroke-linejoin="round"/>
<polyline points="67.0,459.0 100.0,467.0 130.0,478.0 160.0,488.0 190.0,498.0 220.0,506.0 250.0,512.0 299.0,519.0 320.0,555.0 335.0,608.0 464.7,614.0" fill="none" stroke="rgba(186,72,158,0.550)" stroke-width="1.0" stroke-linejoin="round"/>
<polyline points="67.0,460.0 100.0,471.0 130.0,482.0 160.0,493.0 190.0,503.0 220.0,514.0 250.0,530.0 280.0,548.0 299.0,560.0 310.0,590.0 320.0,611.0 464.7,614.0" fill="none" stroke="rgba(186,72,158,0.550)" stroke-width="1.0" stroke-linejoin="round"/>
<polyline points="67.0,459.0 95.0,468.0 125.0,480.0 150.0,490.0 180.0,500.0 210.0,510.0 240.0,522.0 270.0,540.0 299.0,556.0 330.0,575.0 345.0,610.0 464.7,614.0" fill="none" stroke="rgba(186,72,158,0.550)" stroke-width="1.0" stroke-linejoin="round"/>
<polyline points="67.0,461.0 105.0,474.0 140.0,486.0 175.0,498.0 210.0,512.0 240.0,528.0 275.0,548.0 299.0,566.0 305.0,600.0 315.0,612.0 464.7,614.0" fill="none" stroke="rgba(186,72,158,0.550)" stroke-width="1.0" stroke-linejoin="round"/>
<polyline points="67.0,460.0 110.0,473.0 150.0,487.0 190.0,502.0 225.0,518.0 262.0,537.0 299.0,560.0 320.0,580.0 340.0,612.0 464.7,614.0" fill="none" stroke="rgba(186,72,158,0.550)" stroke-width="1.0" stroke-linejoin="round"/>
<polyline points="67.0,457.5 83.5,460.3 108.0,469.8 129.0,478.5 150.0,487.5 171.0,495.0 192.0,502.0 213.0,507.5 234.0,510.0 262.0,511.8 282.2,514.6 298.5,517.3 315.6,535.7 332.7,551.5 341.9,575.1 349.8,590.9 362.9,611.9 380.0,614.0 464.7,614.0" fill="none" stroke="rgba(186,72,158,0.950)" stroke-width="2.8" stroke-linejoin="round"/>
<polyline points="67.0,458.0 83.5,460.3 108.0,475.0 129.0,483.8 150.0,491.9 171.0,501.3 192.0,508.3 213.0,515.3 234.0,527.6 255.2,541.6 276.2,553.9 298.5,563.5 305.1,580.4 314.3,606.6 323.5,611.9 347.1,613.2 380.0,614.0 464.7,614.0" fill="none" stroke="rgba(186,72,158,0.950)" stroke-width="2.8" stroke-linejoin="round"/>
<line x1="299.1" y1="420.0" x2="299.1" y2="619.0" stroke="#999" stroke-width="1" stroke-dasharray="3.5,2"/>
<polygon points="83.8,453.8 90.1,460.1 83.8,466.4 77.5,460.1" fill="rgb(160,74,144)" stroke="#222" stroke-width="0.8"/>
<polygon points="150.0,487.0 154.3,489.4 154.3,494.3 150.0,496.8 145.8,494.3 145.8,489.4" fill="rgb(160,74,144)" stroke="#222" stroke-width="0.8"/>
<rect x="277.6" y="510.3" width="9.8" height="9.8" fill="rgb(160,74,144)" stroke="#222" stroke-width="0.8"/>
<circle cx="448.1" cy="614.0" r="4.8" fill="rgb(160,74,144)" stroke="#222" stroke-width="0.8"/>
</g>
<circle cx="409.3" cy="474.1" r="49.2" fill="#fff"/>
<clipPath id="iclip_e"><circle cx="409.3" cy="474.1" r="49.2"/></clipPath>
<polygon clip-path="url(#iclip_e)" points="391.9,476.2 407.2,475.9 406.4,482.6 410.4,487.4 408.8,495.5 408.0,500.3 401.6,509.9 395.1,520.4 387.9,518.0 391.9,506.7 392.7,495.5 387.9,487.4 389.5,481.0" fill="rgb(186,72,158)"/>
<path d="M367.9,447.0 367.6,448.5 367.6,449.1 367.3,449.6 368.3,451.8 369.2,450.6 369.4,451.0 369.4,451.6 370.6,452.1 371.3,452.6 371.3,453.8 372.0,453.4 372.1,454.3 373.5,454.4 373.0,455.4 373.2,455.3 374.6,455.9 374.9,456.1 374.2,456.5 375.7,455.4 376.9,456.7 377.2,456.1 378.0,456.8 379.2,457.5 379.2,458.1 379.6,457.5 380.5,458.6 380.7,458.3 381.4,457.9 382.2,459.6 381.7,459.8 382.4,460.7 382.3,460.4 384.0,461.9 383.1,461.7 384.6,462.2 385.6,462.4 385.5,463.0 386.1,464.1 385.5,464.0 386.7,465.7 386.4,466.5 386.5,466.3 386.1,466.8 387.3,467.1 386.7,468.3 387.4,469.3 387.0,468.8 387.9,470.7 388.5,470.9 388.5,470.4 389.1,470.2 389.3,469.4 390.1,469.0 390.7,469.4 391.8,468.5 390.8,467.4 392.0,467.5 391.8,467.5 393.9,466.1 393.6,466.0 394.6,466.4 396.1,465.7 396.1,465.6 397.2,465.5 397.6,464.4 397.3,464.0 398.4,464.0 397.9,463.0 398.7,462.3 398.4,462.2 400.1,461.3 398.9,460.3 398.7,460.4 399.9,459.6 399.9,459.1 400.0,457.7 400.4,458.3 401.0,457.9 401.7,457.8 401.9,457.6 400.8,457.9 400.6,458.0 398.8,457.4 398.9,456.9 399.1,456.8 398.9,455.8 398.8,455.1 397.6,455.1 397.5,454.9 398.2,454.2 397.7,452.4 397.8,452.1 397.6,451.4 398.1,451.3 398.0,450.4 398.1,448.9 398.3,448.2 398.9,448.6 399.2,447.8 400.3,447.1 400.0,446.2 399.5,446.1 399.8,445.5 401.0,445.2 401.3,443.9 401.9,443.5 402.0,443.3 402.4,442.7 402.4,442.2 402.3,441.9 403.2,442.1 404.8,440.3 404.8,440.8 404.7,440.7 405.5,439.3 406.2,439.9 407.0,439.3 407.9,440.1 407.7,439.4 408.9,439.3 410.3,439.7 409.7,439.3 410.7,440.8 411.3,439.9 412.2,439.8 413.6,439.7 413.5,440.0 414.1,439.5 415.2,440.0 415.1,439.7 415.4,440.4 416.8,440.6 417.5,440.6 417.6,440.7 418.5,440.3 419.2,441.0 419.6,440.3 420.3,441.8 420.4,441.3 421.0,442.3 420.7,442.3 422.6,442.1 423.2,443.1 422.8,443.4 422.9,443.4 425.1,443.3 425.8,443.7 426.0,443.7 425.2,443.4 427.0,443.2 427.0,443.9 427.9,442.9 428.6,444.1 429.3,444.1 430.9,443.7 430.1,443.7 431.0,445.3 431.5,445.7 431.6,446.2 432.2,446.0 432.5,445.6 433.5,445.9 434.0,446.8 435.0,447.9 436.1,446.4 436.7,446.9 436.7,447.3 437.3,445.5 438.7,446.7 439.6,446.9 439.0,448.1 439.7,447.7 441.4,447.9 441.3,448.0 442.4,447.8 442.9,448.7 444.2,448.4 443.0,449.6 443.4,450.0 443.8,451.0 443.6,451.1 443.0,451.4 444.9,452.1 444.0,452.5 444.7,453.7 444.0,454.6 444.7,455.2 444.4,456.3 445.0,456.0 444.7,456.6 445.4,457.3 445.7,458.3 445.9,459.1 445.4,458.6 445.7,460.5 445.8,461.1 444.8,460.8 443.9,461.7 443.7,461.0 442.4,461.3 442.9,461.7 441.3,462.2 441.6,462.2 440.7,462.5 440.0,462.5 438.8,463.1 438.6,463.5 437.0,463.1 437.8,462.8 436.9,463.5 437.6,463.1 437.9,463.9 439.2,463.5 439.3,463.7 440.3,463.2 439.9,463.9 440.6,463.6 441.8,464.2 441.9,464.5 442.1,464.7 442.7,464.2 444.2,464.9 444.1,465.1 445.2,465.6 445.5,466.4 445.7,466.1 446.3,467.1 447.4,467.7 447.3,467.5 448.1,467.9 448.5,468.9 448.2,469.1 448.9,470.4 450.6,470.1 449.8,469.6 450.1,471.2 449.8,472.2 449.8,472.4 450.8,472.6 451.3,474.2 450.5,473.7 451.7,475.0 451.0,475.5 451.6,476.2 452.2,477.1 452.8,478.2 452.4,478.7 452.9,479.1 451.9,479.8 452.6,480.8 452.7,480.9 452.8,482.1 452.6,481.9 452.6,482.5 452.4,483.4 452.4,484.9 452.0,484.7 451.7,485.5 450.8,485.3 450.8,486.4 450.4,486.4 449.5,487.3 450.1,487.7 449.1,488.2 448.2,488.4 448.0,489.2 447.7,489.1 447.8,491.0 446.8,490.9 446.6,491.7 445.5,492.6 445.6,493.0 445.5,492.9 445.1,494.0 444.4,494.1 444.2,494.0 444.7,495.7 443.8,496.5 443.1,496.5 444.0,497.5 442.0,496.1 442.2,498.6 442.2,498.6 442.4,498.8 442.0,500.1 441.8,500.5 440.9,501.1 440.6,502.0 441.6,501.6 439.0,502.3 439.8,503.5 439.7,503.2 438.3,504.5 437.5,504.8 437.3,505.0 437.2,505.3 436.6,504.9 435.8,505.7 435.2,506.6 434.4,505.9 433.5,506.3 433.6,506.3 433.2,507.0 431.9,506.5 431.5,507.6 430.0,508.0 430.9,507.9 429.8,509.0 429.5,507.7 428.4,508.2 427.7,507.4 427.5,508.4 426.6,508.8 426.3,509.0 424.9,509.5 425.3,509.0 424.6,509.1 423.1,509.6 422.4,509.2 421.9,508.8 420.9,508.1 421.3,508.4 420.2,507.9 419.7,507.4 418.4,507.8 418.0,507.3 417.7,507.4 417.1,508.1 417.0,507.7 416.0,506.7 414.7,506.6 414.3,505.9 415.5,506.2 415.4,504.4 415.1,503.8 415.1,503.4 415.0,504.0 415.3,503.3 415.2,501.5 415.9,501.8 415.3,500.5 415.2,499.8 416.5,499.2 416.0,498.1 416.2,498.5 415.9,497.8 414.8,498.0 415.0,496.6 415.1,495.2 414.4,495.6 414.3,495.7 414.0,493.8 413.9,494.1 414.3,492.9 413.7,493.1 414.9,492.2 414.2,492.5 413.9,490.9 416.3,490.4 415.1,489.5 415.2,488.9 414.3,489.0 413.3,488.8 412.8,487.6 413.0,487.2 412.8,487.3 412.1,486.2 411.5,485.8 411.6,485.5 410.9,485.1 409.9,485.1 409.3,484.3 409.9,483.4 408.8,482.8 408.1,482.4 407.0,483.3 406.9,484.7 406.6,484.8 406.1,484.9 405.4,484.7 405.4,486.7 405.2,486.3 405.4,486.8 404.1,487.0 403.6,487.9 404.6,488.5 403.0,488.8 403.0,488.8 402.9,490.4 402.6,490.9 401.5,490.3 402.3,492.0 400.6,492.1 401.0,492.8 400.7,492.8 400.1,493.4 399.4,492.8 397.5,493.5 397.5,494.3 398.0,494.6 396.9,494.8 397.0,494.7 396.3,495.6 395.4,496.2 394.3,496.2 393.6,495.7 393.0,495.9 392.5,495.5 391.9,495.7 392.7,495.0 392.1,494.9 391.8,494.4 389.5,494.7 389.6,493.3 388.9,492.6 388.6,492.5 388.8,492.8 386.8,491.4 386.8,490.8 386.5,491.2 385.7,490.6 385.9,491.0 385.9,489.8 385.3,489.0 384.7,488.4 384.5,487.8 383.4,487.9 383.9,486.6 383.2,486.7 383.3,485.6 383.0,485.3 383.4,485.0 382.0,483.1 382.4,484.0 382.1,483.4 381.4,481.9 381.6,482.1 381.2,480.9 380.6,480.8 380.6,480.3 379.3,480.1 379.6,480.1 378.1,479.3 377.3,480.1 376.4,478.8 377.7,479.1 377.5,478.3 378.1,477.7 378.0,477.4 378.2,476.7 377.8,475.8 378.0,474.1 378.9,473.7 378.9,473.0 379.4,472.9 378.2,472.4 379.1,471.4 379.0,472.0 379.1,470.5 378.5,470.2 378.0,468.0 378.1,468.3 378.9,468.2 377.4,467.1 377.8,466.6 377.0,466.4 376.8,466.1 376.3,466.2 376.5,464.4 376.3,464.8 375.2,464.0 374.3,464.0 373.7,463.9 373.6,462.6 373.0,462.8 373.0,461.8 372.3,461.4 371.6,460.3 372.5,460.2 371.5,459.5 371.6,460.1 370.5,459.0 369.9,459.1 370.2,457.4 369.9,457.4 369.1,456.9 368.2,456.0 368.5,455.7 367.6,456.0 367.6,454.3 367.1,454.3 367.6,453.6 367.3,452.3 366.4,452.2 366.3,452.0 365.5,452.6 366.2,450.8 367.1,450.4 366.9,448.1 366.4,449.2Z" fill="none" stroke="#000" stroke-width="1.5" stroke-linejoin="round"/>
<path d="M366.8,447.6 367.5,452.6 369.8,457.1 372.8,461.6 375.8,465.1 377.8,468.1" fill="none" stroke="#000" stroke-width="2.6" stroke-linejoin="round"/>
<circle cx="409.3" cy="474.1" r="49.2" fill="none" stroke="#000" stroke-width="2"/>
<rect x="67.2" y="420.0" width="397.5" height="199.0" fill="none" stroke="#000" stroke-width="2"/>
<line x1="58" y1="592.5" x2="67.2" y2="592.5" stroke="#000" stroke-width="1.5"/>
<text transform="translate(48.00,599.25) scale(1.180,1)" font-family="Liberation Serif" font-size="17.5" text-anchor="end">0.5</text>
<line x1="58" y1="549.4" x2="67.2" y2="549.4" stroke="#000" stroke-width="1.5"/>
<text transform="translate(48.00,556.10) scale(1.180,1)" font-family="Liberation Serif" font-size="17.5" text-anchor="end">1.0</text>
<line x1="58" y1="506.2" x2="67.2" y2="506.2" stroke="#000" stroke-width="1.5"/>
<text transform="translate(48.00,512.95) scale(1.180,1)" font-family="Liberation Serif" font-size="17.5" text-anchor="end">1.5</text>
<line x1="58" y1="463.1" x2="67.2" y2="463.1" stroke="#000" stroke-width="1.5"/>
<text transform="translate(48.00,469.80) scale(1.180,1)" font-family="Liberation Serif" font-size="17.5" text-anchor="end">2.0</text>
<line x1="67.2" y1="619.0" x2="67.2" y2="628.0" stroke="#000" stroke-width="1.5"/>
<line x1="83.8" y1="619.0" x2="83.8" y2="624.0" stroke="#000" stroke-width="1.2"/>
<line x1="100.3" y1="619.0" x2="100.3" y2="624.0" stroke="#000" stroke-width="1.2"/>
<line x1="116.9" y1="619.0" x2="116.9" y2="624.0" stroke="#000" stroke-width="1.2"/>
<line x1="133.4" y1="619.0" x2="133.4" y2="628.0" stroke="#000" stroke-width="1.5"/>
<line x1="150.0" y1="619.0" x2="150.0" y2="624.0" stroke="#000" stroke-width="1.2"/>
<line x1="166.6" y1="619.0" x2="166.6" y2="624.0" stroke="#000" stroke-width="1.2"/>
<line x1="183.1" y1="619.0" x2="183.1" y2="624.0" stroke="#000" stroke-width="1.2"/>
<line x1="199.7" y1="619.0" x2="199.7" y2="628.0" stroke="#000" stroke-width="1.5"/>
<line x1="216.3" y1="619.0" x2="216.3" y2="624.0" stroke="#000" stroke-width="1.2"/>
<line x1="232.8" y1="619.0" x2="232.8" y2="624.0" stroke="#000" stroke-width="1.2"/>
<line x1="249.4" y1="619.0" x2="249.4" y2="624.0" stroke="#000" stroke-width="1.2"/>
<line x1="265.9" y1="619.0" x2="265.9" y2="628.0" stroke="#000" stroke-width="1.5"/>
<line x1="282.5" y1="619.0" x2="282.5" y2="624.0" stroke="#000" stroke-width="1.2"/>
<line x1="299.1" y1="619.0" x2="299.1" y2="624.0" stroke="#000" stroke-width="1.2"/>
<line x1="315.6" y1="619.0" x2="315.6" y2="624.0" stroke="#000" stroke-width="1.2"/>
<line x1="332.2" y1="619.0" x2="332.2" y2="628.0" stroke="#000" stroke-width="1.5"/>
<line x1="348.8" y1="619.0" x2="348.8" y2="624.0" stroke="#000" stroke-width="1.2"/>
<line x1="365.3" y1="619.0" x2="365.3" y2="624.0" stroke="#000" stroke-width="1.2"/>
<line x1="381.9" y1="619.0" x2="381.9" y2="624.0" stroke="#000" stroke-width="1.2"/>
<line x1="398.4" y1="619.0" x2="398.4" y2="628.0" stroke="#000" stroke-width="1.5"/>
<line x1="415.0" y1="619.0" x2="415.0" y2="624.0" stroke="#000" stroke-width="1.2"/>
<line x1="431.6" y1="619.0" x2="431.6" y2="624.0" stroke="#000" stroke-width="1.2"/>
<line x1="448.1" y1="619.0" x2="448.1" y2="624.0" stroke="#000" stroke-width="1.2"/>
<line x1="464.7" y1="619.0" x2="464.7" y2="628.0" stroke="#000" stroke-width="1.5"/>
<text x="75.2" y="439.8" font-family="Liberation Sans" font-size="16">Ross (Type B)</text>
<text x="11.4" y="430.4" font-family="Liberation Sans" font-size="14" text-anchor="middle">e</text>
<text transform="translate(16.0,601.7) rotate(-90)" font-family="Liberation Sans" font-size="15.5">Ice volume</text>
<text transform="translate(16.0,520.7) rotate(-90) scale(1.17,1)" font-family="Liberation Serif" font-size="16">[x10<tspan font-size="14" dy="-6.6">15</tspan><tspan dy="6.6"> m</tspan><tspan font-size="14" dy="-6.6">3</tspan><tspan dy="6.6">]</tspan></text>
<clipPath id="clip_g"><rect x="67.2" y="629.0" width="397.5" height="198.7"/></clipPath>
<g clip-path="url(#clip_g)">
<rect x="67.20" y="662.50" width="16.56" height="17.50" fill="rgba(200,70,76,0.220)"/>
<rect x="67.20" y="680.00" width="16.56" height="23.40" fill="rgba(200,70,76,0.077)"/>
<rect x="67.20" y="703.40" width="16.56" height="17.60" fill="rgba(200,70,76,0.031)"/>
<rect x="83.76" y="665.40" width="16.56" height="17.60" fill="rgba(200,70,76,0.220)"/>
<rect x="83.76" y="683.00" width="16.56" height="20.40" fill="rgba(200,70,76,0.330)"/>
<rect x="83.76" y="703.40" width="16.56" height="17.60" fill="rgba(200,70,76,0.165)"/>
<rect x="83.76" y="721.00" width="16.56" height="11.60" fill="rgba(200,70,76,0.038)"/>
<rect x="100.33" y="671.30" width="16.56" height="11.70" fill="rgba(200,70,76,0.275)"/>
<rect x="100.33" y="683.00" width="16.56" height="43.80" fill="rgba(200,70,76,0.385)"/>
<rect x="100.33" y="726.80" width="16.56" height="14.60" fill="rgba(200,70,76,0.165)"/>
<rect x="100.33" y="741.40" width="16.56" height="8.60" fill="rgba(200,70,76,0.038)"/>
<rect x="116.89" y="674.00" width="16.56" height="52.80" fill="rgba(200,70,76,0.385)"/>
<rect x="116.89" y="726.80" width="16.56" height="20.40" fill="rgba(200,70,76,0.220)"/>
<rect x="116.89" y="747.20" width="16.56" height="2.80" fill="rgba(200,70,76,0.038)"/>
<rect x="133.45" y="677.00" width="16.56" height="32.00" fill="rgba(200,70,76,0.385)"/>
<rect x="133.45" y="709.00" width="16.56" height="23.60" fill="rgba(200,70,76,0.330)"/>
<rect x="133.45" y="732.60" width="16.56" height="14.60" fill="rgba(200,70,76,0.220)"/>
<rect x="150.01" y="683.00" width="16.56" height="29.00" fill="rgba(200,70,76,0.330)"/>
<rect x="150.01" y="712.00" width="16.56" height="20.60" fill="rgba(200,70,76,0.330)"/>
<rect x="150.01" y="732.60" width="16.56" height="17.40" fill="rgba(200,70,76,0.220)"/>
<rect x="166.57" y="680.00" width="16.56" height="23.40" fill="rgba(200,70,76,0.092)"/>
<rect x="166.57" y="703.40" width="16.56" height="38.00" fill="rgba(200,70,76,0.330)"/>
<rect x="166.57" y="741.40" width="16.56" height="14.60" fill="rgba(200,70,76,0.092)"/>
<rect x="166.57" y="756.00" width="16.56" height="11.60" fill="rgba(200,70,76,0.031)"/>
<rect x="183.14" y="688.80" width="16.56" height="26.20" fill="rgba(200,70,76,0.092)"/>
<rect x="183.14" y="715.00" width="16.56" height="35.00" fill="rgba(200,70,76,0.385)"/>
<rect x="183.14" y="750.00" width="16.56" height="20.50" fill="rgba(200,70,76,0.092)"/>
<rect x="183.14" y="770.50" width="16.56" height="8.80" fill="rgba(200,70,76,0.031)"/>
<rect x="199.70" y="680.00" width="16.56" height="23.40" fill="rgba(200,70,76,0.077)"/>
<rect x="199.70" y="703.40" width="16.56" height="23.40" fill="rgba(200,70,76,0.330)"/>
<rect x="199.70" y="726.80" width="16.56" height="26.20" fill="rgba(200,70,76,0.385)"/>
<rect x="199.70" y="753.00" width="16.56" height="29.20" fill="rgba(200,70,76,0.092)"/>
<rect x="216.26" y="680.00" width="16.56" height="23.40" fill="rgba(200,70,76,0.077)"/>
<rect x="216.26" y="703.40" width="16.56" height="17.60" fill="rgba(200,70,76,0.275)"/>
<rect x="216.26" y="721.00" width="16.56" height="26.20" fill="rgba(200,70,76,0.385)"/>
<rect x="216.26" y="747.20" width="16.56" height="20.40" fill="rgba(200,70,76,0.165)"/>
<rect x="216.26" y="767.60" width="16.56" height="17.40" fill="rgba(200,70,76,0.046)"/>
<rect x="232.82" y="674.00" width="16.56" height="35.00" fill="rgba(200,70,76,0.077)"/>
<rect x="232.82" y="709.00" width="16.56" height="23.60" fill="rgba(200,70,76,0.275)"/>
<rect x="232.82" y="732.60" width="16.56" height="29.20" fill="rgba(200,70,76,0.330)"/>
<rect x="232.82" y="761.80" width="16.56" height="23.20" fill="rgba(200,70,76,0.165)"/>
<rect x="232.82" y="785.00" width="16.56" height="11.80" fill="rgba(200,70,76,0.038)"/>
<rect x="249.39" y="688.80" width="16.56" height="26.20" fill="rgba(200,70,76,0.077)"/>
<rect x="249.39" y="715.00" width="16.56" height="23.40" fill="rgba(200,70,76,0.220)"/>
<rect x="249.39" y="738.40" width="16.56" height="29.20" fill="rgba(200,70,76,0.385)"/>
<rect x="249.39" y="767.60" width="16.56" height="11.70" fill="rgba(200,70,76,0.165)"/>
<rect x="249.39" y="779.30" width="16.56" height="17.50" fill="rgba(200,70,76,0.046)"/>
<rect x="265.95" y="674.00" width="16.56" height="29.40" fill="rgba(200,70,76,0.077)"/>
<rect x="265.95" y="703.40" width="16.56" height="14.60" fill="rgba(200,70,76,0.275)"/>
<rect x="265.95" y="718.00" width="16.56" height="49.60" fill="rgba(200,70,76,0.385)"/>
<rect x="265.95" y="767.60" width="16.56" height="17.40" fill="rgba(200,70,76,0.092)"/>
<rect x="265.95" y="785.00" width="16.56" height="14.70" fill="rgba(200,70,76,0.031)"/>
<rect x="282.51" y="680.00" width="16.56" height="26.30" fill="rgba(200,70,76,0.077)"/>
<rect x="282.51" y="706.30" width="16.56" height="26.30" fill="rgba(200,70,76,0.330)"/>
<rect x="282.51" y="732.60" width="16.56" height="40.90" fill="rgba(200,70,76,0.330)"/>
<rect x="282.51" y="773.50" width="16.56" height="23.30" fill="rgba(200,70,76,0.092)"/>
<rect x="282.51" y="796.80" width="16.56" height="17.50" fill="rgba(200,70,76,0.046)"/>
<rect x="299.07" y="691.70" width="16.56" height="20.30" fill="rgba(200,70,76,0.077)"/>
<rect x="299.07" y="712.00" width="16.56" height="20.60" fill="rgba(200,70,76,0.330)"/>
<rect x="299.07" y="732.60" width="16.56" height="35.00" fill="rgba(200,70,76,0.275)"/>
<rect x="299.07" y="767.60" width="16.56" height="23.40" fill="rgba(200,70,76,0.165)"/>
<rect x="299.07" y="791.00" width="16.56" height="17.50" fill="rgba(200,70,76,0.077)"/>
<rect x="299.07" y="808.50" width="16.56" height="8.80" fill="rgba(200,70,76,0.275)"/>
<rect x="315.64" y="700.50" width="16.56" height="20.50" fill="rgba(200,70,76,0.046)"/>
<rect x="315.64" y="721.00" width="16.56" height="20.40" fill="rgba(200,70,76,0.165)"/>
<rect x="315.64" y="741.40" width="16.56" height="35.00" fill="rgba(200,70,76,0.275)"/>
<rect x="315.64" y="776.40" width="16.56" height="26.30" fill="rgba(200,70,76,0.165)"/>
<rect x="315.64" y="802.70" width="16.56" height="14.60" fill="rgba(200,70,76,0.330)"/>
<rect x="332.20" y="703.40" width="16.56" height="32.10" fill="rgba(200,70,76,0.038)"/>
<rect x="332.20" y="735.50" width="16.56" height="32.10" fill="rgba(200,70,76,0.092)"/>
<rect x="332.20" y="767.60" width="16.56" height="29.20" fill="rgba(200,70,76,0.275)"/>
<rect x="332.20" y="796.80" width="16.56" height="8.80" fill="rgba(200,70,76,0.077)"/>
<rect x="332.20" y="805.60" width="16.56" height="11.70" fill="rgba(200,70,76,0.330)"/>
<rect x="348.76" y="718.00" width="16.56" height="38.00" fill="rgba(200,70,76,0.038)"/>
<rect x="348.76" y="756.00" width="16.56" height="23.30" fill="rgba(200,70,76,0.165)"/>
<rect x="348.76" y="779.30" width="16.56" height="17.50" fill="rgba(200,70,76,0.220)"/>
<rect x="348.76" y="805.60" width="16.56" height="11.70" fill="rgba(200,70,76,0.330)"/>
<rect x="365.32" y="738.40" width="16.56" height="29.20" fill="rgba(200,70,76,0.038)"/>
<rect x="365.32" y="767.60" width="16.56" height="17.40" fill="rgba(200,70,76,0.165)"/>
<rect x="365.32" y="785.00" width="16.56" height="11.80" fill="rgba(200,70,76,0.330)"/>
<rect x="365.32" y="808.50" width="16.56" height="8.80" fill="rgba(200,70,76,0.330)"/>
<rect x="381.89" y="761.80" width="16.56" height="14.60" fill="rgba(200,70,76,0.062)"/>
<rect x="381.89" y="776.40" width="16.56" height="20.40" fill="rgba(200,70,76,0.330)"/>
<rect x="381.89" y="808.50" width="16.56" height="8.80" fill="rgba(200,70,76,0.330)"/>
<rect x="398.45" y="779.30" width="16.56" height="17.50" fill="rgba(200,70,76,0.385)"/>
<rect x="398.45" y="808.50" width="16.56" height="8.80" fill="rgba(200,70,76,0.275)"/>
<rect x="415.01" y="779.30" width="16.56" height="17.50" fill="rgba(200,70,76,0.385)"/>
<rect x="415.01" y="808.50" width="16.56" height="8.80" fill="rgba(200,70,76,0.275)"/>
<rect x="431.57" y="782.20" width="16.56" height="14.60" fill="rgba(200,70,76,0.385)"/>
<rect x="431.57" y="808.50" width="16.56" height="8.80" fill="rgba(200,70,76,0.275)"/>
<rect x="448.14" y="791.00" width="16.56" height="5.80" fill="rgba(200,70,76,0.077)"/>
<rect x="448.14" y="808.50" width="16.56" height="8.80" fill="rgba(200,70,76,0.165)"/>
<polyline points="67.2,664.0 83.8,662.8 100.3,669.9 116.9,680.7 133.4,688.2 150.0,697.8 166.6,702.1 183.1,704.4 199.7,716.6 216.3,716.0 232.8,722.2 249.4,731.1 265.9,731.7 282.5,736.8 299.1,741.4 315.6,761.2 332.2,775.6 348.8,791.2 365.3,803.9 381.9,803.6 398.4,804.1 415.0,806.1 431.6,807.2 448.1,808.0 464.7,809.7" fill="none" stroke="rgba(200,70,76,0.450)" stroke-width="1.0" stroke-linejoin="round"/>
<polyline points="67.2,665.0 83.8,665.4 100.3,681.8 116.9,701.6 133.4,716.0 150.0,720.5 166.6,720.2 183.1,725.0 199.7,724.8 216.3,726.4 232.8,728.5 249.4,738.7 265.9,744.6 282.5,759.6 299.1,757.2 315.6,772.0 332.2,789.4 348.8,803.9 365.3,809.0 381.9,811.3 398.4,810.9 415.0,811.6 431.6,808.4 448.1,810.5 464.7,810.9" fill="none" stroke="rgba(200,70,76,0.450)" stroke-width="1.0" stroke-linejoin="round"/>
<polyline points="67.2,664.1 83.8,669.4 100.3,673.0 116.9,686.2 133.4,701.3 150.0,705.9 166.6,703.7 183.1,708.1 199.7,713.6 216.3,716.3 232.8,721.9 249.4,728.5 265.9,735.3 282.5,742.3 299.1,750.1 315.6,766.5 332.2,780.4 348.8,794.2 365.3,800.6 381.9,801.3 398.4,804.4 415.0,806.1 431.6,804.3 448.1,807.5 464.7,806.2" fill="none" stroke="rgba(200,70,76,0.450)" stroke-width="1.0" stroke-linejoin="round"/>
<polyline points="67.2,664.0 83.8,665.8 100.3,665.9 116.9,676.1 133.4,682.3 150.0,691.4 166.6,701.1 183.1,710.1 199.7,711.7 216.3,715.6 232.8,718.1 249.4,724.4 265.9,726.9 282.5,733.5 299.1,735.3 315.6,750.2 332.2,772.3 348.8,789.3 365.3,799.5 381.9,800.8 398.4,800.7 415.0,802.4 431.6,804.1 448.1,806.4 464.7,805.6" fill="none" stroke="rgba(200,70,76,0.450)" stroke-width="1.0" stroke-linejoin="round"/>
<polyline points="67.2,662.0 83.8,660.5 100.3,664.2 116.9,663.0 133.4,665.5 150.0,671.1 166.6,674.1 183.1,678.9 199.7,685.8 216.3,687.6 232.8,695.8 249.4,702.7 265.9,711.7 282.5,717.6 299.1,721.2 315.6,730.3 332.2,738.2 348.8,762.6 365.3,779.8 381.9,791.5 398.4,793.2 415.0,794.1 431.6,794.9 448.1,795.7 464.7,792.4" fill="none" stroke="rgba(200,70,76,0.450)" stroke-width="1.0" stroke-linejoin="round"/>
<polyline points="67.2,664.0 83.8,668.2 100.3,669.7 116.9,679.1 133.4,685.4 150.0,697.2 166.6,700.8 183.1,706.6 199.7,713.1 216.3,718.4 232.8,720.1 249.4,727.9 265.9,729.4 282.5,735.7 299.1,743.9 315.6,762.0 332.2,776.0 348.8,793.1 365.3,800.7 381.9,802.2 398.4,804.8 415.0,805.7 431.6,808.7 448.1,805.6 464.7,808.2" fill="none" stroke="rgba(200,70,76,0.450)" stroke-width="1.0" stroke-linejoin="round"/>
<polyline points="67.2,664.1 83.8,670.0 100.3,669.5 116.9,680.0 133.4,689.2 150.0,698.0 166.6,701.3 183.1,703.7 199.7,711.7 216.3,716.2 232.8,718.5 249.4,727.2 265.9,726.2 282.5,732.8 299.1,734.2 315.6,747.0 332.2,770.9 348.8,787.6 365.3,795.4 381.9,801.7 398.4,806.6 415.0,808.7 431.6,809.0 448.1,807.9 464.7,806.9" fill="none" stroke="rgba(200,70,76,0.450)" stroke-width="1.0" stroke-linejoin="round"/>
<polyline points="67.2,662.0 83.8,660.0 100.3,664.1 116.9,663.7 133.4,666.8 150.0,668.4 166.6,674.7 183.1,678.9 199.7,679.6 216.3,684.1 232.8,691.5 249.4,703.6 265.9,710.4 282.5,713.8 299.1,723.2 315.6,729.4 332.2,742.1 348.8,762.4 365.3,781.6 381.9,790.3 398.4,793.2 415.0,795.1 431.6,795.9 448.1,793.2 464.7,793.8" fill="none" stroke="rgba(200,70,76,0.450)" stroke-width="1.0" stroke-linejoin="round"/>
<polyline points="67.2,664.1 83.8,667.9 100.3,671.0 116.9,682.2 133.4,688.3 150.0,694.6 166.6,702.9 183.1,702.8 199.7,712.9 216.3,714.9 232.8,718.4 249.4,725.2 265.9,727.1 282.5,731.3 299.1,735.2 315.6,744.9 332.2,771.1 348.8,789.3 365.3,797.1 381.9,806.4 398.4,807.0 415.0,808.2 431.6,808.4 448.1,807.5 464.7,808.0" fill="none" stroke="rgba(200,70,76,0.450)" stroke-width="1.0" stroke-linejoin="round"/>
<polyline points="67.2,665.0 83.8,668.5 100.3,675.7 116.9,686.1 133.4,697.1 150.0,711.6 166.6,706.2 183.1,712.0 199.7,719.2 216.3,723.3 232.8,723.7 249.4,731.3 265.9,736.7 282.5,743.6 299.1,747.4 315.6,764.8 332.2,783.4 348.8,799.8 365.3,805.2 381.9,809.2 398.4,807.2 415.0,810.4 431.6,808.2 448.1,812.2 464.7,811.7" fill="none" stroke="rgba(200,70,76,0.450)" stroke-width="1.0" stroke-linejoin="round"/>
<polyline points="67.2,664.1 83.8,667.5 100.3,669.4 116.9,678.5 133.4,688.5 150.0,696.2 166.6,702.2 183.1,702.8 199.7,715.6 216.3,715.1 232.8,717.1 249.4,725.9 265.9,730.2 282.5,732.1 299.1,736.9 315.6,744.9 332.2,768.2 348.8,787.5 365.3,799.7 381.9,804.5 398.4,806.9 415.0,807.0 431.6,806.8 448.1,808.6 464.7,809.3" fill="none" stroke="rgba(200,70,76,0.450)" stroke-width="1.0" stroke-linejoin="round"/>
<polyline points="67.0,662.0 100.0,662.0 140.0,666.0 180.0,672.0 215.0,680.0 250.0,700.0 282.0,712.0 299.0,718.0 320.0,735.0 340.0,760.0 366.0,785.0 400.0,795.0 464.7,792.0" fill="none" stroke="rgba(200,70,76,0.550)" stroke-width="1.0" stroke-linejoin="round"/>
<polyline points="67.0,663.0 110.0,664.0 150.0,672.0 190.0,690.0 230.0,697.0 266.0,715.0 299.0,724.0 330.0,724.0 350.0,760.0 380.0,790.0 420.0,796.0 464.7,794.0" fill="none" stroke="rgba(200,70,76,0.550)" stroke-width="1.0" stroke-linejoin="round"/>
<polyline points="67.0,664.0 100.0,668.0 130.0,680.0 160.0,697.0 190.0,710.0 220.0,720.0 250.0,728.0 282.0,735.0 299.0,740.0 330.0,775.0 360.0,800.0 464.7,808.0" fill="none" stroke="rgba(200,70,76,0.550)" stroke-width="1.0" stroke-linejoin="round"/>
<polyline points="67.0,665.0 95.0,672.0 120.0,690.0 145.0,712.0 170.0,720.0 200.0,730.0 230.0,735.0 260.0,745.0 299.0,750.0 320.0,770.0 345.0,800.0 380.0,812.0 464.7,814.0" fill="none" stroke="rgba(200,70,76,0.550)" stroke-width="1.0" stroke-linejoin="round"/>
<polyline points="67.0,664.0 105.0,675.0 130.0,695.0 150.0,705.0 175.0,700.0 200.0,712.0 230.0,718.0 260.0,730.0 299.0,745.0 340.0,790.0 370.0,805.0 464.7,810.0" fill="none" stroke="rgba(200,70,76,0.550)" stroke-width="1.0" stroke-linejoin="round"/>
<polyline points="67.0,665.0 90.0,670.0 110.0,690.0 130.0,712.0 160.0,718.0 190.0,715.0 220.0,722.0 250.0,740.0 290.0,760.0 320.0,770.0 350.0,795.0 464.7,798.0" fill="none" stroke="rgba(200,70,76,0.550)" stroke-width="1.0" stroke-linejoin="round"/>
<polyline points="67.0,664.0 100.0,671.0 125.0,688.0 150.0,700.0 180.0,712.0 210.0,705.0 240.0,715.0 282.0,725.0 315.0,722.0 345.0,785.0 380.0,795.0 464.7,797.0" fill="none" stroke="rgba(200,70,76,0.550)" stroke-width="1.0" stroke-linejoin="round"/>
<polyline points="67.0,663.6 83.5,665.3 98.8,665.3 116.4,671.9 131.7,678.5 149.2,686.1 165.6,703.6 182.0,699.3 199.6,715.7 216.0,712.4 240.0,718.0 260.0,723.1 282.4,724.6 298.3,723.1 315.2,723.1 332.0,753.8 348.9,781.3 365.8,790.5 382.6,802.8 398.0,805.9 431.7,805.9 464.7,805.9" fill="none" stroke="rgba(200,70,76,0.950)" stroke-width="2.8" stroke-linejoin="round"/>
<polyline points="67.0,664.0 83.5,665.3 98.8,678.5 114.2,700.4 131.7,719.0 149.9,722.3 166.7,723.4 184.2,726.6 199.6,727.7 216.0,726.6 240.0,732.0 260.0,738.4 281.5,758.4 298.3,752.2 315.2,775.2 332.0,792.1 348.9,809.0 365.8,813.5 398.0,815.1 431.7,815.1 464.7,815.1" fill="none" stroke="rgba(200,70,76,0.950)" stroke-width="2.8" stroke-linejoin="round"/>
<line x1="299.1" y1="629.0" x2="299.1" y2="827.7" stroke="#999" stroke-width="1" stroke-dasharray="3.5,2"/>
<polygon points="83.8,659.0 90.1,665.3 83.8,671.6 77.5,665.3" fill="rgb(176,74,80)" stroke="#222" stroke-width="0.8"/>
<polygon points="150.0,717.4 154.3,719.8 154.3,724.8 150.0,727.2 145.8,724.8 145.8,719.8" fill="rgb(176,74,80)" stroke="#222" stroke-width="0.8"/>
<rect x="277.6" y="719.7" width="9.8" height="9.8" fill="rgb(176,74,80)" stroke="#222" stroke-width="0.8"/>
<circle cx="448.1" cy="815.2" r="4.8" fill="rgb(176,74,80)" stroke="#222" stroke-width="0.8"/>
</g>
<circle cx="409.3" cy="683.1" r="49.2" fill="#fff"/>
<clipPath id="iclip_g"><circle cx="409.3" cy="683.1" r="49.2"/></clipPath>
<polygon clip-path="url(#iclip_g)" points="380.7,670.1 387.9,667.7 393.5,667.7 397.6,671.8 401.6,676.6 406.4,679.8 408.0,683.0 407.2,686.2 397.6,687.0 389.5,685.4 381.5,683.0 380.7,676.6" fill="rgb(200,70,76)"/>
<path d="M367.9,656.0 367.6,657.5 367.6,658.1 367.3,658.6 368.3,660.8 369.2,659.6 369.4,660.0 369.4,660.6 370.6,661.1 371.3,661.6 371.3,662.8 372.0,662.4 372.1,663.3 373.5,663.4 373.0,664.4 373.2,664.3 374.6,664.9 374.9,665.1 374.2,665.5 375.7,664.4 376.9,665.7 377.2,665.1 378.0,665.8 379.2,666.5 379.2,667.1 379.6,666.5 380.5,667.6 380.7,667.3 381.4,666.9 382.2,668.6 381.7,668.8 382.4,669.7 382.3,669.4 384.0,670.9 383.1,670.7 384.6,671.2 385.6,671.4 385.5,672.0 386.1,673.1 385.5,673.0 386.7,674.7 386.4,675.5 386.5,675.3 386.1,675.8 387.3,676.1 386.7,677.3 387.4,678.3 387.0,677.8 387.9,679.7 388.5,679.9 388.5,679.4 389.1,679.2 389.3,678.4 390.1,678.0 390.7,678.4 391.8,677.5 390.8,676.4 392.0,676.5 391.8,676.5 393.9,675.1 393.6,675.0 394.6,675.4 396.1,674.7 396.1,674.6 397.2,674.5 397.6,673.4 397.3,673.0 398.4,673.0 397.9,672.0 398.7,671.3 398.4,671.2 400.1,670.3 398.9,669.3 398.7,669.4 399.9,668.6 399.9,668.1 400.0,666.7 400.4,667.3 401.0,666.9 401.7,666.8 401.9,666.6 400.8,666.9 400.6,667.0 398.8,666.4 398.9,665.9 399.1,665.8 398.9,664.8 398.8,664.1 397.6,664.1 397.5,663.9 398.2,663.2 397.7,661.4 397.8,661.1 397.6,660.4 398.1,660.3 398.0,659.4 398.1,657.9 398.3,657.2 398.9,657.6 399.2,656.8 400.3,656.1 400.0,655.2 399.5,655.1 399.8,654.5 401.0,654.2 401.3,652.9 401.9,652.5 402.0,652.3 402.4,651.7 402.4,651.2 402.3,650.9 403.2,651.1 404.8,649.3 404.8,649.8 404.7,649.7 405.5,648.3 406.2,648.9 407.0,648.3 407.9,649.1 407.7,648.4 408.9,648.3 410.3,648.7 409.7,648.3 410.7,649.8 411.3,648.9 412.2,648.8 413.6,648.7 413.5,649.0 414.1,648.5 415.2,649.0 415.1,648.7 415.4,649.4 416.8,649.6 417.5,649.6 417.6,649.7 418.5,649.3 419.2,650.0 419.6,649.3 420.3,650.8 420.4,650.3 421.0,651.3 420.7,651.3 422.6,651.1 423.2,652.1 422.8,652.4 422.9,652.4 425.1,652.3 425.8,652.7 426.0,652.7 425.2,652.4 427.0,652.2 427.0,652.9 427.9,651.9 428.6,653.1 429.3,653.1 430.9,652.7 430.1,652.7 431.0,654.3 431.5,654.7 431.6,655.2 432.2,655.0 432.5,654.6 433.5,654.9 434.0,655.8 435.0,656.9 436.1,655.4 436.7,655.9 436.7,656.3 437.3,654.5 438.7,655.7 439.6,655.9 439.0,657.1 439.7,656.7 441.4,656.9 441.3,657.0 442.4,656.8 442.9,657.7 444.2,657.4 443.0,658.6 443.4,659.0 443.8,660.0 443.6,660.1 443.0,660.4 444.9,661.1 444.0,661.5 444.7,662.7 444.0,663.6 444.7,664.2 444.4,665.3 445.0,665.0 444.7,665.6 445.4,666.3 445.7,667.3 445.9,668.1 445.4,667.6 445.7,669.5 445.8,670.1 444.8,669.8 443.9,670.7 443.7,670.0 442.4,670.3 442.9,670.7 441.3,671.2 441.6,671.2 440.7,671.5 440.0,671.5 438.8,672.1 438.6,672.5 437.0,672.1 437.8,671.8 436.9,672.5 437.6,672.1 437.9,672.9 439.2,672.5 439.3,672.7 440.3,672.2 439.9,672.9 440.6,672.6 441.8,673.2 441.9,673.5 442.1,673.7 442.7,673.2 444.2,673.9 444.1,674.1 445.2,674.6 445.5,675.4 445.7,675.1 446.3,676.1 447.4,676.7 447.3,676.5 448.1,676.9 448.5,677.9 448.2,678.1 448.9,679.4 450.6,679.1 449.8,678.6 450.1,680.2 449.8,681.2 449.8,681.4 450.8,681.6 451.3,683.2 450.5,682.7 451.7,684.0 451.0,684.5 451.6,685.2 452.2,686.1 452.8,687.2 452.4,687.7 452.9,688.1 451.9,688.8 452.6,689.8 452.7,689.9 452.8,691.1 452.6,690.9 452.6,691.5 452.4,692.4 452.4,693.9 452.0,693.7 451.7,694.5 450.8,694.3 450.8,695.4 450.4,695.4 449.5,696.3 450.1,696.7 449.1,697.2 448.2,697.4 448.0,698.2 447.7,698.1 447.8,700.0 446.8,699.9 446.6,700.7 445.5,701.6 445.6,702.0 445.5,701.9 445.1,703.0 444.4,703.1 444.2,703.0 444.7,704.7 443.8,705.5 443.1,705.5 444.0,706.5 442.0,705.1 442.2,707.6 442.2,707.6 442.4,707.8 442.0,709.1 441.8,709.5 440.9,710.1 440.6,711.0 441.6,710.6 439.0,711.3 439.8,712.5 439.7,712.2 438.3,713.5 437.5,713.8 437.3,714.0 437.2,714.3 436.6,713.9 435.8,714.7 435.2,715.6 434.4,714.9 433.5,715.3 433.6,715.3 433.2,716.0 431.9,715.5 431.5,716.6 430.0,717.0 430.9,716.9 429.8,718.0 429.5,716.7 428.4,717.2 427.7,716.4 427.5,717.4 426.6,717.8 426.3,718.0 424.9,718.5 425.3,718.0 424.6,718.1 423.1,718.6 422.4,718.2 421.9,717.8 420.9,717.1 421.3,717.4 420.2,716.9 419.7,716.4 418.4,716.8 418.0,716.3 417.7,716.4 417.1,717.1 417.0,716.7 416.0,715.7 414.7,715.6 414.3,714.9 415.5,715.2 415.4,713.4 415.1,712.8 415.1,712.4 415.0,713.0 415.3,712.3 415.2,710.5 415.9,710.8 415.3,709.5 415.2,708.8 416.5,708.2 416.0,707.1 416.2,707.5 415.9,706.8 414.8,707.0 415.0,705.6 415.1,704.2 414.4,704.6 414.3,704.7 414.0,702.8 413.9,703.1 414.3,701.9 413.7,702.1 414.9,701.2 414.2,701.5 413.9,699.9 416.3,699.4 415.1,698.5 415.2,697.9 414.3,698.0 413.3,697.8 412.8,696.6 413.0,696.2 412.8,696.3 412.1,695.2 411.5,694.8 411.6,694.5 410.9,694.1 409.9,694.1 409.3,693.3 409.9,692.4 408.8,691.8 408.1,691.4 407.0,692.3 406.9,693.7 406.6,693.8 406.1,693.9 405.4,693.7 405.4,695.7 405.2,695.3 405.4,695.8 404.1,696.0 403.6,696.9 404.6,697.5 403.0,697.8 403.0,697.8 402.9,699.4 402.6,699.9 401.5,699.3 402.3,701.0 400.6,701.1 401.0,701.8 400.7,701.8 400.1,702.4 399.4,701.8 397.5,702.5 397.5,703.3 398.0,703.6 396.9,703.8 397.0,703.7 396.3,704.6 395.4,705.2 394.3,705.2 393.6,704.7 393.0,704.9 392.5,704.5 391.9,704.7 392.7,704.0 392.1,703.9 391.8,703.4 389.5,703.7 389.6,702.3 388.9,701.6 388.6,701.5 388.8,701.8 386.8,700.4 386.8,699.8 386.5,700.2 385.7,699.6 385.9,700.0 385.9,698.8 385.3,698.0 384.7,697.4 384.5,696.8 383.4,696.9 383.9,695.6 383.2,695.7 383.3,694.6 383.0,694.3 383.4,694.0 382.0,692.1 382.4,693.0 382.1,692.4 381.4,690.9 381.6,691.1 381.2,689.9 380.6,689.8 380.6,689.3 379.3,689.1 379.6,689.1 378.1,688.3 377.3,689.1 376.4,687.8 377.7,688.1 377.5,687.3 378.1,686.7 378.0,686.4 378.2,685.7 377.8,684.8 378.0,683.1 378.9,682.7 378.9,682.0 379.4,681.9 378.2,681.4 379.1,680.4 379.0,681.0 379.1,679.5 378.5,679.2 378.0,677.0 378.1,677.3 378.9,677.2 377.4,676.1 377.8,675.6 377.0,675.4 376.8,675.1 376.3,675.2 376.5,673.4 376.3,673.8 375.2,673.0 374.3,673.0 373.7,672.9 373.6,671.6 373.0,671.8 373.0,670.8 372.3,670.4 371.6,669.3 372.5,669.2 371.5,668.5 371.6,669.1 370.5,668.0 369.9,668.1 370.2,666.4 369.9,666.4 369.1,665.9 368.2,665.0 368.5,664.7 367.6,665.0 367.6,663.3 367.1,663.3 367.6,662.6 367.3,661.3 366.4,661.2 366.3,661.0 365.5,661.6 366.2,659.8 367.1,659.4 366.9,657.1 366.4,658.2Z" fill="none" stroke="#000" stroke-width="1.5" stroke-linejoin="round"/>
<path d="M366.8,656.6 367.5,661.6 369.8,666.1 372.8,670.6 375.8,674.1 377.8,677.1" fill="none" stroke="#000" stroke-width="2.6" stroke-linejoin="round"/>
<circle cx="409.3" cy="683.1" r="49.2" fill="none" stroke="#000" stroke-width="2"/>
<rect x="67.2" y="629.0" width="397.5" height="198.7" fill="none" stroke="#000" stroke-width="2"/>
<line x1="58" y1="798.2" x2="67.2" y2="798.2" stroke="#000" stroke-width="1.5"/>
<text transform="translate(48.00,804.90) scale(1.180,1)" font-family="Liberation Serif" font-size="17.5" text-anchor="end">0.5</text>
<line x1="58" y1="748.3" x2="67.2" y2="748.3" stroke="#000" stroke-width="1.5"/>
<text transform="translate(48.00,755.00) scale(1.180,1)" font-family="Liberation Serif" font-size="17.5" text-anchor="end">1.0</text>
<line x1="58" y1="698.4" x2="67.2" y2="698.4" stroke="#000" stroke-width="1.5"/>
<text transform="translate(48.00,705.10) scale(1.180,1)" font-family="Liberation Serif" font-size="17.5" text-anchor="end">1.5</text>
<line x1="58" y1="648.5" x2="67.2" y2="648.5" stroke="#000" stroke-width="1.5"/>
<text transform="translate(48.00,655.20) scale(1.180,1)" font-family="Liberation Serif" font-size="17.5" text-anchor="end">2.0</text>
<line x1="67.2" y1="827.7" x2="67.2" y2="836.7" stroke="#000" stroke-width="1.5"/>
<line x1="83.8" y1="827.7" x2="83.8" y2="832.7" stroke="#000" stroke-width="1.2"/>
<line x1="100.3" y1="827.7" x2="100.3" y2="832.7" stroke="#000" stroke-width="1.2"/>
<line x1="116.9" y1="827.7" x2="116.9" y2="832.7" stroke="#000" stroke-width="1.2"/>
<line x1="133.4" y1="827.7" x2="133.4" y2="836.7" stroke="#000" stroke-width="1.5"/>
<line x1="150.0" y1="827.7" x2="150.0" y2="832.7" stroke="#000" stroke-width="1.2"/>
<line x1="166.6" y1="827.7" x2="166.6" y2="832.7" stroke="#000" stroke-width="1.2"/>
<line x1="183.1" y1="827.7" x2="183.1" y2="832.7" stroke="#000" stroke-width="1.2"/>
<line x1="199.7" y1="827.7" x2="199.7" y2="836.7" stroke="#000" stroke-width="1.5"/>
<line x1="216.3" y1="827.7" x2="216.3" y2="832.7" stroke="#000" stroke-width="1.2"/>
<line x1="232.8" y1="827.7" x2="232.8" y2="832.7" stroke="#000" stroke-width="1.2"/>
<line x1="249.4" y1="827.7" x2="249.4" y2="832.7" stroke="#000" stroke-width="1.2"/>
<line x1="265.9" y1="827.7" x2="265.9" y2="836.7" stroke="#000" stroke-width="1.5"/>
<line x1="282.5" y1="827.7" x2="282.5" y2="832.7" stroke="#000" stroke-width="1.2"/>
<line x1="299.1" y1="827.7" x2="299.1" y2="832.7" stroke="#000" stroke-width="1.2"/>
<line x1="315.6" y1="827.7" x2="315.6" y2="832.7" stroke="#000" stroke-width="1.2"/>
<line x1="332.2" y1="827.7" x2="332.2" y2="836.7" stroke="#000" stroke-width="1.5"/>
<line x1="348.8" y1="827.7" x2="348.8" y2="832.7" stroke="#000" stroke-width="1.2"/>
<line x1="365.3" y1="827.7" x2="365.3" y2="832.7" stroke="#000" stroke-width="1.2"/>
<line x1="381.9" y1="827.7" x2="381.9" y2="832.7" stroke="#000" stroke-width="1.2"/>
<line x1="398.4" y1="827.7" x2="398.4" y2="836.7" stroke="#000" stroke-width="1.5"/>
<line x1="415.0" y1="827.7" x2="415.0" y2="832.7" stroke="#000" stroke-width="1.2"/>
<line x1="431.6" y1="827.7" x2="431.6" y2="832.7" stroke="#000" stroke-width="1.2"/>
<line x1="448.1" y1="827.7" x2="448.1" y2="832.7" stroke="#000" stroke-width="1.2"/>
<line x1="464.7" y1="827.7" x2="464.7" y2="836.7" stroke="#000" stroke-width="1.5"/>
<text x="75.2" y="648.8" font-family="Liberation Sans" font-size="16">Ronne (Type C)</text>
<text x="11.4" y="639.4" font-family="Liberation Sans" font-size="14" text-anchor="middle">g</text>
<text transform="translate(16.0,810.4) rotate(-90)" font-family="Liberation Sans" font-size="15.5">Ice volume</text>
<text transform="translate(16.0,729.4) rotate(-90) scale(1.17,1)" font-family="Liberation Serif" font-size="16">[x10<tspan font-size="14" dy="-6.6">15</tspan><tspan dy="6.6"> m</tspan><tspan font-size="14" dy="-6.6">3</tspan><tspan dy="6.6">]</tspan></text>
<line x1="67.2" y1="2" x2="67.2" y2="827.7" stroke="#000" stroke-width="2"/>
<line x1="249.0" y1="25.2" x2="342.5" y2="72.3" stroke="#888" stroke-width="2.8" stroke-linecap="round"/><polygon points="350.5,76.4 340.4,76.4 344.5,68.3" fill="#888"/>
<line x1="233.9" y1="177.6" x2="139.8" y2="129.5" stroke="#888" stroke-width="2.8" stroke-linecap="round"/><polygon points="131.8,125.4 141.9,125.5 137.8,133.5" fill="#888"/>
<text transform="translate(282,31.5) rotate(27)" font-family="Liberation Sans" font-size="15.5" fill="#888">Warming</text>
<text transform="translate(148,150.5) rotate(27)" font-family="Liberation Sans" font-size="15" fill="#888">Cooling</text>
<text transform="translate(67.20,858.60) scale(1.180,1)" font-family="Liberation Serif" font-size="17.5" text-anchor="middle">0.0</text>
<text transform="translate(133.45,858.60) scale(1.180,1)" font-family="Liberation Serif" font-size="17.5" text-anchor="middle">0.2</text>
<text transform="translate(199.70,858.60) scale(1.180,1)" font-family="Liberation Serif" font-size="17.5" text-anchor="middle">0.4</text>
<text transform="translate(265.95,858.60) scale(1.180,1)" font-family="Liberation Serif" font-size="17.5" text-anchor="middle">0.6</text>
<text transform="translate(332.20,858.60) scale(1.180,1)" font-family="Liberation Serif" font-size="17.5" text-anchor="middle">0.8</text>
<text transform="translate(398.45,858.60) scale(1.180,1)" font-family="Liberation Serif" font-size="17.5" text-anchor="middle">1.0</text>
<text transform="translate(464.70,858.60) scale(1.180,1)" font-family="Liberation Serif" font-size="17.5" text-anchor="middle">1.2</text>
<text x="266" y="883.6" font-family="Liberation Sans" font-size="16.3" text-anchor="middle">Climate index</text>
<path fill-rule="evenodd" fill="#d3e9ec" d="M601.2,171.8 598.0,170.8 597.5,169.5 595.5,168.8 587.0,167.0 579.3,157.3 578.5,153.8 579.5,151.8 582.2,150.6 582.8,149.3 583.2,149.8 586.3,145.6 584.8,143.3 584.3,139.3 580.8,134.8 579.8,136.3 573.5,139.5 567.0,138.8 564.2,141.8 559.0,141.0 558.0,142.8 551.2,142.0 545.0,143.3 542.0,141.3 539.8,141.5 533.3,139.3 529.8,133.8 531.5,128.6 531.3,125.5 528.0,123.5 524.0,122.5 522.5,120.8 520.0,115.5 520.2,112.0 518.5,113.5 515.8,113.0 514.0,105.5 514.8,101.5 517.5,98.3 520.5,90.8 526.5,86.0 527.0,82.3 522.5,77.0 519.5,76.5 516.7,79.3 514.5,85.0 509.8,84.0 504.3,73.3 504.8,72.0 503.8,71.0 503.0,67.0 497.8,63.0 498.0,60.8 491.5,55.3 490.8,52.0 492.8,51.0 494.8,46.6 496.8,46.1 499.2,49.3 499.0,55.5 504.0,57.3 506.0,60.0 506.0,63.6 508.0,64.8 516.5,65.6 524.0,70.6 527.2,71.1 529.5,73.0 531.2,79.6 534.0,78.8 537.0,74.6 542.0,72.8 544.5,68.3 546.0,67.3 547.2,67.3 550.5,69.8 554.2,75.1 556.3,75.0 555.3,69.8 554.0,68.8 555.0,63.5 552.8,60.0 552.8,58.5 554.0,54.5 556.5,51.0 556.5,44.5 558.8,41.6 561.0,40.3 563.0,33.6 566.0,32.1 568.2,32.8 571.8,32.3 576.5,28.6 585.0,29.6 586.8,31.1 591.0,30.1 595.5,32.3 598.2,32.6 601.0,36.1 609.8,37.6 613.5,36.8 618.2,38.1 621.2,42.6 631.2,43.6 637.5,46.3 643.5,46.1 644.5,45.3 645.0,46.3 646.2,46.3 650.2,52.8 650.5,54.5 648.5,59.0 651.2,63.5 650.5,65.8 652.7,67.5 654.2,71.0 654.0,73.3 651.2,74.0 648.0,78.5 650.0,82.8 658.5,83.1 660.2,84.5 661.2,89.0 660.2,92.3 663.0,95.3 664.7,107.0 668.7,113.8 664.5,117.0 664.7,119.8 663.7,120.0 663.7,122.0 661.0,126.8 661.2,129.8 658.8,132.3 655.7,132.6 654.7,135.3 654.7,141.3 649.7,145.3 649.0,149.1 645.5,150.5 642.7,153.6 641.7,156.3 643.5,161.3 641.2,165.3 639.5,166.3 634.8,165.3 626.0,169.3 624.5,171.0 621.8,171.3 621.0,170.0 615.2,170.5 614.0,171.5 610.2,170.0 608.8,168.0 606.5,168.0 601.2,171.8ZM579.0,156.8 579.0,156.1 579.0,156.8Z"/>
<path fill-rule="evenodd" fill="#8ed2e2" d="M601.2,171.1 594.8,168.3 587.2,166.7 580.1,157.6 579.2,154.3 579.7,152.6 584.5,148.8 586.4,145.6 584.4,139.3 581.2,134.9 580.2,134.6 579.2,136.0 573.2,139.1 567.0,138.6 563.8,141.5 559.0,140.9 556.8,142.2 551.2,141.8 545.5,142.9 533.5,138.6 530.2,133.3 531.7,128.6 531.5,125.5 523.4,121.0 520.7,116.0 520.4,112.0 516.5,112.7 514.5,105.5 515.3,101.5 520.9,91.0 526.7,86.0 527.2,82.3 522.5,76.9 519.5,76.4 516.5,79.3 514.0,84.3 511.0,83.8 509.1,82.3 505.0,73.5 503.2,67.0 498.6,63.3 498.2,60.8 491.6,54.3 491.5,52.5 495.0,46.9 496.8,46.8 498.3,48.5 498.8,55.5 504.2,58.4 506.0,63.7 508.0,65.0 515.2,65.7 524.0,70.7 527.2,71.6 529.2,73.5 531.2,79.7 534.0,79.0 537.0,75.5 542.0,73.3 544.8,69.0 546.5,67.9 549.8,69.9 554.0,75.2 556.4,75.0 554.6,68.0 555.2,63.5 553.3,59.3 554.5,54.8 556.7,51.0 557.3,44.0 561.2,40.3 563.5,34.0 566.2,32.8 571.8,32.5 576.5,29.2 584.1,29.8 586.8,31.2 592.0,30.9 598.2,33.4 601.0,36.2 617.5,38.4 621.2,42.7 630.4,43.8 637.5,46.5 644.0,46.2 646.0,47.1 649.7,53.0 648.3,59.0 650.4,63.5 650.3,65.8 652.4,68.0 653.8,71.3 653.5,72.8 649.8,75.3 647.8,78.5 650.0,83.0 658.2,83.5 659.7,84.5 660.8,89.0 660.1,92.3 662.9,97.0 664.6,107.0 667.9,113.8 664.3,117.0 663.3,121.8 660.8,126.8 660.6,130.1 655.3,133.1 654.2,140.8 649.6,145.3 648.2,149.3 645.5,150.4 642.5,153.6 641.6,156.3 643.1,161.3 641.2,164.7 639.2,165.6 634.8,165.1 623.8,170.7 621.0,169.9 613.0,170.9 608.8,167.9 607.2,167.8 601.2,171.1Z"/>
<path fill-rule="evenodd" fill="#64b4e4" d="M623.2,170.1 620.8,169.4 613.0,170.2 607.2,167.3 601.0,170.3 587.4,165.6 581.1,157.3 580.2,154.6 580.8,152.7 585.1,149.1 586.8,145.6 584.8,139.1 581.2,134.3 573.0,138.3 567.0,138.0 562.8,140.9 559.2,140.2 556.8,141.2 551.0,140.9 545.8,141.9 534.5,138.3 531.2,133.3 532.6,128.3 532.2,125.0 524.3,120.5 521.8,116.0 521.2,111.8 520.0,111.1 517.2,111.7 515.5,106.0 516.3,101.8 521.5,91.7 527.4,86.5 527.6,82.0 523.2,76.8 520.0,76.0 516.3,78.5 513.4,83.3 509.9,81.8 505.8,73.5 503.5,66.5 499.3,63.0 498.0,59.6 492.4,54.3 492.3,52.8 495.3,47.8 496.5,47.6 498.0,49.5 498.5,55.9 503.9,59.0 505.9,64.3 508.2,65.6 515.0,66.3 527.2,72.5 528.6,73.8 530.8,79.9 535.8,79.8 533.9,84.0 534.9,87.3 542.2,89.3 547.2,87.3 554.2,81.6 555.8,79.3 557.3,74.5 555.6,67.8 556.1,63.5 554.3,59.0 557.6,51.3 558.2,44.3 561.9,40.8 563.7,35.3 565.4,34.0 571.8,33.5 577.2,30.0 583.8,30.5 587.0,31.8 591.5,31.5 597.8,33.9 601.2,36.8 617.2,39.0 621.2,43.2 630.0,44.4 637.8,47.1 645.4,47.5 649.0,53.3 647.9,59.3 649.9,66.0 653.0,71.3 652.6,72.5 647.9,76.5 647.4,79.0 649.8,83.4 658.0,84.2 659.1,85.0 660.0,88.8 659.7,92.8 662.3,97.3 664.0,107.0 667.0,113.5 663.8,117.0 660.0,129.6 654.8,132.9 653.7,140.3 649.3,144.8 648.0,148.6 645.0,150.2 641.9,153.6 641.1,156.3 642.4,161.1 641.6,163.3 639.5,164.9 634.0,164.8 623.2,170.1ZM549.5,72.6 545.2,72.2 545.0,70.5 547.0,69.1 549.2,71.0 549.5,72.6Z"/>
<path fill-rule="evenodd" fill="#5aa0e6" d="M614.5,169.3 612.8,169.4 609.2,166.9 607.2,166.6 601.0,169.3 595.0,166.1 585.2,151.8 587.6,145.3 585.5,138.8 582.5,134.2 580.0,133.5 572.8,137.1 565.8,136.4 555.5,129.1 554.9,130.3 556.3,135.6 554.8,135.5 545.3,128.1 540.3,121.3 538.0,113.0 538.8,102.7 522.5,100.1 520.4,98.5 522.0,93.1 524.0,91.6 533.0,90.5 545.0,92.4 556.5,84.5 559.9,79.0 564.1,76.0 568.1,67.5 570.1,51.5 573.8,38.8 576.2,33.8 578.5,31.4 581.5,31.0 586.8,32.5 592.0,32.3 597.5,34.5 601.0,37.4 616.8,39.5 621.0,43.8 629.8,44.9 637.5,47.7 645.0,48.2 648.3,53.3 647.2,59.3 649.3,66.3 652.3,71.0 647.3,76.3 646.8,79.0 649.2,83.8 658.4,85.5 659.3,88.8 659.0,92.8 661.7,97.5 663.4,107.3 666.1,112.8 663.1,116.8 659.3,129.3 654.2,132.6 653.0,140.1 648.8,144.5 647.5,148.1 644.5,149.7 641.3,153.3 640.4,156.6 641.6,161.3 640.8,163.2 639.2,164.1 634.0,164.1 623.5,169.2 614.5,169.3ZM530.0,83.9 522.8,75.7 519.0,75.4 514.0,79.4 508.0,75.1 503.8,65.8 500.0,62.8 497.7,58.0 493.0,54.0 495.8,48.6 497.5,50.1 497.8,56.3 503.4,59.5 505.5,64.9 508.0,66.2 515.0,67.1 527.5,73.5 529.8,79.8 532.0,81.5 530.0,83.9Z"/>
<path fill-rule="evenodd" fill="#7283e0" d="M614.0,168.3 609.0,165.8 603.8,165.8 601.2,163.5 589.4,146.6 583.5,133.3 569.0,130.1 557.2,121.2 550.2,123.3 547.0,119.7 545.0,114.5 545.5,105.5 552.2,92.7 556.3,88.8 568.7,81.3 570.1,79.3 574.7,69.3 576.7,52.8 580.2,40.8 582.5,36.3 585.2,33.7 592.0,33.1 597.2,35.2 600.8,38.0 616.2,40.0 620.8,44.5 629.4,45.5 637.5,48.4 644.2,49.0 647.1,53.8 646.4,59.3 648.6,66.8 650.9,70.8 646.4,76.3 646.1,79.3 648.8,84.4 656.6,86.8 658.1,93.3 660.7,98.5 663.3,112.8 661.0,121.0 658.2,128.8 653.6,132.1 652.0,139.8 648.0,144.1 646.8,147.4 644.0,149.0 640.7,152.8 639.6,155.8 639.4,160.8 637.5,162.3 623.2,167.4 614.0,168.3ZM496.2,55.3 494.2,53.5 496.0,50.5 496.2,55.3ZM503.2,63.6 500.8,62.0 500.5,59.4 503.0,60.7 503.2,63.6ZM528.0,79.3 524.2,75.4 522.0,74.5 519.0,74.3 515.5,76.7 514.2,76.6 507.8,71.7 505.7,66.8 514.6,68.0 526.0,73.7 527.1,74.8 528.0,79.3Z"/>
<path fill-rule="evenodd" fill="#7b64cd" d="M616.5,162.6 611.0,162.3 606.5,159.4 597.0,145.1 589.6,137.3 587.6,131.6 584.2,127.4 571.8,123.9 561.8,116.4 553.5,116.4 551.4,112.8 552.0,107.0 558.4,95.5 574.8,84.9 581.2,71.3 583.2,54.3 586.7,42.5 589.4,38.5 593.8,36.4 596.8,36.6 600.5,38.9 615.2,40.6 620.2,45.1 629.2,46.4 638.6,50.3 644.8,63.0 645.1,80.5 654.8,98.3 656.7,113.0 656.5,118.3 646.4,140.3 633.8,157.0 616.5,162.6Z"/>
<path fill-rule="evenodd" fill="#8845b0" d="M614.8,156.1 611.2,154.7 602.0,140.6 587.5,125.8 583.5,117.4 571.0,110.8 562.0,112.8 559.2,112.4 558.1,111.0 558.8,108.3 563.8,99.7 580.0,89.6 587.6,73.3 589.9,54.8 593.0,44.8 595.8,42.8 614.2,41.8 619.8,46.2 627.8,47.7 630.7,49.3 638.2,64.3 639.3,83.0 648.3,99.8 649.9,117.0 640.7,136.8 629.8,151.6 614.8,156.1Z"/>
<path fill-rule="evenodd" fill="#7b2b8a" d="M617.2,109.8 613.8,109.3 603.8,104.3 596.1,96.3 594.7,84.3 596.8,73.5 596.5,57.3 598.0,53.3 604.0,54.8 609.4,60.8 609.2,67.5 607.5,74.8 608.2,77.3 614.0,83.9 629.2,96.6 632.1,102.0 631.8,104.8 627.2,108.5 617.2,109.8Z"/>
<path d="M491.2,53.8 490.8,52.1 492.2,51.7 492.8,51.1 493.0,50.3 493.3,49.6 493.7,48.9 494.2,48.3 494.1,47.4 494.9,46.7 495.7,46.1 496.5,46.1 497.3,46.7 497.5,47.2 497.8,47.8 498.4,48.3 498.8,48.9 499.2,49.4 498.9,50.0 499.3,50.7 499.6,51.4 498.9,52.2 499.0,52.9 499.0,53.7 498.8,54.5 498.9,55.6 500.1,56.1 500.9,56.5 501.7,56.9 502.3,57.4 503.8,57.3 504.1,57.9 504.5,58.5 505.0,59.0 505.2,59.8 505.9,60.1 505.7,61.4 505.9,62.3 505.9,63.7 507.0,63.7 507.3,64.6 508.0,64.9 508.8,64.7 509.4,65.1 510.4,64.8 511.2,64.7 511.8,65.4 512.8,65.0 513.5,65.4 514.4,65.2 515.2,65.2 515.7,66.1 516.6,65.7 517.1,66.6 517.8,67.2 518.5,67.3 519.3,67.5 519.8,68.4 520.6,68.4 521.2,69.1 522.1,68.8 522.5,69.2 522.8,69.7 523.6,69.8 524.0,70.6 524.8,70.7 525.8,70.5 526.2,71.2 527.1,71.2 527.7,71.7 528.2,72.2 528.9,72.5 529.3,73.1 529.5,73.9 529.6,74.6 529.8,75.3 529.7,76.2 530.2,76.7 530.4,77.4 530.8,78.1 531.1,79.7 532.6,79.0 533.3,78.9 534.1,79.0 534.7,78.2 535.3,77.6 535.7,76.9 535.9,76.2 536.3,75.5 536.7,74.9 537.5,74.6 538.5,74.6 539.0,74.0 539.7,73.7 540.6,73.7 541.2,73.3 541.8,72.9 542.5,72.6 542.6,71.7 543.4,71.5 543.4,70.4 544.0,69.8 544.4,69.2 544.7,68.3 545.5,68.1 546.0,67.4 547.0,67.4 547.7,67.7 548.1,68.4 548.8,68.8 549.4,69.2 549.9,69.8 550.7,70.0 550.7,70.8 551.2,71.4 551.9,71.7 552.3,72.3 552.7,72.9 553.0,73.6 553.7,73.9 554.1,75.0 554.8,75.2 556.4,75.3 555.9,73.9 555.8,73.1 555.4,72.4 555.3,71.7 555.4,70.8 555.3,70.0 555.1,69.3 554.1,68.8 554.2,68.1 554.2,67.4 554.5,66.7 554.6,65.9 554.8,65.2 554.8,64.4 555.3,63.6 554.6,63.0 554.4,62.2 553.8,61.5 553.5,60.8 553.0,60.1 553.0,59.4 552.8,58.6 553.7,58.0 553.5,57.3 553.1,56.5 554.1,55.9 554.2,55.1 554.2,54.4 554.8,54.0 554.8,53.4 555.7,53.0 556.1,52.4 556.3,51.6 556.6,51.0 556.5,50.2 556.8,49.5 556.8,48.6 557.1,48.0 556.3,46.8 556.8,46.2 556.7,45.4 556.7,44.5 557.0,43.9 557.5,43.3 557.8,42.7 558.3,42.1 559.0,41.6 559.6,41.1 560.5,40.8 561.1,40.3 560.9,39.4 561.7,39.0 561.8,38.2 561.8,37.4 561.7,36.5 562.3,36.0 562.4,35.0 562.7,34.3 563.1,33.6 564.0,33.5 564.3,32.8 565.6,33.0 565.9,32.2 566.8,32.4 567.6,32.6 568.4,33.0 569.1,32.4 569.9,32.7 570.6,32.6 571.4,32.4 572.1,32.3 572.8,31.7 573.4,31.2 574.2,31.3 574.7,30.3 575.3,29.4 576.0,29.1 576.6,28.7 577.5,29.1 578.2,28.5 579.1,29.4 579.8,29.2 580.6,29.0 581.3,29.0 582.1,29.4 582.8,29.3 583.6,29.7 584.4,29.8 584.9,29.5 585.4,30.2 586.1,30.6 586.9,31.2 587.9,31.0 588.6,30.8 589.4,31.1 590.1,30.8 590.9,30.2 591.6,30.6 592.3,30.8 593.0,31.2 593.8,31.3 594.3,31.5 595.0,31.5 595.5,32.3 596.4,32.0 597.0,32.9 597.8,32.9 598.4,32.7 598.6,33.3 599.1,34.0 599.7,34.4 600.4,34.9 601.0,36.1 602.2,36.2 603.0,36.3 603.7,36.6 604.5,36.5 605.2,36.9 606.0,37.0 606.8,37.0 607.6,37.0 608.2,37.4 609.1,37.1 609.9,37.7 610.6,37.2 611.3,37.7 612.1,37.5 612.8,37.4 613.6,37.0 614.3,37.4 615.0,37.8 615.7,37.5 616.4,38.0 617.2,38.2 617.9,38.1 618.6,38.4 618.9,38.3 618.7,39.1 619.1,39.7 619.5,40.4 619.9,41.1 620.4,41.7 621.3,42.7 622.7,42.5 623.4,42.7 624.2,42.7 625.0,43.0 625.7,43.0 626.4,43.3 627.3,43.1 628.1,43.1 628.8,43.4 629.6,43.4 630.3,43.7 631.1,43.7 631.7,44.2 632.4,44.7 633.2,44.4 633.9,44.7 634.6,45.2 635.4,45.0 636.1,45.5 636.8,45.8 637.4,46.3 638.2,46.4 638.9,46.5 639.8,46.1 640.5,46.5 641.3,46.2 642.1,45.9 642.8,46.3 643.6,46.2 644.5,45.3 645.0,46.5 646.1,46.2 646.5,47.4 646.9,48.1 647.1,49.1 647.7,49.6 648.6,49.9 648.2,50.7 649.0,51.4 649.3,52.1 650.1,52.7 649.8,53.5 650.3,54.2 650.2,55.0 649.7,55.7 649.0,56.5 649.4,57.3 648.3,58.3 648.5,59.2 648.9,59.8 649.2,60.5 649.1,61.4 649.6,61.9 650.0,62.6 650.6,63.0 651.2,63.6 650.3,64.4 651.0,64.8 650.2,65.6 651.2,66.2 651.3,67.0 652.6,67.5 652.7,68.2 653.0,68.9 653.5,69.6 653.7,70.3 654.0,71.0 654.0,71.8 654.2,72.7 653.6,73.5 652.9,73.7 651.8,73.8 651.1,74.0 650.6,74.5 650.3,75.2 649.6,75.5 649.1,76.0 648.9,76.8 648.3,77.2 647.7,78.2 648.5,79.2 648.6,80.0 648.9,80.7 649.4,81.4 649.5,82.2 649.9,82.9 650.7,82.8 651.6,82.5 652.3,82.7 653.0,83.0 653.7,83.0 654.5,82.9 655.3,82.7 655.9,83.5 656.7,83.2 657.4,83.4 658.2,83.2 659.4,83.6 660.2,84.6 660.2,85.4 660.2,86.2 660.4,86.9 660.7,87.6 660.8,88.4 661.2,89.1 661.0,89.9 660.2,90.9 660.5,91.5 660.2,92.3 660.4,93.0 661.3,93.5 661.8,94.1 661.9,94.8 663.0,95.3 662.7,96.1 662.8,96.8 663.4,97.4 663.4,98.1 663.3,98.8 663.4,99.6 663.7,100.2 663.7,100.9 663.9,101.6 663.7,102.4 664.0,103.0 664.5,103.6 664.2,104.5 664.5,105.2 664.7,105.9 664.5,106.8 664.9,107.4 665.5,107.8 665.5,108.7 666.2,109.2 666.5,109.9 666.8,110.6 667.2,111.3 667.6,112.0 668.0,112.7 668.8,113.4 668.3,114.3 667.5,114.7 667.0,115.2 666.0,115.4 665.6,116.1 664.8,116.4 664.4,117.1 664.2,117.8 664.1,118.6 664.6,119.8 663.6,120.1 663.8,121.1 663.7,121.9 663.2,122.5 662.6,123.0 662.7,123.8 661.8,124.2 661.5,125.0 661.8,125.9 661.1,126.5 660.7,127.1 661.4,128.2 661.2,129.0 661.0,130.0 660.2,130.6 659.8,131.2 658.9,131.5 658.7,132.2 657.8,132.4 656.9,132.6 655.6,132.4 655.4,133.3 655.1,134.0 654.8,134.7 654.7,135.4 654.7,136.2 654.8,137.1 655.1,138.0 655.1,138.8 654.9,139.6 654.6,140.3 654.6,141.4 653.6,141.6 653.3,142.3 652.5,142.7 652.1,143.3 651.5,143.8 650.8,144.4 650.2,145.0 649.5,145.4 649.9,146.9 649.4,147.5 649.1,148.3 648.8,149.1 648.2,149.6 648.0,149.9 647.6,150.0 646.7,150.3 645.4,150.5 645.2,151.2 644.6,151.7 644.0,152.2 643.3,152.6 642.9,153.2 642.5,153.9 642.0,154.7 642.4,155.4 641.6,156.1 641.9,156.9 642.2,157.6 642.0,158.3 642.5,159.1 643.2,160.0 643.4,160.7 643.2,162.0 642.8,163.5 642.2,164.0 641.6,164.5 641.2,165.2 640.4,165.5 639.4,166.1 638.0,165.5 637.3,165.9 636.4,165.4 635.6,165.7 634.7,165.2 634.0,165.7 633.4,166.1 632.8,166.6 631.7,166.3 631.4,167.2 630.4,167.2 629.6,167.2 629.2,167.9 628.5,168.0 627.9,168.5 627.4,169.1 626.6,169.1 625.9,169.3 625.4,169.8 624.9,170.5 624.3,170.9 623.7,171.0 623.2,170.9 622.4,171.0 621.6,171.2 621.1,169.8 620.2,170.5 619.5,170.3 618.7,170.6 617.9,170.7 617.2,170.6 616.5,170.4 615.8,170.5 615.0,170.5 614.3,171.4 613.6,171.2 612.9,171.1 612.1,171.0 611.4,170.3 610.7,170.1 609.9,169.7 609.3,169.0 608.7,167.8 607.9,168.4 607.2,167.9 606.5,168.0 605.7,168.7 604.8,169.4 604.0,170.3 603.2,170.6 602.5,170.8 601.7,171.3 600.9,171.8 600.3,170.9 599.5,170.9 598.8,170.5 598.1,170.8 597.5,169.4 596.7,169.8 596.0,168.9 595.3,168.7 594.6,168.4 593.8,169.0 592.8,167.9 592.3,167.7 591.5,168.2 591.0,167.7 590.0,167.7 589.1,167.7 588.3,167.5 587.7,167.2 586.8,166.7 586.1,166.0 585.6,165.4 585.4,164.6 585.1,164.0 584.7,163.3 584.0,162.9 583.9,162.2 583.3,161.7 582.7,161.1 582.0,160.8 581.6,159.9 581.2,159.6 580.9,158.8 580.3,158.2 579.7,157.7 579.2,156.6 578.5,156.4 579.1,156.2 579.1,156.8 579.6,156.2 579.1,155.3 578.7,154.4 578.7,153.6 579.3,153.0 579.4,152.2 579.9,151.6 580.8,151.2 582.0,150.7 582.8,150.2 583.6,149.7 583.6,148.8 582.7,149.5 581.9,150.6 582.7,150.4 583.2,149.4 583.8,148.6 584.6,148.7 585.0,147.3 585.5,146.1 586.3,145.7 586.0,144.8 585.5,144.0 584.9,143.3 585.0,142.6 584.8,141.8 584.6,141.7 584.8,141.3 584.3,140.6 584.4,139.3 583.6,138.9 583.3,138.2 583.2,137.3 582.8,136.7 582.0,136.3 581.9,135.4 581.2,135.0 580.5,134.6 580.1,134.7 580.3,135.2 580.0,136.0 579.3,136.3 578.5,136.5 577.7,136.7 577.3,137.5 576.3,137.6 575.4,137.9 574.8,138.4 574.1,138.9 573.5,139.4 572.8,139.6 571.9,139.2 571.1,138.9 570.2,138.6 569.4,138.4 568.9,139.0 567.9,138.6 567.1,138.7 566.6,139.4 566.1,139.9 565.6,140.7 564.9,140.9 564.4,141.5 563.7,141.7 562.9,141.8 562.1,141.8 561.3,141.8 560.3,141.3 559.2,140.8 558.6,141.2 558.1,141.8 558.0,142.6 557.5,142.4 556.8,142.6 556.0,142.3 555.3,142.4 554.6,142.3 553.8,142.0 553.1,142.2 552.4,142.2 551.6,141.9 550.9,142.1 550.1,142.3 549.9,142.1 549.5,142.2 548.7,142.4 547.8,142.6 546.9,143.1 546.1,143.2 545.3,143.2 544.6,142.9 544.0,142.3 543.3,142.0 542.5,141.9 542.1,141.3 541.3,141.2 540.4,141.6 539.7,141.4 539.2,140.8 538.3,140.9 537.8,140.4 536.8,140.8 536.3,140.1 535.6,140.1 534.6,140.3 534.2,139.4 533.4,139.4 533.2,138.3 532.6,137.9 532.2,137.1 531.7,136.5 531.3,136.2 531.1,135.7 530.9,135.0 530.1,134.4 529.9,133.7 529.8,132.9 530.0,132.0 531.0,130.8 530.7,130.2 531.1,129.2 531.8,128.2 531.5,127.5 531.3,126.8 531.5,126.0 531.3,125.3 530.4,124.9 528.9,124.8 528.5,123.9 527.7,123.3 526.5,123.2 525.7,122.9 524.7,122.7 523.8,122.3 523.9,121.5 522.9,121.2 522.5,120.7 522.6,119.8 522.3,119.1 521.5,118.8 521.4,117.9 520.9,117.2 520.7,116.5 520.3,115.8 520.2,115.0 520.5,114.2 520.5,113.4 520.4,112.7 520.4,112.0 519.7,112.1 519.1,112.7 518.5,113.5 517.7,113.3 517.0,113.6 516.1,113.5 515.8,112.7 515.9,111.7 515.8,110.9 514.8,110.6 514.8,109.6 514.9,108.7 514.6,108.7 514.6,108.5 514.8,107.8 514.4,107.0 514.4,106.2 514.2,105.4 514.1,104.6 514.3,103.9 515.0,103.3 514.7,102.5 514.9,101.8 515.1,101.1 515.7,100.6 515.8,99.8 516.1,99.2 517.0,98.8 517.6,98.2 517.5,97.4 518.3,96.9 518.2,96.1 518.3,95.3 519.2,95.0 519.5,94.5 519.7,93.7 519.8,92.9 520.5,92.5 520.2,91.5 520.6,90.9 521.1,90.3 521.9,90.0 522.2,89.4 522.9,89.0 524.3,88.7 524.2,87.6 525.5,87.2 525.9,86.5 526.7,86.0 526.8,85.2 526.7,84.4 527.0,83.8 527.0,82.2 525.9,81.0 525.4,80.3 524.7,79.8 524.1,79.2 523.8,78.5 523.1,77.8 522.6,77.0 521.7,77.1 521.1,76.7 520.1,77.0 519.3,77.1 519.4,76.4 519.8,76.9 518.9,77.4 518.1,77.9 517.6,78.5 516.8,79.1 516.3,80.0 516.0,80.7 515.9,81.5 515.4,82.2 515.1,82.9 515.1,82.8 515.0,83.0 514.7,84.0 514.7,84.7 514.3,85.0 513.5,85.1 512.8,84.9 512.1,84.3 511.4,84.2 510.7,84.0 509.8,84.2 509.7,83.1 509.1,82.6 508.4,82.1 508.1,81.3 507.8,80.8 507.8,80.5 507.7,79.7 507.1,79.1 506.6,78.4 506.5,77.7 506.2,77.0 505.9,76.3 505.5,75.7 505.7,74.9 505.2,74.4 504.7,73.7 504.3,73.1 504.9,72.0 504.2,71.5 503.9,70.8 503.8,70.0 503.3,69.5 503.3,68.6 503.2,67.8 503.1,66.9 502.5,66.4 501.8,65.9 500.8,65.7 500.4,65.0 499.8,64.4 499.1,64.0 498.5,63.4 497.9,63.0 497.6,62.3 498.2,61.0 497.7,60.4 497.3,59.8 496.7,59.3 496.3,58.7 495.7,58.2 494.8,57.9 494.3,57.3 493.2,57.2 492.5,56.7 492.5,55.8 491.7,55.4Z" fill="none" stroke="#cdeaf0" stroke-width="4.2" stroke-linejoin="round"/>
<path d="M491.2,53.8 490.8,52.1 492.2,51.7 492.8,51.1 493.0,50.3 493.3,49.6 493.7,48.9 494.2,48.3 494.1,47.4 494.9,46.7 495.7,46.1 496.5,46.1 497.3,46.7 497.5,47.2 497.8,47.8 498.4,48.3 498.8,48.9 499.2,49.4 498.9,50.0 499.3,50.7 499.6,51.4 498.9,52.2 499.0,52.9 499.0,53.7 498.8,54.5 498.9,55.6 500.1,56.1 500.9,56.5 501.7,56.9 502.3,57.4 503.8,57.3 504.1,57.9 504.5,58.5 505.0,59.0 505.2,59.8 505.9,60.1 505.7,61.4 505.9,62.3 505.9,63.7 507.0,63.7 507.3,64.6 508.0,64.9 508.8,64.7 509.4,65.1 510.4,64.8 511.2,64.7 511.8,65.4 512.8,65.0 513.5,65.4 514.4,65.2 515.2,65.2 515.7,66.1 516.6,65.7 517.1,66.6 517.8,67.2 518.5,67.3 519.3,67.5 519.8,68.4 520.6,68.4 521.2,69.1 522.1,68.8 522.5,69.2 522.8,69.7 523.6,69.8 524.0,70.6 524.8,70.7 525.8,70.5 526.2,71.2 527.1,71.2 527.7,71.7 528.2,72.2 528.9,72.5 529.3,73.1 529.5,73.9 529.6,74.6 529.8,75.3 529.7,76.2 530.2,76.7 530.4,77.4 530.8,78.1 531.1,79.7 532.6,79.0 533.3,78.9 534.1,79.0 534.7,78.2 535.3,77.6 535.7,76.9 535.9,76.2 536.3,75.5 536.7,74.9 537.5,74.6 538.5,74.6 539.0,74.0 539.7,73.7 540.6,73.7 541.2,73.3 541.8,72.9 542.5,72.6 542.6,71.7 543.4,71.5 543.4,70.4 544.0,69.8 544.4,69.2 544.7,68.3 545.5,68.1 546.0,67.4 547.0,67.4 547.7,67.7 548.1,68.4 548.8,68.8 549.4,69.2 549.9,69.8 550.7,70.0 550.7,70.8 551.2,71.4 551.9,71.7 552.3,72.3 552.7,72.9 553.0,73.6 553.7,73.9 554.1,75.0 554.8,75.2 556.4,75.3 555.9,73.9 555.8,73.1 555.4,72.4 555.3,71.7 555.4,70.8 555.3,70.0 555.1,69.3 554.1,68.8 554.2,68.1 554.2,67.4 554.5,66.7 554.6,65.9 554.8,65.2 554.8,64.4 555.3,63.6 554.6,63.0 554.4,62.2 553.8,61.5 553.5,60.8 553.0,60.1 553.0,59.4 552.8,58.6 553.7,58.0 553.5,57.3 553.1,56.5 554.1,55.9 554.2,55.1 554.2,54.4 554.8,54.0 554.8,53.4 555.7,53.0 556.1,52.4 556.3,51.6 556.6,51.0 556.5,50.2 556.8,49.5 556.8,48.6 557.1,48.0 556.3,46.8 556.8,46.2 556.7,45.4 556.7,44.5 557.0,43.9 557.5,43.3 557.8,42.7 558.3,42.1 559.0,41.6 559.6,41.1 560.5,40.8 561.1,40.3 560.9,39.4 561.7,39.0 561.8,38.2 561.8,37.4 561.7,36.5 562.3,36.0 562.4,35.0 562.7,34.3 563.1,33.6 564.0,33.5 564.3,32.8 565.6,33.0 565.9,32.2 566.8,32.4 567.6,32.6 568.4,33.0 569.1,32.4 569.9,32.7 570.6,32.6 571.4,32.4 572.1,32.3 572.8,31.7 573.4,31.2 574.2,31.3 574.7,30.3 575.3,29.4 576.0,29.1 576.6,28.7 577.5,29.1 578.2,28.5 579.1,29.4 579.8,29.2 580.6,29.0 581.3,29.0 582.1,29.4 582.8,29.3 583.6,29.7 584.4,29.8 584.9,29.5 585.4,30.2 586.1,30.6 586.9,31.2 587.9,31.0 588.6,30.8 589.4,31.1 590.1,30.8 590.9,30.2 591.6,30.6 592.3,30.8 593.0,31.2 593.8,31.3 594.3,31.5 595.0,31.5 595.5,32.3 596.4,32.0 597.0,32.9 597.8,32.9 598.4,32.7 598.6,33.3 599.1,34.0 599.7,34.4 600.4,34.9 601.0,36.1 602.2,36.2 603.0,36.3 603.7,36.6 604.5,36.5 605.2,36.9 606.0,37.0 606.8,37.0 607.6,37.0 608.2,37.4 609.1,37.1 609.9,37.7 610.6,37.2 611.3,37.7 612.1,37.5 612.8,37.4 613.6,37.0 614.3,37.4 615.0,37.8 615.7,37.5 616.4,38.0 617.2,38.2 617.9,38.1 618.6,38.4 618.9,38.3 618.7,39.1 619.1,39.7 619.5,40.4 619.9,41.1 620.4,41.7 621.3,42.7 622.7,42.5 623.4,42.7 624.2,42.7 625.0,43.0 625.7,43.0 626.4,43.3 627.3,43.1 628.1,43.1 628.8,43.4 629.6,43.4 630.3,43.7 631.1,43.7 631.7,44.2 632.4,44.7 633.2,44.4 633.9,44.7 634.6,45.2 635.4,45.0 636.1,45.5 636.8,45.8 637.4,46.3 638.2,46.4 638.9,46.5 639.8,46.1 640.5,46.5 641.3,46.2 642.1,45.9 642.8,46.3 643.6,46.2 644.5,45.3 645.0,46.5 646.1,46.2 646.5,47.4 646.9,48.1 647.1,49.1 647.7,49.6 648.6,49.9 648.2,50.7 649.0,51.4 649.3,52.1 650.1,52.7 649.8,53.5 650.3,54.2 650.2,55.0 649.7,55.7 649.0,56.5 649.4,57.3 648.3,58.3 648.5,59.2 648.9,59.8 649.2,60.5 649.1,61.4 649.6,61.9 650.0,62.6 650.6,63.0 651.2,63.6 650.3,64.4 651.0,64.8 650.2,65.6 651.2,66.2 651.3,67.0 652.6,67.5 652.7,68.2 653.0,68.9 653.5,69.6 653.7,70.3 654.0,71.0 654.0,71.8 654.2,72.7 653.6,73.5 652.9,73.7 651.8,73.8 651.1,74.0 650.6,74.5 650.3,75.2 649.6,75.5 649.1,76.0 648.9,76.8 648.3,77.2 647.7,78.2 648.5,79.2 648.6,80.0 648.9,80.7 649.4,81.4 649.5,82.2 649.9,82.9 650.7,82.8 651.6,82.5 652.3,82.7 653.0,83.0 653.7,83.0 654.5,82.9 655.3,82.7 655.9,83.5 656.7,83.2 657.4,83.4 658.2,83.2 659.4,83.6 660.2,84.6 660.2,85.4 660.2,86.2 660.4,86.9 660.7,87.6 660.8,88.4 661.2,89.1 661.0,89.9 660.2,90.9 660.5,91.5 660.2,92.3 660.4,93.0 661.3,93.5 661.8,94.1 661.9,94.8 663.0,95.3 662.7,96.1 662.8,96.8 663.4,97.4 663.4,98.1 663.3,98.8 663.4,99.6 663.7,100.2 663.7,100.9 663.9,101.6 663.7,102.4 664.0,103.0 664.5,103.6 664.2,104.5 664.5,105.2 664.7,105.9 664.5,106.8 664.9,107.4 665.5,107.8 665.5,108.7 666.2,109.2 666.5,109.9 666.8,110.6 667.2,111.3 667.6,112.0 668.0,112.7 668.8,113.4 668.3,114.3 667.5,114.7 667.0,115.2 666.0,115.4 665.6,116.1 664.8,116.4 664.4,117.1 664.2,117.8 664.1,118.6 664.6,119.8 663.6,120.1 663.8,121.1 663.7,121.9 663.2,122.5 662.6,123.0 662.7,123.8 661.8,124.2 661.5,125.0 661.8,125.9 661.1,126.5 660.7,127.1 661.4,128.2 661.2,129.0 661.0,130.0 660.2,130.6 659.8,131.2 658.9,131.5 658.7,132.2 657.8,132.4 656.9,132.6 655.6,132.4 655.4,133.3 655.1,134.0 654.8,134.7 654.7,135.4 654.7,136.2 654.8,137.1 655.1,138.0 655.1,138.8 654.9,139.6 654.6,140.3 654.6,141.4 653.6,141.6 653.3,142.3 652.5,142.7 652.1,143.3 651.5,143.8 650.8,144.4 650.2,145.0 649.5,145.4 649.9,146.9 649.4,147.5 649.1,148.3 648.8,149.1 648.2,149.6 648.0,149.9 647.6,150.0 646.7,150.3 645.4,150.5 645.2,151.2 644.6,151.7 644.0,152.2 643.3,152.6 642.9,153.2 642.5,153.9 642.0,154.7 642.4,155.4 641.6,156.1 641.9,156.9 642.2,157.6 642.0,158.3 642.5,159.1 643.2,160.0 643.4,160.7 643.2,162.0 642.8,163.5 642.2,164.0 641.6,164.5 641.2,165.2 640.4,165.5 639.4,166.1 638.0,165.5 637.3,165.9 636.4,165.4 635.6,165.7 634.7,165.2 634.0,165.7 633.4,166.1 632.8,166.6 631.7,166.3 631.4,167.2 630.4,167.2 629.6,167.2 629.2,167.9 628.5,168.0 627.9,168.5 627.4,169.1 626.6,169.1 625.9,169.3 625.4,169.8 624.9,170.5 624.3,170.9 623.7,171.0 623.2,170.9 622.4,171.0 621.6,171.2 621.1,169.8 620.2,170.5 619.5,170.3 618.7,170.6 617.9,170.7 617.2,170.6 616.5,170.4 615.8,170.5 615.0,170.5 614.3,171.4 613.6,171.2 612.9,171.1 612.1,171.0 611.4,170.3 610.7,170.1 609.9,169.7 609.3,169.0 608.7,167.8 607.9,168.4 607.2,167.9 606.5,168.0 605.7,168.7 604.8,169.4 604.0,170.3 603.2,170.6 602.5,170.8 601.7,171.3 600.9,171.8 600.3,170.9 599.5,170.9 598.8,170.5 598.1,170.8 597.5,169.4 596.7,169.8 596.0,168.9 595.3,168.7 594.6,168.4 593.8,169.0 592.8,167.9 592.3,167.7 591.5,168.2 591.0,167.7 590.0,167.7 589.1,167.7 588.3,167.5 587.7,167.2 586.8,166.7 586.1,166.0 585.6,165.4 585.4,164.6 585.1,164.0 584.7,163.3 584.0,162.9 583.9,162.2 583.3,161.7 582.7,161.1 582.0,160.8 581.6,159.9 581.2,159.6 580.9,158.8 580.3,158.2 579.7,157.7 579.2,156.6 578.5,156.4 579.1,156.2 579.1,156.8 579.6,156.2 579.1,155.3 578.7,154.4 578.7,153.6 579.3,153.0 579.4,152.2 579.9,151.6 580.8,151.2 582.0,150.7 582.8,150.2 583.6,149.7 583.6,148.8 582.7,149.5 581.9,150.6 582.7,150.4 583.2,149.4 583.8,148.6 584.6,148.7 585.0,147.3 585.5,146.1 586.3,145.7 586.0,144.8 585.5,144.0 584.9,143.3 585.0,142.6 584.8,141.8 584.6,141.7 584.8,141.3 584.3,140.6 584.4,139.3 583.6,138.9 583.3,138.2 583.2,137.3 582.8,136.7 582.0,136.3 581.9,135.4 581.2,135.0 580.5,134.6 580.1,134.7 580.3,135.2 580.0,136.0 579.3,136.3 578.5,136.5 577.7,136.7 577.3,137.5 576.3,137.6 575.4,137.9 574.8,138.4 574.1,138.9 573.5,139.4 572.8,139.6 571.9,139.2 571.1,138.9 570.2,138.6 569.4,138.4 568.9,139.0 567.9,138.6 567.1,138.7 566.6,139.4 566.1,139.9 565.6,140.7 564.9,140.9 564.4,141.5 563.7,141.7 562.9,141.8 562.1,141.8 561.3,141.8 560.3,141.3 559.2,140.8 558.6,141.2 558.1,141.8 558.0,142.6 557.5,142.4 556.8,142.6 556.0,142.3 555.3,142.4 554.6,142.3 553.8,142.0 553.1,142.2 552.4,142.2 551.6,141.9 550.9,142.1 550.1,142.3 549.9,142.1 549.5,142.2 548.7,142.4 547.8,142.6 546.9,143.1 546.1,143.2 545.3,143.2 544.6,142.9 544.0,142.3 543.3,142.0 542.5,141.9 542.1,141.3 541.3,141.2 540.4,141.6 539.7,141.4 539.2,140.8 538.3,140.9 537.8,140.4 536.8,140.8 536.3,140.1 535.6,140.1 534.6,140.3 534.2,139.4 533.4,139.4 533.2,138.3 532.6,137.9 532.2,137.1 531.7,136.5 531.3,136.2 531.1,135.7 530.9,135.0 530.1,134.4 529.9,133.7 529.8,132.9 530.0,132.0 531.0,130.8 530.7,130.2 531.1,129.2 531.8,128.2 531.5,127.5 531.3,126.8 531.5,126.0 531.3,125.3 530.4,124.9 528.9,124.8 528.5,123.9 527.7,123.3 526.5,123.2 525.7,122.9 524.7,122.7 523.8,122.3 523.9,121.5 522.9,121.2 522.5,120.7 522.6,119.8 522.3,119.1 521.5,118.8 521.4,117.9 520.9,117.2 520.7,116.5 520.3,115.8 520.2,115.0 520.5,114.2 520.5,113.4 520.4,112.7 520.4,112.0 519.7,112.1 519.1,112.7 518.5,113.5 517.7,113.3 517.0,113.6 516.1,113.5 515.8,112.7 515.9,111.7 515.8,110.9 514.8,110.6 514.8,109.6 514.9,108.7 514.6,108.7 514.6,108.5 514.8,107.8 514.4,107.0 514.4,106.2 514.2,105.4 514.1,104.6 514.3,103.9 515.0,103.3 514.7,102.5 514.9,101.8 515.1,101.1 515.7,100.6 515.8,99.8 516.1,99.2 517.0,98.8 517.6,98.2 517.5,97.4 518.3,96.9 518.2,96.1 518.3,95.3 519.2,95.0 519.5,94.5 519.7,93.7 519.8,92.9 520.5,92.5 520.2,91.5 520.6,90.9 521.1,90.3 521.9,90.0 522.2,89.4 522.9,89.0 524.3,88.7 524.2,87.6 525.5,87.2 525.9,86.5 526.7,86.0 526.8,85.2 526.7,84.4 527.0,83.8 527.0,82.2 525.9,81.0 525.4,80.3 524.7,79.8 524.1,79.2 523.8,78.5 523.1,77.8 522.6,77.0 521.7,77.1 521.1,76.7 520.1,77.0 519.3,77.1 519.4,76.4 519.8,76.9 518.9,77.4 518.1,77.9 517.6,78.5 516.8,79.1 516.3,80.0 516.0,80.7 515.9,81.5 515.4,82.2 515.1,82.9 515.1,82.8 515.0,83.0 514.7,84.0 514.7,84.7 514.3,85.0 513.5,85.1 512.8,84.9 512.1,84.3 511.4,84.2 510.7,84.0 509.8,84.2 509.7,83.1 509.1,82.6 508.4,82.1 508.1,81.3 507.8,80.8 507.8,80.5 507.7,79.7 507.1,79.1 506.6,78.4 506.5,77.7 506.2,77.0 505.9,76.3 505.5,75.7 505.7,74.9 505.2,74.4 504.7,73.7 504.3,73.1 504.9,72.0 504.2,71.5 503.9,70.8 503.8,70.0 503.3,69.5 503.3,68.6 503.2,67.8 503.1,66.9 502.5,66.4 501.8,65.9 500.8,65.7 500.4,65.0 499.8,64.4 499.1,64.0 498.5,63.4 497.9,63.0 497.6,62.3 498.2,61.0 497.7,60.4 497.3,59.8 496.7,59.3 496.3,58.7 495.7,58.2 494.8,57.9 494.3,57.3 493.2,57.2 492.5,56.7 492.5,55.8 491.7,55.4Z" fill="none" stroke="#000" stroke-width="1.8" stroke-linejoin="round"/>
<path d="M598.5,179.5 l2.2,0.8 M602.2,180.9 l2.5,1.4" stroke="#000" stroke-width="1.2" fill="none"/>
<circle cx="578.0" cy="101.3" r="99.2" fill="none" stroke="#000" stroke-width="2"/>
<text x="479.5" y="22.0" font-family="Liberation Sans" font-size="15">b</text>
<text x="685.5" y="11.7" font-family="Liberation Sans" font-size="16" text-anchor="end">(0.05)</text>
<path fill-rule="evenodd" fill="#d3e9ec" d="M621.5,380.7 620.2,379.2 613.5,380.7 607.2,377.5 602.5,380.5 601.0,380.5 594.5,377.5 588.5,377.0 585.5,375.0 584.0,371.2 578.8,366.5 578.5,363.2 579.8,360.8 583.2,358.8 586.5,355.2 586.0,350.0 587.2,348.5 589.0,348.2 589.3,346.8 585.3,341.2 585.5,338.0 583.5,333.2 582.0,331.5 577.5,330.2 576.0,326.5 574.5,325.2 571.2,325.8 568.2,332.2 567.2,332.8 566.5,335.0 568.2,340.0 565.7,342.2 565.0,344.0 565.7,345.8 561.8,350.5 554.8,350.5 550.0,346.5 548.0,346.5 542.5,350.7 540.8,351.0 538.0,348.7 534.8,348.7 532.5,345.2 530.0,345.0 529.0,343.2 529.5,341.5 528.8,340.8 529.3,338.0 528.5,335.5 525.8,333.5 524.5,330.5 523.0,329.5 522.8,325.0 520.8,321.0 516.3,321.8 517.0,321.0 516.5,317.8 514.5,314.8 515.0,308.0 518.2,304.8 521.3,303.2 522.3,301.2 521.8,297.5 522.8,297.2 523.0,295.5 525.3,292.8 524.8,289.8 519.5,285.5 517.2,289.0 517.0,293.5 515.2,296.0 514.0,296.0 511.0,293.2 505.0,291.2 503.5,288.8 503.5,286.5 504.5,285.2 503.3,283.8 503.3,277.8 499.0,272.5 497.0,272.2 495.5,270.8 492.5,264.0 492.0,261.8 494.8,256.0 497.2,255.3 498.5,256.8 499.5,259.0 499.5,265.5 501.8,265.8 504.5,267.5 506.2,272.8 508.8,274.3 515.2,274.3 517.2,276.3 526.2,280.0 529.2,282.0 531.2,288.0 533.5,288.3 538.8,282.5 541.5,282.5 543.5,281.0 544.0,278.2 547.0,276.0 547.5,277.5 549.0,277.5 550.7,279.2 553.0,283.3 556.0,284.2 555.3,279.2 554.0,277.2 554.5,272.8 553.0,267.2 554.3,263.0 555.5,262.2 557.0,258.8 556.5,253.8 557.3,252.0 561.5,248.2 563.0,242.3 573.0,241.0 577.0,237.8 583.5,238.3 587.5,240.0 592.2,239.5 596.2,241.8 598.2,241.8 601.0,244.5 605.8,246.3 613.8,246.3 616.5,247.5 618.0,246.8 619.2,250.0 621.2,251.8 624.5,251.5 635.5,253.8 637.2,255.8 646.0,255.0 650.2,263.5 648.5,267.5 649.2,270.8 651.0,272.2 650.7,274.0 654.7,280.2 653.2,282.7 651.8,283.0 648.7,285.8 648.5,288.8 649.8,292.3 651.5,291.5 656.0,291.8 659.7,293.0 660.7,296.0 660.7,302.0 662.2,303.2 661.7,304.0 663.2,305.2 663.7,307.2 663.5,311.0 664.5,311.2 665.0,318.0 667.0,319.5 668.7,323.0 664.5,326.2 664.0,331.2 660.7,336.2 661.0,339.2 659.5,341.0 656.2,341.5 654.5,342.8 655.5,347.2 654.2,350.8 650.2,353.5 649.5,357.8 642.2,363.0 642.7,365.5 641.7,366.0 642.7,367.0 643.2,370.2 642.0,374.0 639.2,375.2 634.8,374.5 634.0,375.5 628.8,376.7 625.8,379.7 624.8,379.2 624.2,380.5 621.5,380.7Z"/>
<path fill-rule="evenodd" fill="#8ed2e2" d="M614.0,380.3 607.2,377.3 601.5,380.0 594.5,377.3 588.8,376.3 586.2,375.0 584.2,371.2 579.8,366.8 579.4,362.5 586.7,355.2 586.4,350.2 589.2,348.2 589.4,346.8 586.0,341.5 585.7,338.0 583.7,333.2 582.0,331.3 578.0,329.8 574.5,325.1 571.1,325.8 567.1,332.8 566.3,335.0 567.2,340.0 564.8,344.0 564.8,346.0 561.2,350.2 555.0,350.0 549.0,346.1 540.8,350.4 538.0,348.5 535.2,348.1 532.5,345.0 530.2,344.4 528.7,335.5 523.5,329.0 523.0,325.0 521.0,321.0 517.4,320.8 514.9,314.0 515.7,308.2 521.0,303.8 522.5,301.2 522.4,298.0 525.5,292.8 524.9,289.8 519.5,285.4 517.8,287.2 516.2,293.9 514.8,295.4 505.3,290.8 504.0,288.2 504.7,285.2 503.4,277.8 499.2,272.5 495.9,270.5 492.8,263.5 494.8,257.0 496.5,256.2 497.9,257.0 499.3,265.5 504.2,267.7 506.2,272.9 508.8,274.4 515.0,274.6 527.8,281.3 529.1,282.8 531.1,288.0 533.5,288.5 538.5,283.6 543.5,281.2 544.5,278.5 546.0,277.2 550.0,279.2 553.0,283.5 556.2,284.2 553.6,268.2 554.1,264.8 557.2,258.8 557.6,252.5 561.7,248.2 563.5,242.6 573.0,241.2 576.8,238.3 587.5,240.2 592.8,240.1 598.0,242.3 602.5,245.5 617.8,247.9 621.2,251.9 634.5,254.1 637.2,255.9 646.0,255.8 649.6,263.2 648.3,267.5 649.1,270.8 654.0,280.2 653.3,282.0 648.6,285.8 648.3,288.8 649.8,292.4 657.5,292.4 659.4,293.5 660.5,297.0 660.5,302.0 663.0,306.0 664.8,318.0 666.9,320.0 668.1,322.8 664.3,326.2 663.4,330.8 660.6,336.2 660.3,339.5 654.3,342.8 654.9,347.2 654.0,350.2 650.0,353.5 648.2,358.4 642.1,363.0 641.6,366.0 642.9,369.8 641.2,373.8 639.5,374.6 632.5,375.0 623.5,379.9 620.2,379.1 614.0,380.3Z"/>
<path fill-rule="evenodd" fill="#64b4e4" d="M614.2,379.5 607.5,376.8 601.2,379.2 589.2,375.3 587.0,374.1 584.8,370.2 580.8,366.2 580.5,362.7 586.9,356.0 587.0,350.6 589.6,348.5 590.0,346.8 586.6,341.2 584.0,332.7 578.5,329.3 575.0,324.8 572.0,324.8 570.2,326.0 566.0,334.2 566.4,339.5 564.0,345.5 560.2,349.4 555.4,348.5 554.6,345.5 542.1,333.5 537.5,322.7 533.8,321.5 533.0,324.2 537.1,340.2 538.8,342.3 545.1,346.0 541.0,349.3 536.0,347.2 533.5,344.5 531.0,343.4 529.8,335.2 524.5,328.5 523.9,324.5 521.9,320.5 518.3,319.5 516.0,313.8 516.8,308.9 521.8,304.7 523.3,302.0 523.5,298.5 526.1,293.2 525.5,289.8 522.5,286.5 519.5,285.0 517.2,287.2 514.8,294.0 506.1,290.0 505.2,288.2 505.5,285.0 503.8,277.2 499.8,272.3 496.4,270.0 493.5,263.5 495.2,257.6 496.5,257.0 497.5,257.8 498.7,265.5 503.8,268.2 506.0,273.4 508.8,274.9 514.8,275.2 527.2,281.8 530.8,288.5 535.2,289.5 531.4,293.0 530.4,296.2 532.2,306.0 535.5,308.2 542.2,305.5 547.2,297.5 553.0,290.5 551.5,287.8 548.2,285.3 544.5,284.7 538.1,285.8 543.2,283.1 546.2,278.5 549.4,280.2 552.8,284.4 555.2,285.1 556.6,284.2 554.3,268.8 554.7,265.5 557.6,259.0 558.3,252.8 561.8,249.2 564.3,243.0 572.8,241.8 577.5,238.9 587.8,240.8 592.0,240.6 597.5,242.8 602.2,246.0 617.0,248.4 621.2,252.4 634.0,254.7 637.5,256.5 645.5,256.3 648.9,263.5 647.8,267.5 648.3,270.2 653.2,280.2 648.2,285.2 647.8,289.0 649.8,292.9 657.5,293.1 658.8,293.9 659.8,301.5 662.2,306.1 664.4,318.0 667.2,322.8 663.9,325.8 659.8,339.1 653.9,342.5 653.4,349.8 649.6,353.2 647.7,358.0 641.6,362.8 641.2,366.0 642.2,369.8 640.7,373.2 631.8,374.7 623.2,379.2 620.0,378.6 614.2,379.5Z"/>
<path fill-rule="evenodd" fill="#5aa0e6" d="M614.5,378.8 607.5,376.1 601.2,378.3 596.8,376.4 593.9,374.0 585.0,360.8 587.8,355.8 587.6,351.0 590.4,348.5 590.3,345.8 587.2,341.0 584.5,332.3 582.8,330.5 579.0,328.8 576.1,324.8 573.5,323.9 570.0,325.2 565.2,334.2 565.4,339.8 562.5,342.9 549.2,331.8 546.3,327.5 544.1,321.0 538.5,317.2 538.7,314.2 540.1,311.0 548.8,306.5 557.0,295.3 557.6,291.0 555.7,286.8 557.6,283.8 555.5,265.9 558.4,259.0 559.0,253.0 562.3,249.8 565.0,243.4 573.0,242.4 577.8,239.5 587.8,241.4 592.2,241.3 602.2,246.6 616.5,248.9 621.0,253.0 633.5,255.2 637.5,257.1 644.8,256.7 647.8,262.1 647.7,270.2 652.4,280.2 647.7,285.0 647.1,289.0 649.2,293.4 658.2,294.5 659.3,302.0 661.6,306.5 663.7,318.2 666.2,322.5 663.3,325.5 659.2,338.8 653.3,342.2 652.9,349.2 649.1,352.8 647.2,357.5 641.0,362.5 640.5,366.0 641.4,369.8 640.0,372.8 631.8,374.0 623.0,378.4 620.0,377.9 614.5,378.8ZM528.5,292.8 527.2,292.5 525.2,288.2 520.5,284.5 518.5,284.6 514.8,288.6 506.0,282.2 504.0,276.2 500.2,271.8 497.0,269.6 494.4,263.8 495.8,258.2 497.4,259.2 498.2,266.1 503.2,268.7 505.5,273.9 508.5,275.6 514.5,275.9 527.5,282.9 530.9,290.2 528.5,292.8Z"/>
<path fill-rule="evenodd" fill="#7283e0" d="M615.2,377.5 603.2,374.7 589.8,356.2 588.5,351.5 591.0,349.0 591.2,346.2 588.0,341.0 587.2,336.8 583.6,330.2 579.5,328.3 575.8,323.7 571.8,323.6 569.5,324.8 563.0,334.7 554.0,327.1 550.5,319.5 545.6,315.5 547.4,311.5 558.0,302.9 560.6,294.0 561.2,283.5 559.6,263.5 560.9,253.5 563.9,248.8 565.2,244.5 573.2,243.1 577.5,240.3 592.2,242.0 602.0,247.2 615.4,249.2 620.8,253.6 633.0,255.8 637.2,257.8 644.2,257.7 647.1,263.5 646.3,267.5 647.1,271.0 650.9,280.0 646.9,284.8 646.4,289.2 648.8,294.0 656.4,295.8 660.5,306.8 663.3,321.8 661.5,329.1 658.0,338.2 652.7,341.8 652.1,348.8 648.3,352.5 646.4,357.0 640.4,362.0 639.6,369.8 637.1,371.8 631.2,373.1 623.2,376.6 615.2,377.5ZM502.8,271.9 498.2,268.5 502.0,269.5 502.8,271.9ZM527.8,288.7 520.2,282.8 515.0,285.0 507.0,279.0 505.9,276.0 508.5,277.0 513.8,277.1 525.9,283.5 527.8,288.7Z"/>
<path fill-rule="evenodd" fill="#7b64cd" d="M616.5,371.8 610.5,371.3 605.8,367.8 597.2,354.5 592.8,349.8 591.9,345.2 588.8,340.5 586.2,332.2 584.0,329.5 580.2,327.8 577.5,324.0 574.5,322.4 569.8,323.4 566.8,327.3 565.2,327.9 558.8,322.6 553.0,315.8 555.2,310.2 566.6,295.8 567.9,284.0 566.3,262.5 568.6,248.0 570.2,245.5 577.8,241.8 592.2,243.0 601.5,247.9 614.4,249.8 620.2,254.3 632.4,256.5 639.2,259.3 644.5,271.2 645.1,289.2 646.8,293.8 649.6,297.0 654.6,306.5 656.7,322.5 656.3,328.2 646.5,349.3 635.5,364.6 631.2,367.6 616.5,371.8Z"/>
<path fill-rule="evenodd" fill="#8845b0" d="M614.8,365.3 611.2,363.8 602.2,350.0 590.5,338.1 584.8,328.6 581.0,326.9 578.8,323.6 576.0,321.6 568.5,322.1 561.8,319.7 559.8,317.5 560.1,315.2 563.2,309.5 573.0,298.8 574.7,284.0 573.0,262.8 574.8,250.5 577.0,248.2 595.2,246.5 604.8,250.1 614.5,251.2 619.8,255.4 625.4,256.2 632.2,259.0 638.0,273.0 639.2,291.8 648.1,308.2 649.9,326.5 640.8,345.9 630.6,360.0 628.2,361.5 614.8,365.3Z"/>
<path fill-rule="evenodd" fill="#7b2b8a" d="M617.2,319.0 613.8,318.5 603.8,313.5 596.1,305.5 594.7,293.5 596.8,282.8 596.5,266.5 598.0,262.5 604.0,264.0 609.4,270.0 609.2,276.8 607.5,284.0 608.2,286.5 614.0,293.1 629.2,305.8 632.1,311.2 631.8,314.0 627.2,317.7 617.2,319.0Z"/>
<path d="M492.5,262.9 492.2,261.7 493.0,261.2 493.3,260.5 493.2,259.6 493.8,259.0 493.7,258.1 493.9,257.4 494.8,256.9 494.9,255.9 496.0,256.1 496.6,255.6 497.4,255.3 497.4,256.4 498.4,256.6 498.3,257.5 498.5,258.3 499.1,258.6 499.4,259.2 498.9,260.0 499.3,260.6 498.9,261.4 499.4,262.1 499.0,262.9 498.7,263.7 499.2,264.7 499.6,265.8 500.6,266.0 501.9,265.9 502.4,266.5 503.6,266.6 504.0,267.2 504.4,267.7 504.9,268.2 505.3,268.9 505.5,269.8 505.6,270.8 505.8,271.6 506.0,272.7 506.9,273.0 507.5,273.4 508.2,273.6 508.6,274.4 509.6,273.9 510.3,274.1 511.0,274.5 512.0,274.1 512.9,274.0 513.6,274.1 514.4,274.2 515.2,274.4 515.9,274.8 516.5,275.4 517.0,276.2 517.8,276.3 518.5,276.4 519.2,277.0 519.9,277.1 520.6,277.4 521.3,277.9 522.1,277.8 522.4,278.7 523.0,278.6 523.4,279.2 524.0,279.6 524.9,279.7 525.5,280.2 526.4,280.2 526.8,280.9 527.6,280.9 528.2,281.4 528.9,281.7 529.2,282.4 529.3,283.1 530.0,283.6 529.7,284.6 529.9,285.3 530.4,285.8 530.6,286.5 530.8,287.3 531.3,288.3 532.5,287.8 533.4,288.4 534.1,288.0 534.8,287.7 535.3,286.8 535.7,286.2 535.9,285.3 536.3,284.7 537.0,284.3 537.6,283.9 538.3,283.6 538.5,282.7 539.6,282.8 540.4,282.7 541.3,282.7 541.9,282.3 542.5,281.9 542.9,281.3 543.6,281.0 543.5,279.8 543.9,279.0 544.3,278.2 544.8,277.6 545.3,277.0 546.1,276.7 547.0,276.1 547.3,277.4 548.1,277.7 549.1,277.6 549.2,278.6 550.0,278.8 550.7,279.2 550.8,280.0 551.5,280.3 551.5,281.2 551.8,281.9 552.3,282.4 552.6,283.1 553.4,283.6 554.2,284.0 554.9,284.1 556.4,284.5 555.5,283.2 555.9,282.3 555.7,281.5 555.4,280.8 555.4,280.0 555.3,279.3 554.9,278.6 554.4,277.9 554.2,277.3 554.1,276.6 554.6,275.8 554.7,275.1 554.1,274.4 554.8,273.6 554.6,272.9 554.3,272.2 553.9,271.5 554.2,270.7 553.6,270.0 553.3,269.3 553.0,268.6 553.6,267.9 553.1,267.2 554.0,266.5 553.4,265.7 553.7,265.0 553.9,264.3 554.7,263.7 554.4,263.0 555.1,262.7 555.6,262.1 555.8,261.5 556.1,260.8 556.2,260.0 556.3,259.2 557.2,258.9 556.9,257.9 556.7,257.0 556.8,256.2 556.7,255.4 557.1,254.8 556.6,253.7 557.3,253.3 557.3,252.4 557.6,251.7 558.1,251.2 559.0,250.9 559.6,250.3 560.5,250.0 561.0,249.4 561.0,248.7 561.6,248.1 561.9,247.5 562.3,246.9 562.0,245.9 561.9,244.9 562.4,244.3 562.7,243.5 562.7,242.5 563.5,242.3 564.3,242.0 565.3,241.9 566.0,241.6 566.8,241.8 567.5,241.5 568.4,242.0 569.0,241.4 569.9,241.9 570.6,241.6 571.3,241.2 572.1,241.3 572.8,241.2 573.5,240.6 574.1,239.9 574.8,239.8 575.3,238.9 576.0,238.4 576.7,238.1 577.4,237.8 578.3,238.1 579.1,238.3 579.9,238.4 580.6,238.4 581.4,238.7 582.1,238.3 582.9,238.9 583.6,238.4 584.4,239.1 584.9,239.0 585.5,239.2 586.3,239.2 587.1,239.8 587.9,240.2 588.7,239.8 589.4,240.1 590.1,240.1 590.9,239.7 591.6,239.8 592.4,239.6 593.0,240.2 593.8,240.3 594.4,240.5 594.9,240.9 595.6,241.4 596.2,241.8 597.1,241.6 597.8,242.0 598.3,241.9 598.6,242.5 599.2,243.0 599.6,243.8 600.4,244.1 601.3,244.8 602.3,245.3 603.1,245.3 603.8,245.6 604.6,245.5 605.2,246.0 605.9,246.4 606.8,246.1 607.5,246.4 608.2,246.7 609.1,246.5 609.9,246.6 610.6,246.6 611.3,246.7 612.1,246.6 612.8,246.6 613.6,246.2 614.3,246.9 615.0,246.9 615.7,246.9 616.4,247.5 617.1,247.6 617.9,246.8 618.6,248.0 618.9,247.6 618.6,248.3 618.9,249.0 619.1,249.9 619.7,250.4 620.6,250.7 621.2,252.0 622.7,251.8 623.5,251.8 624.4,251.5 625.0,252.2 625.8,251.9 626.6,252.0 627.3,252.4 627.9,252.8 628.9,252.2 629.5,253.1 630.3,253.1 631.1,253.0 631.8,253.1 632.4,253.7 633.2,253.7 633.9,253.9 634.7,253.8 635.5,253.8 636.0,255.2 636.8,254.9 637.3,256.1 638.2,255.7 638.9,256.0 639.8,255.2 640.5,255.5 641.3,255.5 642.1,255.3 642.9,255.2 643.7,255.0 644.4,255.1 645.2,255.1 646.2,255.3 646.8,256.3 646.8,257.4 647.2,258.2 647.8,258.8 648.6,259.1 648.4,259.9 648.7,260.6 649.2,261.3 649.2,262.0 649.6,262.7 650.1,263.4 649.9,264.2 649.6,264.9 649.5,265.7 648.9,266.5 648.5,267.4 648.6,268.4 648.9,269.0 649.0,269.8 649.1,270.6 649.6,271.1 650.2,271.6 650.8,272.1 650.4,273.2 650.9,273.5 650.7,274.0 651.2,274.7 651.3,275.4 652.0,276.1 652.3,276.8 652.6,277.5 653.1,278.1 653.7,278.8 653.9,279.5 654.5,280.2 654.4,280.9 653.7,281.8 653.4,282.5 652.5,282.6 651.8,282.9 651.5,283.6 650.8,284.0 650.0,284.1 650.0,285.1 649.1,285.2 648.7,285.8 648.7,286.7 648.1,287.5 648.4,288.5 648.7,289.2 649.0,289.9 649.2,290.6 649.6,291.3 649.7,292.3 650.7,292.2 651.5,291.7 652.2,292.1 653.0,291.8 653.8,291.8 654.5,292.3 655.2,292.3 656.0,291.9 656.7,292.3 657.5,292.1 658.2,292.2 659.4,292.7 659.8,293.9 659.8,294.7 660.0,295.5 660.6,296.1 660.7,296.8 660.6,297.7 660.8,298.4 660.4,299.3 660.7,299.9 660.4,300.7 660.5,301.4 660.8,302.1 661.1,302.7 662.2,303.2 661.7,304.1 662.6,304.6 663.2,305.2 663.3,305.9 663.1,306.6 663.7,307.2 663.1,308.1 663.1,308.8 663.7,309.4 663.4,310.2 663.3,311.0 664.3,311.3 664.4,312.0 664.5,312.8 664.3,313.7 664.5,314.4 664.3,315.3 665.0,315.7 665.0,316.5 665.3,317.2 664.9,318.1 665.9,318.5 666.5,319.1 667.0,319.8 667.4,320.5 667.8,321.1 668.2,321.8 668.8,322.6 668.2,323.4 667.6,323.9 666.8,324.3 666.5,324.9 665.2,325.0 664.9,325.7 664.4,326.2 664.5,327.2 664.5,328.0 664.3,328.9 664.1,329.6 663.4,330.1 663.9,331.3 663.2,331.7 662.6,332.2 662.3,332.8 662.0,333.5 661.9,334.3 661.7,335.0 661.3,335.7 660.7,336.3 661.1,337.3 661.1,338.2 660.9,339.1 660.2,339.8 659.8,340.5 659.3,341.0 658.3,341.1 657.9,341.7 656.4,341.4 655.8,341.8 655.1,342.3 654.3,342.8 654.4,343.6 654.8,344.7 655.0,345.5 654.9,346.3 655.3,347.3 655.0,348.0 654.7,348.7 654.7,349.6 654.2,350.3 653.9,351.0 652.9,351.3 652.8,352.1 651.8,352.3 651.4,352.9 650.3,353.2 650.0,354.0 649.7,354.8 649.6,355.8 649.1,356.4 649.3,357.7 648.8,358.3 648.1,358.7 648.1,359.1 647.5,359.1 647.0,359.7 646.5,360.2 645.4,360.5 644.4,360.8 643.8,361.3 643.4,361.9 642.9,362.4 642.1,363.0 642.0,363.8 642.2,364.6 642.7,365.4 641.6,366.0 642.6,366.9 642.5,367.6 642.9,368.4 643.1,369.1 643.0,369.9 642.9,371.0 642.2,372.0 641.8,372.7 641.8,374.0 641.1,374.3 640.3,374.6 639.3,375.0 638.0,374.7 637.3,374.9 636.5,375.0 635.7,375.0 634.7,374.4 634.2,375.3 633.3,375.1 632.4,375.2 631.7,375.6 631.0,375.8 630.4,376.3 629.6,376.4 628.9,376.6 628.4,377.1 628.0,377.9 627.1,377.6 626.6,378.3 626.0,378.7 625.7,379.7 624.7,379.2 624.4,380.3 623.7,380.1 623.2,380.1 622.4,380.0 621.5,380.6 621.0,379.5 620.3,379.1 619.4,379.9 618.7,379.4 617.9,379.6 617.2,379.8 616.4,379.9 615.8,380.0 615.0,380.2 614.3,380.4 613.6,380.6 612.9,380.3 612.1,380.0 611.4,379.6 610.7,379.4 609.9,378.6 609.3,378.1 608.6,377.6 607.9,377.7 607.2,377.4 606.4,377.9 605.7,378.0 604.8,378.6 604.0,379.4 603.2,379.7 602.4,380.5 601.7,380.2 601.0,380.5 600.3,379.6 599.6,379.6 598.9,379.5 598.1,379.2 597.5,378.6 596.7,378.7 596.0,378.6 595.3,378.2 594.6,377.5 593.7,377.3 592.8,377.0 592.1,377.5 591.4,377.5 590.9,376.9 590.2,376.6 589.1,376.9 588.3,376.8 588.0,375.8 586.8,375.9 585.8,375.4 585.6,374.6 585.2,373.9 584.8,373.3 584.3,372.8 584.4,371.8 584.0,371.2 583.3,370.9 583.0,370.1 582.2,369.7 582.0,368.7 581.2,368.7 580.8,368.5 580.2,367.7 579.6,367.0 579.0,366.5 578.6,365.2 578.9,365.5 579.3,366.1 579.1,365.2 579.0,364.5 578.6,363.6 578.8,362.8 579.2,362.2 579.8,361.5 579.8,360.8 580.9,360.4 581.8,359.9 582.5,359.3 583.2,358.7 583.5,358.0 582.8,358.8 581.9,359.7 582.6,359.3 583.2,358.8 583.9,358.2 584.3,356.8 585.1,356.7 585.7,356.3 586.5,355.2 586.6,354.1 586.1,353.2 586.3,352.5 585.9,351.5 586.0,350.8 586.1,350.1 586.4,349.4 586.9,348.9 587.9,348.5 589.1,348.3 589.5,347.5 589.3,346.7 588.7,346.1 588.8,345.4 588.3,344.8 588.1,344.1 587.3,343.6 586.7,343.0 586.5,342.4 585.7,341.8 585.4,341.2 585.7,340.4 585.4,339.8 585.3,339.1 585.6,338.3 585.4,337.6 585.0,337.0 584.6,336.3 584.1,335.7 584.3,335.6 584.3,335.4 584.0,334.6 583.7,333.6 583.3,332.9 582.7,332.5 582.4,331.6 581.7,331.3 580.7,331.5 580.1,331.2 579.6,330.6 578.7,330.6 578.3,330.0 577.4,330.0 577.3,328.8 576.8,328.1 576.3,327.6 576.2,326.3 575.4,326.2 574.5,325.1 573.1,325.4 571.2,325.7 570.4,327.4 570.2,328.2 569.8,328.8 569.1,329.4 569.1,330.2 568.7,330.8 568.5,331.5 568.1,332.2 567.1,332.6 567.3,333.5 567.0,334.2 566.4,334.9 566.8,335.8 567.0,336.7 566.9,337.3 567.0,338.1 567.4,339.0 568.1,340.0 567.3,340.4 566.5,340.9 566.3,341.6 565.7,342.1 565.6,342.8 565.6,343.6 564.9,344.1 565.5,345.0 565.7,345.8 564.9,346.1 564.4,346.7 564.2,347.5 563.4,347.7 563.0,348.3 562.6,348.9 562.3,349.7 561.9,350.2 561.1,350.5 560.5,350.9 559.7,350.6 559.0,350.3 558.2,349.9 557.4,350.1 556.7,350.7 555.9,350.3 555.2,350.4 554.4,350.1 553.6,349.7 552.9,348.8 552.2,348.1 551.6,348.4 550.9,347.4 550.2,346.5 549.5,346.4 548.8,346.5 548.0,346.5 547.2,347.0 546.5,347.2 545.7,347.9 544.9,348.6 544.1,349.2 543.4,349.3 542.6,350.5 541.8,350.9 541.1,351.0 540.2,350.5 539.4,350.3 538.9,349.8 538.5,349.0 537.8,348.6 536.8,349.0 536.2,348.6 535.3,348.7 534.5,348.5 534.4,347.4 533.9,346.7 533.4,346.1 532.8,345.7 532.4,345.0 531.4,345.3 530.6,345.1 529.7,344.7 529.6,343.7 529.1,343.1 529.1,342.3 529.6,341.3 528.9,340.8 529.5,339.8 529.3,339.2 529.5,338.3 529.1,337.7 528.7,337.1 528.9,336.2 528.6,335.6 527.8,335.1 527.4,334.5 526.7,334.0 526.0,333.5 525.6,333.0 525.0,332.5 525.3,331.5 524.7,331.0 524.5,330.3 523.7,330.0 523.1,329.5 523.2,328.6 522.6,328.1 522.9,327.1 523.0,326.4 522.9,325.9 522.9,325.1 522.6,324.4 522.2,323.7 521.6,323.1 521.4,322.4 521.1,321.7 520.6,320.6 519.5,320.9 518.9,321.5 518.2,321.7 517.5,321.9 516.7,321.9 516.4,321.7 517.1,321.0 516.9,320.2 516.8,319.3 516.2,318.8 516.5,317.7 516.0,317.2 515.7,317.7 515.8,318.0 515.7,317.2 515.3,316.4 515.2,315.6 514.7,314.7 514.5,313.9 514.7,313.2 514.7,312.5 514.8,311.7 514.4,310.8 515.1,310.3 515.1,309.5 515.1,308.7 515.1,307.9 516.3,307.6 516.3,306.8 516.7,306.2 517.6,305.8 517.9,305.1 518.7,304.7 519.5,304.4 520.3,304.3 520.9,303.8 521.3,303.2 521.4,302.4 522.0,301.9 522.3,301.3 522.2,300.3 522.2,299.4 521.9,298.3 522.0,297.5 523.0,297.3 522.9,296.5 523.1,295.8 523.5,295.1 524.2,294.5 524.8,293.9 524.9,293.2 525.5,292.6 525.2,291.5 524.7,290.6 524.9,289.7 524.1,289.2 523.6,288.5 522.9,288.0 522.5,287.4 522.0,287.1 521.5,286.6 520.9,286.3 520.1,286.3 519.7,285.5 519.3,285.2 519.4,285.9 518.7,286.5 518.0,287.0 517.8,287.8 517.6,288.6 517.0,289.3 517.1,290.1 517.0,290.8 516.5,291.6 516.7,292.4 517.0,293.2 516.4,293.9 516.2,295.0 515.1,295.9 513.8,295.9 513.3,295.1 512.7,294.4 511.9,294.5 511.4,293.3 510.7,293.1 510.0,293.1 509.1,292.9 508.3,292.5 507.3,292.4 506.5,292.1 505.3,291.3 504.4,290.1 503.9,289.4 503.7,288.7 503.8,287.9 503.5,287.2 503.8,286.5 503.9,285.7 504.6,285.2 504.0,285.0 504.0,284.2 503.3,283.7 503.3,282.8 503.6,281.9 503.6,281.0 503.1,280.4 503.6,279.3 503.3,278.7 503.4,277.8 502.6,277.4 502.5,276.5 501.7,276.1 501.2,275.5 501.1,274.7 500.6,274.1 499.7,273.7 499.4,273.0 498.9,272.4 497.8,272.2 496.8,272.0 496.6,271.3 495.7,271.0 495.6,270.2 494.9,269.7 495.0,268.8 494.5,268.2 494.4,267.4 494.2,266.6 493.7,266.0 493.4,265.3 493.1,264.6 492.7,263.9Z" fill="none" stroke="#cdeaf0" stroke-width="4.2" stroke-linejoin="round"/>
<path d="M492.5,262.9 492.2,261.7 493.0,261.2 493.3,260.5 493.2,259.6 493.8,259.0 493.7,258.1 493.9,257.4 494.8,256.9 494.9,255.9 496.0,256.1 496.6,255.6 497.4,255.3 497.4,256.4 498.4,256.6 498.3,257.5 498.5,258.3 499.1,258.6 499.4,259.2 498.9,260.0 499.3,260.6 498.9,261.4 499.4,262.1 499.0,262.9 498.7,263.7 499.2,264.7 499.6,265.8 500.6,266.0 501.9,265.9 502.4,266.5 503.6,266.6 504.0,267.2 504.4,267.7 504.9,268.2 505.3,268.9 505.5,269.8 505.6,270.8 505.8,271.6 506.0,272.7 506.9,273.0 507.5,273.4 508.2,273.6 508.6,274.4 509.6,273.9 510.3,274.1 511.0,274.5 512.0,274.1 512.9,274.0 513.6,274.1 514.4,274.2 515.2,274.4 515.9,274.8 516.5,275.4 517.0,276.2 517.8,276.3 518.5,276.4 519.2,277.0 519.9,277.1 520.6,277.4 521.3,277.9 522.1,277.8 522.4,278.7 523.0,278.6 523.4,279.2 524.0,279.6 524.9,279.7 525.5,280.2 526.4,280.2 526.8,280.9 527.6,280.9 528.2,281.4 528.9,281.7 529.2,282.4 529.3,283.1 530.0,283.6 529.7,284.6 529.9,285.3 530.4,285.8 530.6,286.5 530.8,287.3 531.3,288.3 532.5,287.8 533.4,288.4 534.1,288.0 534.8,287.7 535.3,286.8 535.7,286.2 535.9,285.3 536.3,284.7 537.0,284.3 537.6,283.9 538.3,283.6 538.5,282.7 539.6,282.8 540.4,282.7 541.3,282.7 541.9,282.3 542.5,281.9 542.9,281.3 543.6,281.0 543.5,279.8 543.9,279.0 544.3,278.2 544.8,277.6 545.3,277.0 546.1,276.7 547.0,276.1 547.3,277.4 548.1,277.7 549.1,277.6 549.2,278.6 550.0,278.8 550.7,279.2 550.8,280.0 551.5,280.3 551.5,281.2 551.8,281.9 552.3,282.4 552.6,283.1 553.4,283.6 554.2,284.0 554.9,284.1 556.4,284.5 555.5,283.2 555.9,282.3 555.7,281.5 555.4,280.8 555.4,280.0 555.3,279.3 554.9,278.6 554.4,277.9 554.2,277.3 554.1,276.6 554.6,275.8 554.7,275.1 554.1,274.4 554.8,273.6 554.6,272.9 554.3,272.2 553.9,271.5 554.2,270.7 553.6,270.0 553.3,269.3 553.0,268.6 553.6,267.9 553.1,267.2 554.0,266.5 553.4,265.7 553.7,265.0 553.9,264.3 554.7,263.7 554.4,263.0 555.1,262.7 555.6,262.1 555.8,261.5 556.1,260.8 556.2,260.0 556.3,259.2 557.2,258.9 556.9,257.9 556.7,257.0 556.8,256.2 556.7,255.4 557.1,254.8 556.6,253.7 557.3,253.3 557.3,252.4 557.6,251.7 558.1,251.2 559.0,250.9 559.6,250.3 560.5,250.0 561.0,249.4 561.0,248.7 561.6,248.1 561.9,247.5 562.3,246.9 562.0,245.9 561.9,244.9 562.4,244.3 562.7,243.5 562.7,242.5 563.5,242.3 564.3,242.0 565.3,241.9 566.0,241.6 566.8,241.8 567.5,241.5 568.4,242.0 569.0,241.4 569.9,241.9 570.6,241.6 571.3,241.2 572.1,241.3 572.8,241.2 573.5,240.6 574.1,239.9 574.8,239.8 575.3,238.9 576.0,238.4 576.7,238.1 577.4,237.8 578.3,238.1 579.1,238.3 579.9,238.4 580.6,238.4 581.4,238.7 582.1,238.3 582.9,238.9 583.6,238.4 584.4,239.1 584.9,239.0 585.5,239.2 586.3,239.2 587.1,239.8 587.9,240.2 588.7,239.8 589.4,240.1 590.1,240.1 590.9,239.7 591.6,239.8 592.4,239.6 593.0,240.2 593.8,240.3 594.4,240.5 594.9,240.9 595.6,241.4 596.2,241.8 597.1,241.6 597.8,242.0 598.3,241.9 598.6,242.5 599.2,243.0 599.6,243.8 600.4,244.1 601.3,244.8 602.3,245.3 603.1,245.3 603.8,245.6 604.6,245.5 605.2,246.0 605.9,246.4 606.8,246.1 607.5,246.4 608.2,246.7 609.1,246.5 609.9,246.6 610.6,246.6 611.3,246.7 612.1,246.6 612.8,246.6 613.6,246.2 614.3,246.9 615.0,246.9 615.7,246.9 616.4,247.5 617.1,247.6 617.9,246.8 618.6,248.0 618.9,247.6 618.6,248.3 618.9,249.0 619.1,249.9 619.7,250.4 620.6,250.7 621.2,252.0 622.7,251.8 623.5,251.8 624.4,251.5 625.0,252.2 625.8,251.9 626.6,252.0 627.3,252.4 627.9,252.8 628.9,252.2 629.5,253.1 630.3,253.1 631.1,253.0 631.8,253.1 632.4,253.7 633.2,253.7 633.9,253.9 634.7,253.8 635.5,253.8 636.0,255.2 636.8,254.9 637.3,256.1 638.2,255.7 638.9,256.0 639.8,255.2 640.5,255.5 641.3,255.5 642.1,255.3 642.9,255.2 643.7,255.0 644.4,255.1 645.2,255.1 646.2,255.3 646.8,256.3 646.8,257.4 647.2,258.2 647.8,258.8 648.6,259.1 648.4,259.9 648.7,260.6 649.2,261.3 649.2,262.0 649.6,262.7 650.1,263.4 649.9,264.2 649.6,264.9 649.5,265.7 648.9,266.5 648.5,267.4 648.6,268.4 648.9,269.0 649.0,269.8 649.1,270.6 649.6,271.1 650.2,271.6 650.8,272.1 650.4,273.2 650.9,273.5 650.7,274.0 651.2,274.7 651.3,275.4 652.0,276.1 652.3,276.8 652.6,277.5 653.1,278.1 653.7,278.8 653.9,279.5 654.5,280.2 654.4,280.9 653.7,281.8 653.4,282.5 652.5,282.6 651.8,282.9 651.5,283.6 650.8,284.0 650.0,284.1 650.0,285.1 649.1,285.2 648.7,285.8 648.7,286.7 648.1,287.5 648.4,288.5 648.7,289.2 649.0,289.9 649.2,290.6 649.6,291.3 649.7,292.3 650.7,292.2 651.5,291.7 652.2,292.1 653.0,291.8 653.8,291.8 654.5,292.3 655.2,292.3 656.0,291.9 656.7,292.3 657.5,292.1 658.2,292.2 659.4,292.7 659.8,293.9 659.8,294.7 660.0,295.5 660.6,296.1 660.7,296.8 660.6,297.7 660.8,298.4 660.4,299.3 660.7,299.9 660.4,300.7 660.5,301.4 660.8,302.1 661.1,302.7 662.2,303.2 661.7,304.1 662.6,304.6 663.2,305.2 663.3,305.9 663.1,306.6 663.7,307.2 663.1,308.1 663.1,308.8 663.7,309.4 663.4,310.2 663.3,311.0 664.3,311.3 664.4,312.0 664.5,312.8 664.3,313.7 664.5,314.4 664.3,315.3 665.0,315.7 665.0,316.5 665.3,317.2 664.9,318.1 665.9,318.5 666.5,319.1 667.0,319.8 667.4,320.5 667.8,321.1 668.2,321.8 668.8,322.6 668.2,323.4 667.6,323.9 666.8,324.3 666.5,324.9 665.2,325.0 664.9,325.7 664.4,326.2 664.5,327.2 664.5,328.0 664.3,328.9 664.1,329.6 663.4,330.1 663.9,331.3 663.2,331.7 662.6,332.2 662.3,332.8 662.0,333.5 661.9,334.3 661.7,335.0 661.3,335.7 660.7,336.3 661.1,337.3 661.1,338.2 660.9,339.1 660.2,339.8 659.8,340.5 659.3,341.0 658.3,341.1 657.9,341.7 656.4,341.4 655.8,341.8 655.1,342.3 654.3,342.8 654.4,343.6 654.8,344.7 655.0,345.5 654.9,346.3 655.3,347.3 655.0,348.0 654.7,348.7 654.7,349.6 654.2,350.3 653.9,351.0 652.9,351.3 652.8,352.1 651.8,352.3 651.4,352.9 650.3,353.2 650.0,354.0 649.7,354.8 649.6,355.8 649.1,356.4 649.3,357.7 648.8,358.3 648.1,358.7 648.1,359.1 647.5,359.1 647.0,359.7 646.5,360.2 645.4,360.5 644.4,360.8 643.8,361.3 643.4,361.9 642.9,362.4 642.1,363.0 642.0,363.8 642.2,364.6 642.7,365.4 641.6,366.0 642.6,366.9 642.5,367.6 642.9,368.4 643.1,369.1 643.0,369.9 642.9,371.0 642.2,372.0 641.8,372.7 641.8,374.0 641.1,374.3 640.3,374.6 639.3,375.0 638.0,374.7 637.3,374.9 636.5,375.0 635.7,375.0 634.7,374.4 634.2,375.3 633.3,375.1 632.4,375.2 631.7,375.6 631.0,375.8 630.4,376.3 629.6,376.4 628.9,376.6 628.4,377.1 628.0,377.9 627.1,377.6 626.6,378.3 626.0,378.7 625.7,379.7 624.7,379.2 624.4,380.3 623.7,380.1 623.2,380.1 622.4,380.0 621.5,380.6 621.0,379.5 620.3,379.1 619.4,379.9 618.7,379.4 617.9,379.6 617.2,379.8 616.4,379.9 615.8,380.0 615.0,380.2 614.3,380.4 613.6,380.6 612.9,380.3 612.1,380.0 611.4,379.6 610.7,379.4 609.9,378.6 609.3,378.1 608.6,377.6 607.9,377.7 607.2,377.4 606.4,377.9 605.7,378.0 604.8,378.6 604.0,379.4 603.2,379.7 602.4,380.5 601.7,380.2 601.0,380.5 600.3,379.6 599.6,379.6 598.9,379.5 598.1,379.2 597.5,378.6 596.7,378.7 596.0,378.6 595.3,378.2 594.6,377.5 593.7,377.3 592.8,377.0 592.1,377.5 591.4,377.5 590.9,376.9 590.2,376.6 589.1,376.9 588.3,376.8 588.0,375.8 586.8,375.9 585.8,375.4 585.6,374.6 585.2,373.9 584.8,373.3 584.3,372.8 584.4,371.8 584.0,371.2 583.3,370.9 583.0,370.1 582.2,369.7 582.0,368.7 581.2,368.7 580.8,368.5 580.2,367.7 579.6,367.0 579.0,366.5 578.6,365.2 578.9,365.5 579.3,366.1 579.1,365.2 579.0,364.5 578.6,363.6 578.8,362.8 579.2,362.2 579.8,361.5 579.8,360.8 580.9,360.4 581.8,359.9 582.5,359.3 583.2,358.7 583.5,358.0 582.8,358.8 581.9,359.7 582.6,359.3 583.2,358.8 583.9,358.2 584.3,356.8 585.1,356.7 585.7,356.3 586.5,355.2 586.6,354.1 586.1,353.2 586.3,352.5 585.9,351.5 586.0,350.8 586.1,350.1 586.4,349.4 586.9,348.9 587.9,348.5 589.1,348.3 589.5,347.5 589.3,346.7 588.7,346.1 588.8,345.4 588.3,344.8 588.1,344.1 587.3,343.6 586.7,343.0 586.5,342.4 585.7,341.8 585.4,341.2 585.7,340.4 585.4,339.8 585.3,339.1 585.6,338.3 585.4,337.6 585.0,337.0 584.6,336.3 584.1,335.7 584.3,335.6 584.3,335.4 584.0,334.6 583.7,333.6 583.3,332.9 582.7,332.5 582.4,331.6 581.7,331.3 580.7,331.5 580.1,331.2 579.6,330.6 578.7,330.6 578.3,330.0 577.4,330.0 577.3,328.8 576.8,328.1 576.3,327.6 576.2,326.3 575.4,326.2 574.5,325.1 573.1,325.4 571.2,325.7 570.4,327.4 570.2,328.2 569.8,328.8 569.1,329.4 569.1,330.2 568.7,330.8 568.5,331.5 568.1,332.2 567.1,332.6 567.3,333.5 567.0,334.2 566.4,334.9 566.8,335.8 567.0,336.7 566.9,337.3 567.0,338.1 567.4,339.0 568.1,340.0 567.3,340.4 566.5,340.9 566.3,341.6 565.7,342.1 565.6,342.8 565.6,343.6 564.9,344.1 565.5,345.0 565.7,345.8 564.9,346.1 564.4,346.7 564.2,347.5 563.4,347.7 563.0,348.3 562.6,348.9 562.3,349.7 561.9,350.2 561.1,350.5 560.5,350.9 559.7,350.6 559.0,350.3 558.2,349.9 557.4,350.1 556.7,350.7 555.9,350.3 555.2,350.4 554.4,350.1 553.6,349.7 552.9,348.8 552.2,348.1 551.6,348.4 550.9,347.4 550.2,346.5 549.5,346.4 548.8,346.5 548.0,346.5 547.2,347.0 546.5,347.2 545.7,347.9 544.9,348.6 544.1,349.2 543.4,349.3 542.6,350.5 541.8,350.9 541.1,351.0 540.2,350.5 539.4,350.3 538.9,349.8 538.5,349.0 537.8,348.6 536.8,349.0 536.2,348.6 535.3,348.7 534.5,348.5 534.4,347.4 533.9,346.7 533.4,346.1 532.8,345.7 532.4,345.0 531.4,345.3 530.6,345.1 529.7,344.7 529.6,343.7 529.1,343.1 529.1,342.3 529.6,341.3 528.9,340.8 529.5,339.8 529.3,339.2 529.5,338.3 529.1,337.7 528.7,337.1 528.9,336.2 528.6,335.6 527.8,335.1 527.4,334.5 526.7,334.0 526.0,333.5 525.6,333.0 525.0,332.5 525.3,331.5 524.7,331.0 524.5,330.3 523.7,330.0 523.1,329.5 523.2,328.6 522.6,328.1 522.9,327.1 523.0,326.4 522.9,325.9 522.9,325.1 522.6,324.4 522.2,323.7 521.6,323.1 521.4,322.4 521.1,321.7 520.6,320.6 519.5,320.9 518.9,321.5 518.2,321.7 517.5,321.9 516.7,321.9 516.4,321.7 517.1,321.0 516.9,320.2 516.8,319.3 516.2,318.8 516.5,317.7 516.0,317.2 515.7,317.7 515.8,318.0 515.7,317.2 515.3,316.4 515.2,315.6 514.7,314.7 514.5,313.9 514.7,313.2 514.7,312.5 514.8,311.7 514.4,310.8 515.1,310.3 515.1,309.5 515.1,308.7 515.1,307.9 516.3,307.6 516.3,306.8 516.7,306.2 517.6,305.8 517.9,305.1 518.7,304.7 519.5,304.4 520.3,304.3 520.9,303.8 521.3,303.2 521.4,302.4 522.0,301.9 522.3,301.3 522.2,300.3 522.2,299.4 521.9,298.3 522.0,297.5 523.0,297.3 522.9,296.5 523.1,295.8 523.5,295.1 524.2,294.5 524.8,293.9 524.9,293.2 525.5,292.6 525.2,291.5 524.7,290.6 524.9,289.7 524.1,289.2 523.6,288.5 522.9,288.0 522.5,287.4 522.0,287.1 521.5,286.6 520.9,286.3 520.1,286.3 519.7,285.5 519.3,285.2 519.4,285.9 518.7,286.5 518.0,287.0 517.8,287.8 517.6,288.6 517.0,289.3 517.1,290.1 517.0,290.8 516.5,291.6 516.7,292.4 517.0,293.2 516.4,293.9 516.2,295.0 515.1,295.9 513.8,295.9 513.3,295.1 512.7,294.4 511.9,294.5 511.4,293.3 510.7,293.1 510.0,293.1 509.1,292.9 508.3,292.5 507.3,292.4 506.5,292.1 505.3,291.3 504.4,290.1 503.9,289.4 503.7,288.7 503.8,287.9 503.5,287.2 503.8,286.5 503.9,285.7 504.6,285.2 504.0,285.0 504.0,284.2 503.3,283.7 503.3,282.8 503.6,281.9 503.6,281.0 503.1,280.4 503.6,279.3 503.3,278.7 503.4,277.8 502.6,277.4 502.5,276.5 501.7,276.1 501.2,275.5 501.1,274.7 500.6,274.1 499.7,273.7 499.4,273.0 498.9,272.4 497.8,272.2 496.8,272.0 496.6,271.3 495.7,271.0 495.6,270.2 494.9,269.7 495.0,268.8 494.5,268.2 494.4,267.4 494.2,266.6 493.7,266.0 493.4,265.3 493.1,264.6 492.7,263.9Z" fill="none" stroke="#000" stroke-width="1.8" stroke-linejoin="round"/>
<path d="M598.5,388.7 l2.2,0.8 M602.2,390.1 l2.5,1.4" stroke="#000" stroke-width="1.2" fill="none"/>
<circle cx="578.0" cy="310.5" r="99.2" fill="none" stroke="#000" stroke-width="2"/>
<text x="479.5" y="231.2" font-family="Liberation Sans" font-size="15">d</text>
<text x="685.5" y="220.9" font-family="Liberation Sans" font-size="16" text-anchor="end">(0.25)</text>
<path fill-rule="evenodd" fill="#d3e9ec" d="M621.5,589.9 620.2,588.4 613.5,589.9 607.2,586.7 602.5,589.7 601.0,589.7 594.5,586.7 588.5,586.2 585.5,584.2 584.0,580.5 578.8,575.7 578.5,572.5 579.8,570.0 583.2,568.0 586.5,564.5 586.0,559.2 587.2,557.7 589.0,557.5 589.3,556.0 585.3,550.5 585.5,547.2 583.5,542.5 582.0,540.7 577.5,539.4 576.0,535.7 574.5,534.4 571.2,535.0 568.2,541.5 567.2,542.0 566.5,544.2 568.2,549.2 565.7,551.5 565.0,553.2 565.7,555.0 561.8,559.7 554.8,559.7 550.0,555.7 548.0,555.7 542.5,559.9 540.8,560.2 538.0,557.9 534.8,557.9 532.5,554.4 530.0,554.2 529.0,552.5 529.5,550.7 528.8,550.0 529.3,547.2 528.5,544.7 525.8,542.7 524.5,539.7 523.0,538.7 522.8,534.2 520.8,530.2 516.3,531.0 517.0,530.2 516.5,527.0 514.5,524.0 515.0,517.2 518.2,514.0 521.3,512.5 522.3,510.5 521.8,506.7 522.8,506.5 523.0,504.7 525.3,502.0 524.8,499.0 519.5,494.7 517.2,498.2 517.0,502.7 515.2,505.2 514.0,505.2 511.0,502.4 505.0,500.5 503.5,498.0 503.5,495.7 504.5,494.5 503.3,493.0 503.3,487.0 499.0,481.7 497.0,481.4 495.5,480.0 492.5,473.2 492.0,471.0 494.8,465.2 497.2,464.5 498.5,466.0 499.5,468.2 499.5,474.7 501.8,475.0 504.5,476.7 506.2,482.0 508.8,483.5 515.2,483.5 517.2,485.5 526.2,489.2 529.2,491.2 531.2,497.2 533.5,497.5 538.8,491.7 541.5,491.7 543.5,490.2 544.0,487.5 547.0,485.2 547.5,486.7 549.0,486.7 550.7,488.5 553.0,492.5 556.0,493.5 555.3,488.5 554.0,486.5 554.5,482.0 553.0,476.5 554.3,472.2 555.5,471.5 557.0,468.0 556.5,463.0 557.3,461.2 561.5,457.5 563.0,451.5 573.0,450.2 577.0,447.0 583.5,447.5 587.5,449.2 592.2,448.7 596.2,451.0 598.2,451.0 601.0,453.7 605.8,455.5 613.8,455.5 616.5,456.7 618.0,456.0 619.2,459.2 621.2,461.0 624.5,460.7 635.5,463.0 637.2,465.0 646.0,464.2 650.2,472.7 648.5,476.7 649.2,480.0 651.0,481.5 650.7,483.2 654.7,489.5 653.2,491.9 651.8,492.2 648.7,495.0 648.5,498.0 649.8,501.5 651.5,500.7 656.0,501.0 659.7,502.2 660.7,505.2 660.7,511.2 662.2,512.5 661.7,513.2 663.2,514.5 663.7,516.5 663.5,520.2 664.5,520.5 665.0,527.2 667.0,528.7 668.7,532.2 664.5,535.5 664.0,540.5 660.7,545.5 661.0,548.5 659.5,550.2 656.2,550.7 654.5,552.0 655.5,556.5 654.2,560.0 650.2,562.7 649.5,567.0 642.2,572.2 642.7,574.7 641.7,575.2 642.7,576.2 643.2,579.5 642.0,583.2 639.2,584.4 634.8,583.7 634.0,584.7 628.8,585.9 625.8,588.9 624.8,588.4 624.2,589.7 621.5,589.9Z"/>
<path fill-rule="evenodd" fill="#8ed2e2" d="M614.0,589.5 607.2,586.5 601.5,589.2 594.5,586.5 588.8,585.5 586.2,584.2 584.2,580.5 579.8,576.0 579.4,571.7 586.7,564.5 586.4,559.5 589.2,557.5 589.4,556.0 586.0,550.7 585.7,547.2 583.7,542.5 582.0,540.5 578.0,539.0 574.5,534.3 571.1,535.0 567.1,542.0 566.3,544.2 567.2,549.2 564.8,553.2 564.8,555.2 561.2,559.4 555.0,559.2 549.0,555.3 540.8,559.6 538.0,557.7 535.2,557.3 532.5,554.2 530.2,553.6 528.7,544.7 523.5,538.2 523.0,534.2 521.0,530.2 517.4,530.0 514.9,523.2 515.7,517.5 521.0,513.0 522.5,510.5 522.4,507.2 525.5,502.0 524.9,499.0 519.5,494.6 517.8,496.5 516.2,503.1 514.8,504.6 505.3,500.0 504.0,497.5 504.7,494.5 503.4,487.0 499.2,481.7 495.9,479.7 492.8,472.7 494.8,466.2 496.5,465.4 497.9,466.2 499.3,474.7 504.2,476.9 506.2,482.1 508.8,483.6 515.0,483.8 527.8,490.5 529.1,492.0 531.1,497.2 533.5,497.7 538.5,492.8 543.5,490.4 544.5,487.7 546.0,486.4 550.0,488.5 553.0,492.7 556.2,493.5 553.6,477.5 554.1,474.0 557.2,468.0 557.6,461.7 561.7,457.5 563.5,451.8 573.0,450.4 576.8,447.5 587.5,449.4 592.8,449.3 598.0,451.5 602.5,454.7 617.8,457.1 621.2,461.1 634.5,463.3 637.2,465.1 646.0,465.0 649.6,472.5 648.3,476.7 649.1,480.0 654.0,489.5 653.3,491.2 648.6,495.0 648.3,498.0 649.8,501.6 657.5,501.6 659.4,502.7 660.5,506.2 660.5,511.2 663.0,515.2 664.8,527.2 666.9,529.2 668.1,532.0 664.3,535.5 663.4,540.0 660.6,545.5 660.3,548.7 654.3,552.0 654.9,556.5 654.0,559.4 650.0,562.7 648.2,567.6 642.1,572.2 641.6,575.2 642.9,579.0 641.2,583.0 639.5,583.8 632.5,584.2 623.5,589.1 620.2,588.3 614.0,589.5Z"/>
<path fill-rule="evenodd" fill="#64b4e4" d="M614.2,588.7 607.5,586.0 601.2,588.4 589.2,584.5 587.0,583.3 584.8,579.5 580.8,575.5 580.5,571.9 586.9,565.2 587.0,559.8 589.6,557.7 590.0,556.0 586.6,550.5 584.0,541.9 578.5,538.5 575.0,534.0 572.0,534.0 570.2,535.2 566.0,543.5 566.4,548.7 564.0,554.7 560.2,558.6 555.4,557.7 554.6,554.7 542.1,542.7 537.5,531.9 533.8,530.7 533.0,533.5 537.1,549.5 538.8,551.5 545.1,555.2 541.0,558.5 536.0,556.4 533.5,553.7 531.0,552.6 529.8,544.5 524.5,537.7 523.9,533.7 521.9,529.7 518.3,528.7 516.0,523.0 516.8,518.1 521.8,513.9 523.3,511.2 523.5,507.7 526.1,502.5 525.5,499.0 522.5,495.7 519.5,494.2 517.2,496.5 514.8,503.2 506.1,499.2 505.2,497.5 505.5,494.2 503.8,486.5 499.8,481.5 496.4,479.2 493.5,472.7 495.2,466.8 496.5,466.2 497.5,467.0 498.7,474.7 503.8,477.4 506.0,482.6 508.8,484.1 514.8,484.4 527.2,491.0 530.8,497.7 535.2,498.7 531.4,502.2 530.4,505.5 532.2,515.2 535.5,517.4 542.2,514.7 547.2,506.7 553.0,499.7 551.5,497.0 548.2,494.5 544.5,493.9 538.1,495.0 543.2,492.3 546.2,487.7 549.4,489.5 552.8,493.6 555.2,494.3 556.6,493.5 554.3,478.0 554.7,474.7 557.6,468.2 558.3,462.0 561.8,458.5 564.3,452.2 572.8,451.0 577.5,448.1 587.8,450.0 592.0,449.8 597.5,452.0 602.2,455.2 617.0,457.6 621.2,461.6 634.0,463.9 637.5,465.7 645.5,465.5 648.9,472.7 647.8,476.7 648.3,479.5 653.2,489.5 648.2,494.4 647.8,498.2 649.8,502.1 657.5,502.3 658.8,503.1 659.8,510.7 662.2,515.3 664.4,527.2 667.2,532.0 663.9,535.0 659.8,548.3 653.9,551.7 653.4,559.0 649.6,562.5 647.7,567.2 641.6,572.0 641.2,575.2 642.2,579.0 640.7,582.5 631.8,583.9 623.2,588.4 620.0,587.8 614.2,588.7Z"/>
<path fill-rule="evenodd" fill="#5aa0e6" d="M614.5,588.0 607.5,585.3 601.2,587.5 596.8,585.6 593.9,583.2 585.0,570.0 587.8,565.0 587.6,560.2 590.4,557.7 590.3,555.0 587.2,550.2 584.5,541.5 582.8,539.7 579.0,538.0 576.1,534.0 573.5,533.1 570.0,534.5 565.2,543.5 565.4,549.0 562.5,552.1 549.2,541.0 546.3,536.7 544.1,530.2 538.5,526.5 538.7,523.5 540.1,520.2 548.8,515.7 557.0,504.5 557.6,500.2 555.7,496.0 557.6,493.0 555.5,475.1 558.4,468.2 559.0,462.2 562.3,459.0 565.0,452.6 573.0,451.6 577.8,448.7 587.8,450.6 592.2,450.5 602.2,455.8 616.5,458.1 621.0,462.2 633.5,464.4 637.5,466.3 644.8,465.9 647.8,471.3 647.7,479.5 652.4,489.5 647.7,494.2 647.1,498.2 649.2,502.6 658.2,503.7 659.3,511.2 661.6,515.7 663.7,527.5 666.2,531.7 663.3,534.7 659.2,548.0 653.3,551.5 652.9,558.5 649.1,562.0 647.2,566.7 641.0,571.7 640.5,575.2 641.4,579.0 640.0,582.0 631.8,583.2 623.0,587.6 620.0,587.1 614.5,588.0ZM528.5,502.0 527.2,501.7 525.2,497.4 520.5,493.7 518.5,493.8 514.8,497.8 506.0,491.4 504.0,485.5 500.2,481.0 497.0,478.8 494.4,473.0 495.8,467.4 497.4,468.5 498.2,475.3 503.2,477.9 505.5,483.1 508.5,484.8 514.5,485.1 527.5,492.1 530.9,499.5 528.5,502.0Z"/>
<path fill-rule="evenodd" fill="#7283e0" d="M615.2,586.7 603.2,583.9 589.8,565.4 588.5,560.7 591.0,558.2 591.2,555.5 588.0,550.2 587.2,546.0 583.6,539.5 579.5,537.5 575.8,532.9 571.8,532.8 569.5,534.0 563.0,543.9 554.0,536.3 550.5,528.7 545.6,524.7 547.4,520.7 558.0,512.1 560.6,503.2 561.2,492.7 559.6,472.7 560.9,462.7 563.9,458.0 565.2,453.7 573.2,452.3 577.5,449.5 592.2,451.2 602.0,456.4 615.4,458.5 620.8,462.8 633.0,465.0 637.2,467.0 644.2,466.9 647.1,472.7 646.3,476.7 647.1,480.2 650.9,489.2 646.9,494.0 646.4,498.5 648.8,503.2 656.4,505.0 660.5,516.0 663.3,531.0 661.5,538.3 658.0,547.5 652.7,551.0 652.1,558.0 648.3,561.7 646.4,566.2 640.4,571.2 639.6,579.0 637.1,581.0 631.2,582.3 623.2,585.8 615.2,586.7ZM502.8,481.1 498.2,477.7 502.0,478.7 502.8,481.1ZM527.8,497.9 520.2,492.0 515.0,494.2 507.0,488.2 505.9,485.2 508.5,486.2 513.8,486.3 525.9,492.7 527.8,497.9Z"/>
<path fill-rule="evenodd" fill="#7b64cd" d="M616.5,581.0 610.5,580.5 605.8,577.0 597.2,563.7 592.8,559.0 591.9,554.5 588.8,549.7 586.2,541.5 584.0,538.7 580.2,537.0 577.5,533.2 574.5,531.6 569.8,532.6 566.8,536.5 565.2,537.1 558.8,531.8 553.0,525.0 555.2,519.5 566.6,505.0 567.9,493.2 566.3,471.7 568.6,457.2 570.2,454.7 577.8,451.0 592.2,452.2 601.5,457.1 614.4,459.0 620.2,463.5 632.4,465.7 639.2,468.5 644.5,480.5 645.1,498.5 646.8,503.0 649.6,506.2 654.6,515.7 656.7,531.7 656.3,537.5 646.5,558.5 635.5,573.8 631.2,576.8 616.5,581.0Z"/>
<path fill-rule="evenodd" fill="#8845b0" d="M614.8,574.5 611.2,573.0 602.2,559.2 590.5,547.3 584.8,537.8 581.0,536.1 578.8,532.8 576.0,530.8 568.5,531.3 561.8,528.9 559.8,526.7 560.1,524.5 563.2,518.7 573.0,508.0 574.7,493.2 573.0,472.0 574.8,459.7 577.0,457.4 595.2,455.7 604.8,459.3 614.5,460.4 619.8,464.6 625.4,465.5 632.2,468.2 638.0,482.2 639.2,501.0 648.1,517.5 649.9,535.7 640.8,555.1 630.6,569.2 628.2,570.7 614.8,574.5Z"/>
<path fill-rule="evenodd" fill="#7b2b8a" d="M617.2,528.2 613.8,527.7 603.8,522.7 596.1,514.7 594.7,502.7 596.8,492.0 596.5,475.7 598.0,471.7 604.0,473.2 609.4,479.2 609.2,486.0 607.5,493.2 608.2,495.7 614.0,502.3 629.2,515.0 632.1,520.5 631.8,523.2 627.2,526.9 617.2,528.2Z"/>
<path d="M492.5,472.1 492.2,470.9 493.0,470.4 493.3,469.7 493.2,468.8 493.8,468.2 493.7,467.3 493.9,466.6 494.8,466.1 494.9,465.1 496.0,465.3 496.6,464.8 497.4,464.5 497.4,465.6 498.4,465.8 498.3,466.7 498.5,467.5 499.1,467.8 499.4,468.4 498.9,469.2 499.3,469.8 498.9,470.6 499.4,471.3 499.0,472.1 498.7,472.9 499.2,473.9 499.6,475.0 500.6,475.2 501.9,475.1 502.4,475.7 503.6,475.8 504.0,476.4 504.4,476.9 504.9,477.4 505.3,478.1 505.5,479.0 505.6,480.0 505.8,480.8 506.0,481.9 506.9,482.2 507.5,482.6 508.2,482.8 508.6,483.6 509.6,483.1 510.3,483.3 511.0,483.7 512.0,483.3 512.9,483.2 513.6,483.3 514.4,483.4 515.2,483.6 515.9,484.0 516.5,484.6 517.0,485.4 517.8,485.5 518.5,485.6 519.2,486.2 519.9,486.3 520.6,486.6 521.3,487.1 522.1,487.0 522.4,487.9 523.0,487.8 523.4,488.4 524.0,488.8 524.9,488.9 525.5,489.4 526.4,489.4 526.8,490.1 527.6,490.1 528.2,490.6 528.9,490.9 529.2,491.6 529.3,492.3 530.0,492.8 529.7,493.8 529.9,494.5 530.4,495.0 530.6,495.7 530.8,496.5 531.3,497.5 532.5,497.0 533.4,497.6 534.1,497.2 534.8,496.9 535.3,496.0 535.7,495.4 535.9,494.5 536.3,493.9 537.0,493.5 537.6,493.1 538.3,492.8 538.5,491.9 539.6,492.0 540.4,491.9 541.3,491.9 541.9,491.5 542.5,491.1 542.9,490.5 543.6,490.2 543.5,489.0 543.9,488.2 544.3,487.4 544.8,486.8 545.3,486.2 546.1,485.9 547.0,485.3 547.3,486.6 548.1,486.9 549.1,486.8 549.2,487.8 550.0,488.0 550.7,488.4 550.8,489.2 551.5,489.5 551.5,490.4 551.8,491.1 552.3,491.6 552.6,492.3 553.4,492.8 554.2,493.2 554.9,493.3 556.4,493.7 555.5,492.4 555.9,491.5 555.7,490.7 555.4,490.0 555.4,489.2 555.3,488.5 554.9,487.8 554.4,487.1 554.2,486.5 554.1,485.8 554.6,485.0 554.7,484.3 554.1,483.6 554.8,482.8 554.6,482.1 554.3,481.4 553.9,480.7 554.2,479.9 553.6,479.2 553.3,478.5 553.0,477.8 553.6,477.1 553.1,476.4 554.0,475.7 553.4,474.9 553.7,474.2 553.9,473.5 554.7,472.9 554.4,472.2 555.1,471.9 555.6,471.3 555.8,470.7 556.1,470.0 556.2,469.2 556.3,468.4 557.2,468.1 556.9,467.1 556.7,466.2 556.8,465.4 556.7,464.6 557.1,464.0 556.6,462.9 557.3,462.5 557.3,461.6 557.6,460.9 558.1,460.4 559.0,460.1 559.6,459.5 560.5,459.2 561.0,458.6 561.0,457.9 561.6,457.3 561.9,456.7 562.3,456.1 562.0,455.1 561.9,454.1 562.4,453.5 562.7,452.7 562.7,451.7 563.5,451.5 564.3,451.2 565.3,451.1 566.0,450.8 566.8,451.0 567.5,450.7 568.4,451.2 569.0,450.6 569.9,451.1 570.6,450.8 571.3,450.4 572.1,450.5 572.8,450.4 573.5,449.8 574.1,449.1 574.8,449.0 575.3,448.1 576.0,447.6 576.7,447.3 577.4,447.0 578.3,447.3 579.1,447.5 579.9,447.6 580.6,447.6 581.4,447.9 582.1,447.5 582.9,448.1 583.6,447.6 584.4,448.3 584.9,448.2 585.5,448.4 586.3,448.4 587.1,449.0 587.9,449.4 588.7,449.0 589.4,449.3 590.1,449.3 590.9,448.9 591.6,449.0 592.4,448.8 593.0,449.4 593.8,449.5 594.4,449.7 594.9,450.1 595.6,450.6 596.2,451.0 597.1,450.8 597.8,451.2 598.3,451.1 598.6,451.7 599.2,452.2 599.6,453.0 600.4,453.3 601.3,454.0 602.3,454.5 603.1,454.5 603.8,454.8 604.6,454.7 605.2,455.2 605.9,455.6 606.8,455.3 607.5,455.6 608.2,455.9 609.1,455.7 609.9,455.8 610.6,455.8 611.3,455.9 612.1,455.8 612.8,455.8 613.6,455.4 614.3,456.1 615.0,456.1 615.7,456.1 616.4,456.7 617.1,456.8 617.9,456.0 618.6,457.2 618.9,456.8 618.6,457.5 618.9,458.2 619.1,459.1 619.7,459.6 620.6,459.9 621.2,461.2 622.7,461.0 623.5,461.0 624.4,460.7 625.0,461.4 625.8,461.1 626.6,461.2 627.3,461.6 627.9,462.0 628.9,461.4 629.5,462.3 630.3,462.3 631.1,462.2 631.8,462.3 632.4,462.9 633.2,462.9 633.9,463.1 634.7,463.0 635.5,463.0 636.0,464.4 636.8,464.1 637.3,465.3 638.2,464.9 638.9,465.2 639.8,464.4 640.5,464.7 641.3,464.7 642.1,464.5 642.9,464.4 643.7,464.2 644.4,464.3 645.2,464.3 646.2,464.5 646.8,465.5 646.8,466.6 647.2,467.4 647.8,468.0 648.6,468.3 648.4,469.1 648.7,469.8 649.2,470.5 649.2,471.2 649.6,471.9 650.1,472.6 649.9,473.4 649.6,474.1 649.5,474.9 648.9,475.7 648.5,476.6 648.6,477.6 648.9,478.2 649.0,479.0 649.1,479.8 649.6,480.3 650.2,480.8 650.8,481.3 650.4,482.4 650.9,482.7 650.7,483.2 651.2,483.9 651.3,484.6 652.0,485.3 652.3,486.0 652.6,486.7 653.1,487.3 653.7,488.0 653.9,488.7 654.5,489.4 654.4,490.1 653.7,491.0 653.4,491.7 652.5,491.8 651.8,492.1 651.5,492.8 650.8,493.2 650.0,493.3 650.0,494.3 649.1,494.4 648.7,495.0 648.7,495.9 648.1,496.7 648.4,497.7 648.7,498.4 649.0,499.1 649.2,499.8 649.6,500.5 649.7,501.5 650.7,501.4 651.5,500.9 652.2,501.3 653.0,501.0 653.8,501.0 654.5,501.5 655.2,501.5 656.0,501.1 656.7,501.5 657.5,501.3 658.2,501.4 659.4,501.9 659.8,503.1 659.8,503.9 660.0,504.7 660.6,505.3 660.7,506.0 660.6,506.9 660.8,507.6 660.4,508.5 660.7,509.1 660.4,509.9 660.5,510.6 660.8,511.3 661.1,511.9 662.2,512.4 661.7,513.3 662.6,513.8 663.2,514.4 663.3,515.1 663.1,515.8 663.7,516.4 663.1,517.3 663.1,518.0 663.7,518.6 663.4,519.4 663.3,520.2 664.3,520.5 664.4,521.2 664.5,522.0 664.3,522.9 664.5,523.6 664.3,524.5 665.0,524.9 665.0,525.7 665.3,526.4 664.9,527.3 665.9,527.7 666.5,528.3 667.0,529.0 667.4,529.7 667.8,530.3 668.2,531.0 668.8,531.8 668.2,532.6 667.6,533.1 666.8,533.5 666.5,534.1 665.2,534.2 664.9,534.9 664.4,535.4 664.5,536.4 664.5,537.2 664.3,538.1 664.1,538.8 663.4,539.3 663.9,540.5 663.2,540.9 662.6,541.4 662.3,542.0 662.0,542.7 661.9,543.5 661.7,544.2 661.3,544.9 660.7,545.5 661.1,546.5 661.1,547.4 660.9,548.3 660.2,549.0 659.8,549.7 659.3,550.2 658.3,550.3 657.9,550.9 656.4,550.6 655.8,551.0 655.1,551.5 654.3,552.0 654.4,552.8 654.8,553.9 655.0,554.7 654.9,555.5 655.3,556.5 655.0,557.2 654.7,557.9 654.7,558.8 654.2,559.5 653.9,560.2 652.9,560.5 652.8,561.3 651.8,561.5 651.4,562.1 650.3,562.4 650.0,563.2 649.7,564.0 649.6,565.0 649.1,565.6 649.3,566.9 648.8,567.5 648.1,567.9 648.1,568.3 647.5,568.3 647.0,568.9 646.5,569.4 645.4,569.7 644.4,570.0 643.8,570.5 643.4,571.1 642.9,571.6 642.1,572.2 642.0,573.0 642.2,573.8 642.7,574.6 641.6,575.2 642.6,576.1 642.5,576.8 642.9,577.6 643.1,578.3 643.0,579.1 642.9,580.2 642.2,581.2 641.8,581.9 641.8,583.2 641.1,583.5 640.3,583.8 639.3,584.2 638.0,583.9 637.3,584.1 636.5,584.2 635.7,584.2 634.7,583.6 634.2,584.5 633.3,584.3 632.4,584.4 631.7,584.8 631.0,585.0 630.4,585.5 629.6,585.6 628.9,585.8 628.4,586.3 628.0,587.1 627.1,586.8 626.6,587.5 626.0,587.9 625.7,588.9 624.7,588.4 624.4,589.5 623.7,589.3 623.2,589.3 622.4,589.2 621.5,589.8 621.0,588.7 620.3,588.3 619.4,589.1 618.7,588.6 617.9,588.8 617.2,589.0 616.4,589.1 615.8,589.2 615.0,589.4 614.3,589.6 613.6,589.8 612.9,589.5 612.1,589.2 611.4,588.8 610.7,588.6 609.9,587.8 609.3,587.3 608.6,586.8 607.9,586.9 607.2,586.6 606.4,587.1 605.7,587.2 604.8,587.8 604.0,588.6 603.2,588.9 602.4,589.7 601.7,589.4 601.0,589.7 600.3,588.8 599.6,588.8 598.9,588.7 598.1,588.4 597.5,587.8 596.7,587.9 596.0,587.8 595.3,587.4 594.6,586.7 593.7,586.5 592.8,586.2 592.1,586.7 591.4,586.7 590.9,586.1 590.2,585.8 589.1,586.1 588.3,586.0 588.0,585.0 586.8,585.1 585.8,584.6 585.6,583.8 585.2,583.1 584.8,582.5 584.3,582.0 584.4,581.0 584.0,580.4 583.3,580.1 583.0,579.3 582.2,578.9 582.0,577.9 581.2,577.9 580.8,577.7 580.2,576.9 579.6,576.2 579.0,575.7 578.6,574.4 578.9,574.7 579.3,575.3 579.1,574.4 579.0,573.7 578.6,572.8 578.8,572.0 579.2,571.4 579.8,570.7 579.8,570.0 580.9,569.6 581.8,569.1 582.5,568.5 583.2,567.9 583.5,567.2 582.8,568.0 581.9,568.9 582.6,568.5 583.2,568.0 583.9,567.4 584.3,566.0 585.1,565.9 585.7,565.5 586.5,564.4 586.6,563.3 586.1,562.4 586.3,561.7 585.9,560.7 586.0,560.0 586.1,559.3 586.4,558.6 586.9,558.1 587.9,557.7 589.1,557.5 589.5,556.7 589.3,555.9 588.7,555.3 588.8,554.6 588.3,554.0 588.1,553.3 587.3,552.8 586.7,552.2 586.5,551.6 585.7,551.0 585.4,550.4 585.7,549.6 585.4,549.0 585.3,548.3 585.6,547.5 585.4,546.8 585.0,546.2 584.6,545.5 584.1,544.9 584.3,544.8 584.3,544.6 584.0,543.8 583.7,542.8 583.3,542.1 582.7,541.7 582.4,540.8 581.7,540.5 580.7,540.7 580.1,540.4 579.6,539.8 578.7,539.8 578.3,539.2 577.4,539.2 577.3,538.0 576.8,537.3 576.3,536.8 576.2,535.5 575.4,535.4 574.5,534.3 573.1,534.6 571.2,534.9 570.4,536.6 570.2,537.4 569.8,538.0 569.1,538.6 569.1,539.4 568.7,540.0 568.5,540.7 568.1,541.4 567.1,541.8 567.3,542.7 567.0,543.4 566.4,544.1 566.8,545.0 567.0,545.9 566.9,546.5 567.0,547.3 567.4,548.2 568.1,549.2 567.3,549.6 566.5,550.1 566.3,550.8 565.7,551.3 565.6,552.0 565.6,552.8 564.9,553.3 565.5,554.2 565.7,555.0 564.9,555.3 564.4,555.9 564.2,556.7 563.4,556.9 563.0,557.5 562.6,558.1 562.3,558.9 561.9,559.4 561.1,559.7 560.5,560.1 559.7,559.8 559.0,559.5 558.2,559.1 557.4,559.3 556.7,559.9 555.9,559.5 555.2,559.6 554.4,559.3 553.6,558.9 552.9,558.0 552.2,557.3 551.6,557.6 550.9,556.6 550.2,555.7 549.5,555.6 548.8,555.7 548.0,555.7 547.2,556.2 546.5,556.4 545.7,557.1 544.9,557.8 544.1,558.4 543.4,558.5 542.6,559.7 541.8,560.1 541.1,560.2 540.2,559.7 539.4,559.5 538.9,559.0 538.5,558.2 537.8,557.8 536.8,558.2 536.2,557.8 535.3,557.9 534.5,557.7 534.4,556.6 533.9,555.9 533.4,555.3 532.8,554.9 532.4,554.2 531.4,554.5 530.6,554.3 529.7,553.9 529.6,552.9 529.1,552.3 529.1,551.5 529.6,550.5 528.9,550.0 529.5,549.0 529.3,548.4 529.5,547.5 529.1,546.9 528.7,546.3 528.9,545.4 528.6,544.8 527.8,544.3 527.4,543.7 526.7,543.2 526.0,542.7 525.6,542.2 525.0,541.7 525.3,540.7 524.7,540.2 524.5,539.5 523.7,539.2 523.1,538.7 523.2,537.8 522.6,537.3 522.9,536.3 523.0,535.6 522.9,535.1 522.9,534.3 522.6,533.6 522.2,532.9 521.6,532.3 521.4,531.6 521.1,530.9 520.6,529.8 519.5,530.1 518.9,530.7 518.2,530.9 517.5,531.1 516.7,531.1 516.4,530.9 517.1,530.2 516.9,529.4 516.8,528.5 516.2,528.0 516.5,526.9 516.0,526.4 515.7,526.9 515.8,527.2 515.7,526.4 515.3,525.6 515.2,524.8 514.7,523.9 514.5,523.1 514.7,522.4 514.7,521.7 514.8,520.9 514.4,520.0 515.1,519.5 515.1,518.7 515.1,517.9 515.1,517.1 516.3,516.8 516.3,516.0 516.7,515.4 517.6,515.0 517.9,514.3 518.7,513.9 519.5,513.6 520.3,513.5 520.9,513.0 521.3,512.4 521.4,511.6 522.0,511.1 522.3,510.5 522.2,509.5 522.2,508.6 521.9,507.5 522.0,506.7 523.0,506.5 522.9,505.7 523.1,505.0 523.5,504.3 524.2,503.7 524.8,503.1 524.9,502.4 525.5,501.8 525.2,500.7 524.7,499.8 524.9,498.9 524.1,498.4 523.6,497.7 522.9,497.2 522.5,496.6 522.0,496.3 521.5,495.8 520.9,495.5 520.1,495.5 519.7,494.7 519.3,494.4 519.4,495.1 518.7,495.7 518.0,496.2 517.8,497.0 517.6,497.8 517.0,498.5 517.1,499.3 517.0,500.0 516.5,500.8 516.7,501.6 517.0,502.4 516.4,503.1 516.2,504.2 515.1,505.1 513.8,505.1 513.3,504.3 512.7,503.6 511.9,503.7 511.4,502.5 510.7,502.3 510.0,502.3 509.1,502.1 508.3,501.7 507.3,501.6 506.5,501.3 505.3,500.5 504.4,499.3 503.9,498.6 503.7,497.9 503.8,497.1 503.5,496.4 503.8,495.7 503.9,494.9 504.6,494.4 504.0,494.2 504.0,493.4 503.3,492.9 503.3,492.0 503.6,491.1 503.6,490.2 503.1,489.6 503.6,488.5 503.3,487.9 503.4,487.0 502.6,486.6 502.5,485.7 501.7,485.3 501.2,484.7 501.1,483.9 500.6,483.3 499.7,482.9 499.4,482.2 498.9,481.6 497.8,481.4 496.8,481.2 496.6,480.5 495.7,480.2 495.6,479.4 494.9,478.9 495.0,478.0 494.5,477.4 494.4,476.6 494.2,475.8 493.7,475.2 493.4,474.5 493.1,473.8 492.7,473.1Z" fill="none" stroke="#cdeaf0" stroke-width="4.2" stroke-linejoin="round"/>
<path d="M492.5,472.1 492.2,470.9 493.0,470.4 493.3,469.7 493.2,468.8 493.8,468.2 493.7,467.3 493.9,466.6 494.8,466.1 494.9,465.1 496.0,465.3 496.6,464.8 497.4,464.5 497.4,465.6 498.4,465.8 498.3,466.7 498.5,467.5 499.1,467.8 499.4,468.4 498.9,469.2 499.3,469.8 498.9,470.6 499.4,471.3 499.0,472.1 498.7,472.9 499.2,473.9 499.6,475.0 500.6,475.2 501.9,475.1 502.4,475.7 503.6,475.8 504.0,476.4 504.4,476.9 504.9,477.4 505.3,478.1 505.5,479.0 505.6,480.0 505.8,480.8 506.0,481.9 506.9,482.2 507.5,482.6 508.2,482.8 508.6,483.6 509.6,483.1 510.3,483.3 511.0,483.7 512.0,483.3 512.9,483.2 513.6,483.3 514.4,483.4 515.2,483.6 515.9,484.0 516.5,484.6 517.0,485.4 517.8,485.5 518.5,485.6 519.2,486.2 519.9,486.3 520.6,486.6 521.3,487.1 522.1,487.0 522.4,487.9 523.0,487.8 523.4,488.4 524.0,488.8 524.9,488.9 525.5,489.4 526.4,489.4 526.8,490.1 527.6,490.1 528.2,490.6 528.9,490.9 529.2,491.6 529.3,492.3 530.0,492.8 529.7,493.8 529.9,494.5 530.4,495.0 530.6,495.7 530.8,496.5 531.3,497.5 532.5,497.0 533.4,497.6 534.1,497.2 534.8,496.9 535.3,496.0 535.7,495.4 535.9,494.5 536.3,493.9 537.0,493.5 537.6,493.1 538.3,492.8 538.5,491.9 539.6,492.0 540.4,491.9 541.3,491.9 541.9,491.5 542.5,491.1 542.9,490.5 543.6,490.2 543.5,489.0 543.9,488.2 544.3,487.4 544.8,486.8 545.3,486.2 546.1,485.9 547.0,485.3 547.3,486.6 548.1,486.9 549.1,486.8 549.2,487.8 550.0,488.0 550.7,488.4 550.8,489.2 551.5,489.5 551.5,490.4 551.8,491.1 552.3,491.6 552.6,492.3 553.4,492.8 554.2,493.2 554.9,493.3 556.4,493.7 555.5,492.4 555.9,491.5 555.7,490.7 555.4,490.0 555.4,489.2 555.3,488.5 554.9,487.8 554.4,487.1 554.2,486.5 554.1,485.8 554.6,485.0 554.7,484.3 554.1,483.6 554.8,482.8 554.6,482.1 554.3,481.4 553.9,480.7 554.2,479.9 553.6,479.2 553.3,478.5 553.0,477.8 553.6,477.1 553.1,476.4 554.0,475.7 553.4,474.9 553.7,474.2 553.9,473.5 554.7,472.9 554.4,472.2 555.1,471.9 555.6,471.3 555.8,470.7 556.1,470.0 556.2,469.2 556.3,468.4 557.2,468.1 556.9,467.1 556.7,466.2 556.8,465.4 556.7,464.6 557.1,464.0 556.6,462.9 557.3,462.5 557.3,461.6 557.6,460.9 558.1,460.4 559.0,460.1 559.6,459.5 560.5,459.2 561.0,458.6 561.0,457.9 561.6,457.3 561.9,456.7 562.3,456.1 562.0,455.1 561.9,454.1 562.4,453.5 562.7,452.7 562.7,451.7 563.5,451.5 564.3,451.2 565.3,451.1 566.0,450.8 566.8,451.0 567.5,450.7 568.4,451.2 569.0,450.6 569.9,451.1 570.6,450.8 571.3,450.4 572.1,450.5 572.8,450.4 573.5,449.8 574.1,449.1 574.8,449.0 575.3,448.1 576.0,447.6 576.7,447.3 577.4,447.0 578.3,447.3 579.1,447.5 579.9,447.6 580.6,447.6 581.4,447.9 582.1,447.5 582.9,448.1 583.6,447.6 584.4,448.3 584.9,448.2 585.5,448.4 586.3,448.4 587.1,449.0 587.9,449.4 588.7,449.0 589.4,449.3 590.1,449.3 590.9,448.9 591.6,449.0 592.4,448.8 593.0,449.4 593.8,449.5 594.4,449.7 594.9,450.1 595.6,450.6 596.2,451.0 597.1,450.8 597.8,451.2 598.3,451.1 598.6,451.7 599.2,452.2 599.6,453.0 600.4,453.3 601.3,454.0 602.3,454.5 603.1,454.5 603.8,454.8 604.6,454.7 605.2,455.2 605.9,455.6 606.8,455.3 607.5,455.6 608.2,455.9 609.1,455.7 609.9,455.8 610.6,455.8 611.3,455.9 612.1,455.8 612.8,455.8 613.6,455.4 614.3,456.1 615.0,456.1 615.7,456.1 616.4,456.7 617.1,456.8 617.9,456.0 618.6,457.2 618.9,456.8 618.6,457.5 618.9,458.2 619.1,459.1 619.7,459.6 620.6,459.9 621.2,461.2 622.7,461.0 623.5,461.0 624.4,460.7 625.0,461.4 625.8,461.1 626.6,461.2 627.3,461.6 627.9,462.0 628.9,461.4 629.5,462.3 630.3,462.3 631.1,462.2 631.8,462.3 632.4,462.9 633.2,462.9 633.9,463.1 634.7,463.0 635.5,463.0 636.0,464.4 636.8,464.1 637.3,465.3 638.2,464.9 638.9,465.2 639.8,464.4 640.5,464.7 641.3,464.7 642.1,464.5 642.9,464.4 643.7,464.2 644.4,464.3 645.2,464.3 646.2,464.5 646.8,465.5 646.8,466.6 647.2,467.4 647.8,468.0 648.6,468.3 648.4,469.1 648.7,469.8 649.2,470.5 649.2,471.2 649.6,471.9 650.1,472.6 649.9,473.4 649.6,474.1 649.5,474.9 648.9,475.7 648.5,476.6 648.6,477.6 648.9,478.2 649.0,479.0 649.1,479.8 649.6,480.3 650.2,480.8 650.8,481.3 650.4,482.4 650.9,482.7 650.7,483.2 651.2,483.9 651.3,484.6 652.0,485.3 652.3,486.0 652.6,486.7 653.1,487.3 653.7,488.0 653.9,488.7 654.5,489.4 654.4,490.1 653.7,491.0 653.4,491.7 652.5,491.8 651.8,492.1 651.5,492.8 650.8,493.2 650.0,493.3 650.0,494.3 649.1,494.4 648.7,495.0 648.7,495.9 648.1,496.7 648.4,497.7 648.7,498.4 649.0,499.1 649.2,499.8 649.6,500.5 649.7,501.5 650.7,501.4 651.5,500.9 652.2,501.3 653.0,501.0 653.8,501.0 654.5,501.5 655.2,501.5 656.0,501.1 656.7,501.5 657.5,501.3 658.2,501.4 659.4,501.9 659.8,503.1 659.8,503.9 660.0,504.7 660.6,505.3 660.7,506.0 660.6,506.9 660.8,507.6 660.4,508.5 660.7,509.1 660.4,509.9 660.5,510.6 660.8,511.3 661.1,511.9 662.2,512.4 661.7,513.3 662.6,513.8 663.2,514.4 663.3,515.1 663.1,515.8 663.7,516.4 663.1,517.3 663.1,518.0 663.7,518.6 663.4,519.4 663.3,520.2 664.3,520.5 664.4,521.2 664.5,522.0 664.3,522.9 664.5,523.6 664.3,524.5 665.0,524.9 665.0,525.7 665.3,526.4 664.9,527.3 665.9,527.7 666.5,528.3 667.0,529.0 667.4,529.7 667.8,530.3 668.2,531.0 668.8,531.8 668.2,532.6 667.6,533.1 666.8,533.5 666.5,534.1 665.2,534.2 664.9,534.9 664.4,535.4 664.5,536.4 664.5,537.2 664.3,538.1 664.1,538.8 663.4,539.3 663.9,540.5 663.2,540.9 662.6,541.4 662.3,542.0 662.0,542.7 661.9,543.5 661.7,544.2 661.3,544.9 660.7,545.5 661.1,546.5 661.1,547.4 660.9,548.3 660.2,549.0 659.8,549.7 659.3,550.2 658.3,550.3 657.9,550.9 656.4,550.6 655.8,551.0 655.1,551.5 654.3,552.0 654.4,552.8 654.8,553.9 655.0,554.7 654.9,555.5 655.3,556.5 655.0,557.2 654.7,557.9 654.7,558.8 654.2,559.5 653.9,560.2 652.9,560.5 652.8,561.3 651.8,561.5 651.4,562.1 650.3,562.4 650.0,563.2 649.7,564.0 649.6,565.0 649.1,565.6 649.3,566.9 648.8,567.5 648.1,567.9 648.1,568.3 647.5,568.3 647.0,568.9 646.5,569.4 645.4,569.7 644.4,570.0 643.8,570.5 643.4,571.1 642.9,571.6 642.1,572.2 642.0,573.0 642.2,573.8 642.7,574.6 641.6,575.2 642.6,576.1 642.5,576.8 642.9,577.6 643.1,578.3 643.0,579.1 642.9,580.2 642.2,581.2 641.8,581.9 641.8,583.2 641.1,583.5 640.3,583.8 639.3,584.2 638.0,583.9 637.3,584.1 636.5,584.2 635.7,584.2 634.7,583.6 634.2,584.5 633.3,584.3 632.4,584.4 631.7,584.8 631.0,585.0 630.4,585.5 629.6,585.6 628.9,585.8 628.4,586.3 628.0,587.1 627.1,586.8 626.6,587.5 626.0,587.9 625.7,588.9 624.7,588.4 624.4,589.5 623.7,589.3 623.2,589.3 622.4,589.2 621.5,589.8 621.0,588.7 620.3,588.3 619.4,589.1 618.7,588.6 617.9,588.8 617.2,589.0 616.4,589.1 615.8,589.2 615.0,589.4 614.3,589.6 613.6,589.8 612.9,589.5 612.1,589.2 611.4,588.8 610.7,588.6 609.9,587.8 609.3,587.3 608.6,586.8 607.9,586.9 607.2,586.6 606.4,587.1 605.7,587.2 604.8,587.8 604.0,588.6 603.2,588.9 602.4,589.7 601.7,589.4 601.0,589.7 600.3,588.8 599.6,588.8 598.9,588.7 598.1,588.4 597.5,587.8 596.7,587.9 596.0,587.8 595.3,587.4 594.6,586.7 593.7,586.5 592.8,586.2 592.1,586.7 591.4,586.7 590.9,586.1 590.2,585.8 589.1,586.1 588.3,586.0 588.0,585.0 586.8,585.1 585.8,584.6 585.6,583.8 585.2,583.1 584.8,582.5 584.3,582.0 584.4,581.0 584.0,580.4 583.3,580.1 583.0,579.3 582.2,578.9 582.0,577.9 581.2,577.9 580.8,577.7 580.2,576.9 579.6,576.2 579.0,575.7 578.6,574.4 578.9,574.7 579.3,575.3 579.1,574.4 579.0,573.7 578.6,572.8 578.8,572.0 579.2,571.4 579.8,570.7 579.8,570.0 580.9,569.6 581.8,569.1 582.5,568.5 583.2,567.9 583.5,567.2 582.8,568.0 581.9,568.9 582.6,568.5 583.2,568.0 583.9,567.4 584.3,566.0 585.1,565.9 585.7,565.5 586.5,564.4 586.6,563.3 586.1,562.4 586.3,561.7 585.9,560.7 586.0,560.0 586.1,559.3 586.4,558.6 586.9,558.1 587.9,557.7 589.1,557.5 589.5,556.7 589.3,555.9 588.7,555.3 588.8,554.6 588.3,554.0 588.1,553.3 587.3,552.8 586.7,552.2 586.5,551.6 585.7,551.0 585.4,550.4 585.7,549.6 585.4,549.0 585.3,548.3 585.6,547.5 585.4,546.8 585.0,546.2 584.6,545.5 584.1,544.9 584.3,544.8 584.3,544.6 584.0,543.8 583.7,542.8 583.3,542.1 582.7,541.7 582.4,540.8 581.7,540.5 580.7,540.7 580.1,540.4 579.6,539.8 578.7,539.8 578.3,539.2 577.4,539.2 577.3,538.0 576.8,537.3 576.3,536.8 576.2,535.5 575.4,535.4 574.5,534.3 573.1,534.6 571.2,534.9 570.4,536.6 570.2,537.4 569.8,538.0 569.1,538.6 569.1,539.4 568.7,540.0 568.5,540.7 568.1,541.4 567.1,541.8 567.3,542.7 567.0,543.4 566.4,544.1 566.8,545.0 567.0,545.9 566.9,546.5 567.0,547.3 567.4,548.2 568.1,549.2 567.3,549.6 566.5,550.1 566.3,550.8 565.7,551.3 565.6,552.0 565.6,552.8 564.9,553.3 565.5,554.2 565.7,555.0 564.9,555.3 564.4,555.9 564.2,556.7 563.4,556.9 563.0,557.5 562.6,558.1 562.3,558.9 561.9,559.4 561.1,559.7 560.5,560.1 559.7,559.8 559.0,559.5 558.2,559.1 557.4,559.3 556.7,559.9 555.9,559.5 555.2,559.6 554.4,559.3 553.6,558.9 552.9,558.0 552.2,557.3 551.6,557.6 550.9,556.6 550.2,555.7 549.5,555.6 548.8,555.7 548.0,555.7 547.2,556.2 546.5,556.4 545.7,557.1 544.9,557.8 544.1,558.4 543.4,558.5 542.6,559.7 541.8,560.1 541.1,560.2 540.2,559.7 539.4,559.5 538.9,559.0 538.5,558.2 537.8,557.8 536.8,558.2 536.2,557.8 535.3,557.9 534.5,557.7 534.4,556.6 533.9,555.9 533.4,555.3 532.8,554.9 532.4,554.2 531.4,554.5 530.6,554.3 529.7,553.9 529.6,552.9 529.1,552.3 529.1,551.5 529.6,550.5 528.9,550.0 529.5,549.0 529.3,548.4 529.5,547.5 529.1,546.9 528.7,546.3 528.9,545.4 528.6,544.8 527.8,544.3 527.4,543.7 526.7,543.2 526.0,542.7 525.6,542.2 525.0,541.7 525.3,540.7 524.7,540.2 524.5,539.5 523.7,539.2 523.1,538.7 523.2,537.8 522.6,537.3 522.9,536.3 523.0,535.6 522.9,535.1 522.9,534.3 522.6,533.6 522.2,532.9 521.6,532.3 521.4,531.6 521.1,530.9 520.6,529.8 519.5,530.1 518.9,530.7 518.2,530.9 517.5,531.1 516.7,531.1 516.4,530.9 517.1,530.2 516.9,529.4 516.8,528.5 516.2,528.0 516.5,526.9 516.0,526.4 515.7,526.9 515.8,527.2 515.7,526.4 515.3,525.6 515.2,524.8 514.7,523.9 514.5,523.1 514.7,522.4 514.7,521.7 514.8,520.9 514.4,520.0 515.1,519.5 515.1,518.7 515.1,517.9 515.1,517.1 516.3,516.8 516.3,516.0 516.7,515.4 517.6,515.0 517.9,514.3 518.7,513.9 519.5,513.6 520.3,513.5 520.9,513.0 521.3,512.4 521.4,511.6 522.0,511.1 522.3,510.5 522.2,509.5 522.2,508.6 521.9,507.5 522.0,506.7 523.0,506.5 522.9,505.7 523.1,505.0 523.5,504.3 524.2,503.7 524.8,503.1 524.9,502.4 525.5,501.8 525.2,500.7 524.7,499.8 524.9,498.9 524.1,498.4 523.6,497.7 522.9,497.2 522.5,496.6 522.0,496.3 521.5,495.8 520.9,495.5 520.1,495.5 519.7,494.7 519.3,494.4 519.4,495.1 518.7,495.7 518.0,496.2 517.8,497.0 517.6,497.8 517.0,498.5 517.1,499.3 517.0,500.0 516.5,500.8 516.7,501.6 517.0,502.4 516.4,503.1 516.2,504.2 515.1,505.1 513.8,505.1 513.3,504.3 512.7,503.6 511.9,503.7 511.4,502.5 510.7,502.3 510.0,502.3 509.1,502.1 508.3,501.7 507.3,501.6 506.5,501.3 505.3,500.5 504.4,499.3 503.9,498.6 503.7,497.9 503.8,497.1 503.5,496.4 503.8,495.7 503.9,494.9 504.6,494.4 504.0,494.2 504.0,493.4 503.3,492.9 503.3,492.0 503.6,491.1 503.6,490.2 503.1,489.6 503.6,488.5 503.3,487.9 503.4,487.0 502.6,486.6 502.5,485.7 501.7,485.3 501.2,484.7 501.1,483.9 500.6,483.3 499.7,482.9 499.4,482.2 498.9,481.6 497.8,481.4 496.8,481.2 496.6,480.5 495.7,480.2 495.6,479.4 494.9,478.9 495.0,478.0 494.5,477.4 494.4,476.6 494.2,475.8 493.7,475.2 493.4,474.5 493.1,473.8 492.7,473.1Z" fill="none" stroke="#000" stroke-width="1.8" stroke-linejoin="round"/>
<path d="M598.5,597.9 l2.2,0.8 M602.2,599.3 l2.5,1.4" stroke="#000" stroke-width="1.2" fill="none"/>
<circle cx="578.0" cy="519.7" r="99.2" fill="none" stroke="#000" stroke-width="2"/>
<text x="479.5" y="440.4" font-family="Liberation Sans" font-size="15">f</text>
<text x="685.5" y="430.1" font-family="Liberation Sans" font-size="16" text-anchor="end">(0.65)</text>
<path fill-rule="evenodd" fill="#d3e9ec" d="M625.5,801.1 622.8,800.9 618.5,797.9 616.5,797.9 611.2,795.4 608.0,797.6 601.5,796.9 598.2,798.4 595.8,798.1 594.5,796.6 592.0,796.1 589.8,793.1 591.0,789.6 589.5,781.9 590.0,775.9 587.3,773.1 586.5,769.9 586.5,766.6 590.5,762.1 590.3,758.6 588.0,757.1 586.2,754.1 581.5,752.9 578.0,749.6 573.8,748.4 570.8,744.1 567.8,742.9 566.8,739.6 565.0,737.9 558.5,733.9 556.3,731.4 556.0,729.6 557.3,728.4 557.5,725.9 556.8,723.1 558.3,719.1 557.8,714.6 554.5,710.9 554.5,708.6 555.8,706.4 559.5,704.1 559.0,698.4 559.8,693.1 559.5,691.6 557.8,691.4 553.0,688.1 552.3,684.9 553.8,682.7 555.5,682.4 556.8,679.9 557.0,676.4 561.0,672.6 562.8,665.6 567.5,659.7 570.8,657.9 577.0,657.9 580.5,656.2 587.0,657.7 591.8,656.4 599.2,659.2 601.5,661.2 606.0,660.7 610.0,665.2 612.8,666.2 617.8,664.7 620.2,665.4 624.2,669.9 629.5,670.4 632.2,673.4 634.5,674.2 641.8,671.4 645.8,674.2 645.7,675.6 649.2,678.1 648.2,686.1 652.7,688.9 652.2,695.4 654.0,700.1 653.0,700.6 651.2,699.6 648.8,701.6 643.5,700.9 640.8,703.6 635.5,703.9 636.0,706.1 637.0,707.7 638.8,708.2 641.8,707.7 644.5,708.9 650.2,709.4 650.8,710.4 659.0,712.6 660.5,716.1 662.7,718.4 661.2,722.4 661.7,724.9 665.2,728.1 662.7,732.9 665.5,736.4 665.7,738.9 667.2,741.1 665.0,744.9 658.7,749.4 660.5,757.4 657.0,760.1 652.5,761.1 654.0,768.1 650.2,770.6 650.2,773.4 648.7,775.4 641.2,781.4 642.2,786.4 641.0,788.1 641.5,788.6 640.0,790.4 638.2,790.4 634.0,793.4 632.8,795.4 631.0,795.4 628.5,799.4 626.0,800.1 625.5,801.1ZM555.0,730.4 552.0,728.9 549.8,730.1 546.5,730.4 544.2,728.4 542.8,728.6 541.8,727.4 534.8,725.6 532.5,723.6 528.2,723.1 524.0,718.6 524.0,716.6 521.3,714.4 521.3,708.1 520.3,707.4 520.8,706.1 518.8,704.1 516.8,703.6 514.2,705.4 510.0,703.9 506.8,703.9 506.0,705.1 504.5,704.4 503.3,699.6 501.3,697.6 501.5,696.4 499.0,691.6 497.5,690.6 496.3,684.9 493.5,682.4 493.8,679.1 493.0,678.1 493.5,676.1 494.8,675.6 494.3,672.6 496.5,671.4 497.0,673.4 499.5,675.1 500.0,678.4 499.2,679.4 500.0,679.9 499.0,680.9 501.5,684.9 501.5,687.6 503.0,690.2 505.8,690.4 507.5,693.7 509.8,693.4 511.8,694.4 515.2,692.7 517.0,693.9 522.8,694.2 525.0,695.2 527.2,699.4 529.5,700.6 530.5,703.4 529.2,706.4 531.5,708.4 531.7,710.4 529.0,712.1 527.5,716.9 530.2,717.2 531.0,718.7 533.8,719.7 537.5,719.4 540.8,723.4 546.8,721.9 556.2,724.2 556.7,727.4 555.5,728.1 556.0,729.6 555.0,730.4ZM535.0,692.9 531.3,687.4 533.8,685.7 536.2,687.4 538.7,690.9 535.0,692.9ZM550.0,702.4 547.8,697.6 548.0,695.6 551.0,693.4 552.0,696.6 553.8,697.2 555.2,699.1 552.5,701.6 550.0,702.4ZM552.2,707.9 550.8,707.6 549.5,705.9 552.2,703.2 553.2,705.6 552.2,707.9ZM518.2,710.6 510.8,710.1 509.3,707.4 512.8,704.9 516.2,705.2 519.2,709.4 518.2,710.6ZM518.8,742.1 518.0,741.1 514.8,740.6 511.8,733.6 514.0,728.4 513.5,727.4 520.0,725.2 523.7,728.4 523.2,731.6 524.2,734.1 521.0,741.6 518.8,742.1ZM538.8,736.6 536.8,731.6 539.2,730.4 541.2,730.7 542.7,734.6 538.8,736.6ZM532.2,738.1 530.8,737.9 530.3,734.1 533.8,731.7 534.7,733.1 534.7,737.1 532.2,738.1ZM546.8,760.9 539.0,758.4 534.5,754.4 531.2,753.9 531.0,752.9 529.5,752.6 526.8,750.4 525.0,745.1 526.5,744.9 529.5,741.7 534.2,741.2 537.5,743.2 543.8,744.9 545.0,746.4 549.2,746.9 551.2,749.2 555.2,750.9 555.7,752.9 558.2,754.9 558.7,757.6 556.2,760.4 555.2,759.6 554.5,760.4 546.8,760.9Z"/>
<path fill-rule="evenodd" fill="#8ed2e2" d="M625.0,800.7 622.8,800.5 618.5,797.7 611.2,795.3 607.8,797.3 601.5,796.7 598.2,798.0 596.0,797.8 592.2,795.7 590.0,792.9 591.2,788.9 590.0,784.8 590.2,775.9 587.6,773.1 586.7,769.6 587.2,765.9 590.7,762.1 590.4,758.6 586.2,754.0 580.4,751.9 578.0,749.5 573.9,748.1 570.8,744.0 568.2,743.0 566.9,739.6 565.0,737.7 558.6,733.6 556.6,731.1 557.7,725.9 557.0,723.4 558.4,719.1 557.9,714.6 555.1,711.1 554.8,708.9 555.6,706.9 559.7,704.1 559.9,693.1 559.5,691.5 553.5,688.3 552.5,685.1 553.5,683.4 555.7,682.4 557.2,676.9 561.2,672.6 563.0,665.9 566.7,660.6 570.3,658.4 577.0,658.1 581.0,656.5 587.0,657.8 591.8,656.7 599.2,659.4 601.5,661.3 606.2,661.3 610.0,665.3 612.8,666.3 618.5,665.1 624.2,670.1 629.2,670.9 632.2,673.5 634.5,674.3 641.8,671.8 648.9,678.1 648.1,686.1 652.6,689.6 652.1,695.4 653.3,699.4 651.2,699.5 648.5,701.2 643.5,700.7 640.0,703.6 635.5,703.8 635.8,706.1 637.0,707.8 649.7,709.6 659.2,713.4 662.2,718.6 661.1,722.4 661.6,724.9 664.7,727.6 662.6,732.9 665.2,736.6 666.6,741.6 665.0,744.6 658.6,749.4 660.1,755.4 659.7,757.9 657.5,759.7 652.4,761.1 653.4,768.4 650.1,770.6 649.8,773.1 648.4,775.1 641.1,781.4 641.9,786.4 640.7,789.1 634.0,793.2 632.8,794.9 631.0,795.3 628.0,799.4 625.0,800.7ZM548.5,729.9 546.8,730.0 541.8,727.2 534.9,725.4 532.5,723.5 527.8,722.4 524.5,718.6 524.2,716.6 521.7,714.4 520.9,706.1 518.8,704.0 516.8,703.5 514.2,705.2 510.0,703.7 504.7,703.9 503.4,699.6 497.8,690.2 496.4,684.9 493.8,682.1 493.5,677.9 494.9,675.6 495.0,672.4 496.2,672.3 499.1,675.1 499.6,678.1 498.9,680.9 503.0,690.3 505.8,691.0 507.5,693.8 511.8,694.5 515.0,693.2 522.8,694.5 525.7,696.1 527.1,699.4 530.0,702.4 529.1,706.4 531.5,709.4 528.1,713.4 527.5,717.0 533.8,719.8 536.8,719.5 540.8,723.5 546.6,722.1 556.5,724.8 555.0,729.6 551.5,728.7 548.5,729.9ZM536.0,692.2 534.5,691.9 532.5,689.5 531.9,687.9 532.8,686.6 535.2,686.8 537.6,690.1 537.5,691.4 536.0,692.2ZM551.2,701.4 549.5,701.2 548.2,697.9 548.6,695.6 550.2,694.4 554.6,698.6 554.0,700.1 551.2,701.4ZM552.0,707.3 550.3,706.1 552.0,704.2 553.0,705.6 552.0,707.3ZM517.8,710.2 511.5,709.7 510.3,707.1 512.8,705.1 516.0,705.5 518.4,708.9 517.8,710.2ZM519.8,741.4 514.8,740.1 512.2,732.9 514.5,727.5 520.0,725.8 523.1,728.4 523.8,734.1 523.1,737.1 519.8,741.4ZM539.8,735.7 538.1,735.4 537.0,732.6 537.5,731.4 539.3,730.6 541.2,731.1 542.0,733.4 539.8,735.7ZM532.8,737.4 531.3,737.1 531.0,734.6 533.2,732.3 534.4,733.1 534.6,734.9 532.8,737.4ZM549.5,760.4 545.8,760.6 537.8,757.4 534.5,754.2 531.5,753.4 527.5,750.6 525.8,745.6 529.5,742.2 532.5,741.3 541.8,744.4 545.0,746.5 548.9,747.1 555.1,751.4 558.3,757.1 556.2,759.6 549.5,760.4Z"/>
<path fill-rule="evenodd" fill="#64b4e4" d="M624.0,800.2 612.5,795.1 607.5,796.7 602.2,796.3 597.5,797.3 591.5,794.1 590.6,792.4 591.6,788.9 590.6,784.4 590.6,776.4 588.0,772.6 587.2,768.9 587.7,766.4 591.0,762.1 590.8,758.6 586.1,753.4 574.5,747.8 572.0,744.6 568.8,742.6 565.5,737.7 559.2,733.4 557.2,730.9 558.7,719.1 558.1,714.1 555.7,710.9 555.4,708.9 556.0,707.4 560.2,703.9 560.3,692.9 559.5,691.2 554.0,687.8 553.3,685.4 556.2,682.4 557.9,677.1 561.9,672.4 563.7,666.1 567.2,661.0 570.8,658.9 581.5,657.1 586.8,658.1 591.8,657.3 601.6,661.6 606.2,662.0 609.7,665.4 612.2,666.5 618.8,665.9 624.0,670.3 628.8,671.4 634.0,674.6 641.5,672.4 648.4,678.4 647.7,685.9 652.0,689.9 652.4,698.6 648.5,700.5 643.5,700.4 639.8,703.0 636.1,703.1 635.3,703.9 635.5,706.1 637.5,708.3 649.0,710.1 658.8,713.9 661.5,718.9 661.2,725.0 664.1,727.9 662.4,732.9 665.9,741.4 664.4,744.4 658.5,749.4 659.1,757.6 652.2,761.1 652.9,767.9 650.1,770.1 648.0,774.6 641.0,780.9 641.2,786.4 640.1,788.9 630.7,795.1 627.5,799.0 624.0,800.2ZM548.2,729.4 528.0,721.7 522.5,713.9 521.3,706.1 519.0,703.7 517.0,703.2 514.2,704.2 505.2,702.9 498.4,689.9 497.0,685.1 494.4,681.9 494.2,677.6 495.5,673.4 498.6,675.6 498.7,681.6 502.4,690.4 505.2,691.5 507.5,694.1 511.8,694.8 515.0,693.9 523.8,695.5 528.9,701.6 529.4,703.1 528.8,706.3 530.7,709.6 527.4,713.4 527.2,717.3 533.0,720.0 536.8,720.2 540.8,723.8 546.0,722.7 555.7,725.4 554.5,728.8 551.8,728.4 548.2,729.4ZM535.8,691.2 533.5,689.4 533.4,687.4 535.4,688.4 536.4,690.4 535.8,691.2ZM551.5,700.7 550.0,700.5 549.1,698.4 550.0,695.5 553.7,698.6 551.5,700.7ZM516.5,709.4 512.0,708.8 511.3,707.4 513.0,706.1 515.5,706.3 517.2,708.6 516.5,709.4ZM519.8,740.5 515.4,739.4 513.2,732.9 515.2,728.2 520.0,726.7 522.4,728.9 523.0,734.1 522.5,736.7 519.8,740.5ZM539.8,734.9 538.5,734.7 537.7,732.9 539.2,731.3 540.6,731.6 541.2,733.1 539.8,734.9ZM532.8,736.5 531.7,734.6 533.2,733.1 533.9,734.6 532.8,736.5ZM547.5,759.9 539.5,757.6 534.8,753.9 529.8,751.5 527.5,749.4 526.8,745.7 530.2,742.6 533.8,742.0 548.1,747.4 554.4,751.6 557.4,756.1 557.2,758.1 554.5,759.3 547.5,759.9Z"/>
<path fill-rule="evenodd" fill="#5aa0e6" d="M624.8,799.5 612.5,794.5 607.5,796.1 602.0,795.7 597.8,796.7 592.0,793.8 591.2,792.4 592.2,788.9 591.2,784.4 591.1,776.1 588.5,772.4 587.8,768.9 588.2,766.6 591.4,762.4 591.2,758.4 586.5,753.0 574.8,747.3 572.2,744.1 569.1,742.1 566.0,737.4 559.5,732.9 557.7,730.6 559.3,718.9 558.6,713.9 556.0,709.1 560.7,704.1 561.0,692.9 560.4,690.9 555.2,687.1 554.7,685.6 557.1,682.9 558.8,677.5 562.6,672.6 564.3,666.6 567.8,661.6 570.9,659.6 581.8,657.7 586.8,658.7 591.7,657.9 601.4,662.1 606.0,662.5 609.4,665.9 612.2,667.0 618.5,666.4 623.8,670.8 628.5,671.9 633.8,675.0 641.3,672.9 647.8,678.6 647.1,685.9 651.5,690.1 651.6,698.1 648.5,699.9 643.2,699.9 639.5,702.5 635.5,702.8 634.6,703.9 635.0,706.4 637.2,708.8 648.8,710.6 658.4,714.4 660.9,718.9 660.7,725.1 663.4,728.1 661.8,733.1 664.3,737.4 665.2,741.4 663.8,744.1 657.9,749.1 658.6,757.4 651.6,760.9 652.3,767.6 649.6,769.9 647.8,774.1 640.4,780.9 640.6,786.4 639.7,788.4 630.2,794.8 627.2,798.4 624.8,799.5ZM527.2,711.2 523.8,710.4 521.7,705.4 519.2,703.0 517.0,702.4 514.2,703.4 508.5,702.0 503.5,697.6 499.0,689.4 497.6,684.6 495.1,681.6 495.0,677.8 496.2,675.2 497.9,676.1 497.9,681.6 502.0,691.0 504.8,692.1 507.2,694.8 511.8,695.6 515.0,694.6 524.5,696.9 528.6,702.9 527.9,706.1 529.6,709.6 527.2,711.2ZM551.5,699.7 550.5,699.4 550.2,697.6 552.4,698.9 551.5,699.7ZM549.2,728.7 547.0,728.8 536.0,724.4 529.2,721.1 528.3,719.6 536.2,720.8 540.5,724.5 546.0,723.3 555.0,725.6 554.0,728.1 549.2,728.7ZM539.5,734.2 538.4,732.9 539.5,732.0 540.5,733.1 539.5,734.2ZM549.8,759.2 545.8,759.3 539.1,756.6 528.9,749.6 527.8,745.9 530.5,743.3 533.2,742.6 548.2,748.1 554.1,752.1 557.0,756.9 555.8,758.4 549.8,759.2Z"/>
<path fill-rule="evenodd" fill="#7283e0" d="M624.5,798.7 612.5,793.9 607.2,795.5 602.0,795.0 598.0,795.8 593.0,793.1 591.7,775.9 589.2,772.1 588.4,768.9 588.8,766.9 592.0,762.4 591.6,757.9 586.8,752.6 575.1,746.9 572.5,743.6 569.6,741.9 566.2,736.9 558.5,730.6 559.9,718.9 559.4,713.9 557.0,708.9 561.9,704.1 565.4,693.9 567.9,676.1 571.8,663.4 574.6,660.4 582.0,658.4 586.8,659.4 591.5,658.5 601.2,662.7 605.8,663.2 609.0,666.3 612.2,667.6 618.2,666.9 623.5,671.3 628.2,672.5 633.5,675.5 635.8,675.7 641.2,673.6 647.2,678.9 646.6,686.1 650.8,690.4 650.8,697.6 648.5,699.2 643.5,699.2 639.6,701.9 635.1,702.4 634.1,703.6 634.4,706.4 636.8,709.2 648.5,711.1 658.0,715.0 660.2,719.1 659.6,722.4 660.1,725.4 662.6,728.4 661.2,733.1 663.6,737.6 664.4,741.4 663.1,743.9 657.3,748.9 658.0,757.0 651.0,760.6 651.5,767.4 649.0,769.6 647.3,773.6 639.8,780.6 639.2,787.9 629.9,794.1 626.8,797.8 624.5,798.7ZM548.0,728.2 543.2,725.1 546.0,724.1 554.2,726.1 553.5,727.3 548.0,728.2ZM550.5,758.2 546.1,758.1 541.4,755.6 537.9,750.6 536.4,745.9 547.2,748.5 553.3,752.4 556.1,757.1 550.5,758.2Z"/>
<path fill-rule="evenodd" fill="#7b64cd" d="M617.8,793.7 608.0,792.7 603.8,789.6 590.0,769.8 589.8,767.4 592.8,762.4 592.0,757.1 587.2,752.1 575.5,746.3 570.2,741.4 566.8,736.5 560.4,731.9 559.3,730.1 561.3,716.9 571.3,710.6 577.3,698.4 579.6,680.9 583.5,667.9 586.9,663.4 591.5,660.8 605.2,664.1 608.8,667.1 612.0,668.3 618.0,667.7 623.0,671.8 627.8,673.1 633.5,676.4 641.2,675.5 644.6,681.1 645.8,687.6 648.5,690.9 648.7,696.9 647.5,698.1 642.5,698.7 639.3,701.1 634.5,701.9 633.3,703.6 633.9,706.9 636.5,709.8 647.6,711.9 653.2,714.6 657.2,721.5 658.8,727.6 660.4,743.4 656.3,748.6 656.1,756.1 650.2,760.1 650.0,766.6 646.7,772.1 639.2,779.6 638.0,785.5 635.8,787.6 631.8,789.8 617.8,793.7Z"/>
<path fill-rule="evenodd" fill="#8845b0" d="M615.2,781.4 612.8,780.7 603.9,767.1 589.7,752.4 576.1,745.4 570.8,740.4 563.8,731.4 565.8,728.4 580.0,720.3 581.7,718.4 589.8,701.1 591.9,683.4 595.1,673.1 613.8,670.6 628.8,677.9 635.6,691.1 636.5,698.6 632.6,702.4 632.7,706.6 634.5,710.0 638.1,712.9 645.9,726.9 648.0,742.6 647.4,745.6 639.1,762.9 629.4,776.6 627.5,778.0 615.2,781.4Z"/>
<path fill-rule="evenodd" fill="#7b2b8a" d="M605.0,695.2 602.2,695.1 600.7,693.6 598.5,689.1 598.6,685.1 600.2,681.1 607.0,680.0 610.2,682.4 612.2,687.6 609.5,693.7 605.0,695.2ZM621.0,736.4 608.0,735.5 598.9,731.1 595.6,720.9 598.1,711.6 603.8,709.8 606.8,710.0 619.7,721.6 629.0,726.6 630.3,731.1 629.8,733.9 621.0,736.4Z"/>
<path d="M566.5,660.7 566.8,660.4 567.5,659.9 568.2,659.5 569.0,659.5 569.6,658.7 570.2,658.3 571.0,658.1 571.7,658.0 572.6,658.6 573.1,657.7 574.0,658.1 574.7,657.7 575.4,657.4 576.3,657.9 577.1,658.0 577.7,657.2 578.4,657.2 579.1,657.1 579.9,657.1 580.5,656.2 581.3,656.5 582.1,656.6 582.8,656.4 583.5,656.7 584.3,656.5 584.9,656.9 585.5,657.5 586.4,657.4 587.2,657.8 588.0,657.2 588.8,656.7 589.5,656.8 590.3,656.7 591.0,656.5 591.8,656.5 592.5,657.0 593.2,657.2 593.9,657.5 594.6,657.6 595.4,657.9 596.0,658.5 596.7,658.7 597.5,658.9 598.2,659.3 599.0,659.2 599.8,659.7 600.4,660.2 600.9,660.8 601.6,661.3 602.5,661.1 603.0,661.2 603.7,661.6 604.5,661.4 605.5,660.7 606.3,660.9 606.9,661.6 607.6,661.9 608.0,663.2 608.7,663.5 609.3,664.0 609.9,665.1 610.6,665.3 611.3,665.4 612.0,665.7 612.7,666.3 613.5,666.2 614.2,665.6 615.0,665.8 615.7,665.7 616.5,665.1 617.2,665.1 618.0,664.7 618.7,665.1 619.2,665.4 620.3,665.4 620.3,666.4 621.1,666.8 621.7,667.3 622.2,667.9 622.4,668.6 623.1,668.9 623.7,669.4 624.3,670.1 625.1,670.1 625.8,670.3 626.6,670.4 627.4,670.4 628.1,670.7 629.0,670.4 629.7,670.7 630.2,671.9 631.0,671.8 631.6,672.5 632.1,673.5 633.0,673.2 633.6,673.9 634.3,674.1 635.0,674.3 635.9,673.8 636.8,673.5 637.6,673.2 638.5,672.4 639.4,672.0 640.2,671.6 641.0,671.6 641.7,671.6 642.4,672.2 643.1,672.6 643.7,673.1 644.3,673.9 645.0,674.3 645.9,674.3 645.6,675.8 646.7,676.0 647.3,676.5 648.1,676.9 648.7,677.5 649.2,678.2 649.1,678.9 649.0,679.7 649.1,680.4 648.9,681.2 648.3,682.0 648.9,682.7 648.3,683.5 647.9,684.2 648.2,685.0 648.1,685.9 648.5,686.8 649.8,687.0 650.0,687.7 651.0,688.0 651.7,688.4 652.5,688.9 652.8,689.5 652.8,690.3 652.7,691.3 652.5,692.1 652.6,692.8 652.6,693.6 652.2,694.4 652.0,695.2 652.6,695.9 652.5,696.6 652.9,697.3 653.2,698.0 653.7,698.7 653.7,699.4 653.8,700.3 653.0,700.4 652.2,700.2 651.3,699.6 650.7,699.9 650.1,700.6 649.4,700.8 648.8,701.6 648.0,701.2 647.2,701.0 646.5,701.1 645.7,700.9 644.9,700.5 644.2,700.8 643.4,700.8 642.8,701.3 642.3,702.4 641.5,702.3 641.0,703.3 640.3,703.6 639.6,703.8 638.9,703.9 638.2,703.9 637.3,703.2 636.6,703.5 635.5,703.9 636.1,705.0 635.9,706.0 636.3,706.8 637.0,707.7 638.1,707.6 638.7,708.3 639.4,708.3 640.3,707.8 640.9,708.4 641.8,707.8 642.4,708.1 643.1,708.5 643.8,708.5 644.4,709.0 645.2,709.0 645.9,709.1 646.7,708.9 647.3,709.2 648.1,709.2 648.8,709.4 649.5,709.5 650.2,709.5 650.7,710.6 651.5,710.3 652.2,710.9 652.9,711.0 653.6,711.1 654.4,711.2 655.1,711.6 655.7,712.1 656.5,712.2 657.2,712.6 657.9,712.7 658.3,712.3 658.8,712.6 659.2,713.3 659.7,713.9 659.8,714.7 660.5,715.3 660.4,716.1 661.4,716.6 661.3,717.5 662.1,718.0 662.7,718.6 662.0,719.5 662.3,720.1 661.9,721.0 661.5,721.8 661.2,722.6 661.4,723.3 661.7,723.9 661.7,724.7 661.8,725.4 662.6,725.9 663.6,726.4 664.7,726.8 664.9,727.5 665.1,728.2 665.0,728.7 664.2,729.7 663.8,730.7 663.3,731.8 662.7,732.9 663.2,733.4 663.4,734.1 664.0,734.6 664.1,735.4 664.6,735.8 665.4,736.3 665.5,737.1 665.9,737.8 665.5,738.7 666.0,739.4 666.2,740.1 666.8,740.7 667.0,740.9 667.1,741.1 666.8,741.8 666.4,742.4 665.6,742.8 665.9,743.8 665.4,744.4 664.7,744.8 664.2,745.4 663.7,745.9 663.1,746.4 662.2,746.7 661.2,747.0 660.9,747.7 660.3,748.2 660.2,749.0 658.7,749.4 659.2,750.8 659.0,751.6 658.8,752.4 659.5,753.5 659.6,754.3 660.3,755.4 660.2,756.2 660.4,757.3 659.8,757.9 659.2,758.4 658.9,759.0 658.1,759.3 657.6,759.8 656.8,760.1 655.6,760.0 654.5,760.3 653.6,760.8 652.5,761.1 652.5,761.9 652.3,762.6 652.5,763.5 652.7,764.4 652.9,765.4 653.7,766.5 653.9,767.5 653.7,768.4 653.1,768.9 652.4,769.3 651.4,769.5 650.9,770.1 650.1,770.5 650.1,771.4 649.9,772.3 650.1,773.6 649.4,774.0 648.7,774.4 648.7,775.5 647.7,775.6 647.2,776.2 646.6,776.5 646.1,776.8 646.1,777.6 645.5,778.1 644.8,778.6 644.3,779.1 643.5,779.5 643.0,780.1 642.1,780.4 641.3,781.2 641.1,782.1 641.1,782.9 641.5,783.7 641.4,784.4 641.7,785.2 641.8,785.9 642.3,786.7 641.8,787.4 640.8,788.0 641.5,788.6 641.0,788.9 640.5,789.5 640.1,790.2 639.3,790.4 638.1,790.2 638.0,791.1 637.4,791.3 636.7,791.7 636.2,792.4 635.3,792.3 634.8,793.4 634.0,793.2 633.6,794.1 633.1,794.6 632.7,795.4 631.6,795.1 630.8,795.3 630.6,796.3 629.9,796.8 629.7,798.0 629.0,798.2 628.5,798.8 628.2,799.8 627.4,799.9 626.8,800.3 625.9,800.0 625.5,800.9 624.0,800.8 622.7,800.9 622.1,800.1 621.4,799.5 620.7,799.3 620.1,798.8 619.4,798.6 618.7,797.9 618.0,797.7 617.3,797.5 616.5,797.9 615.8,796.8 615.0,797.0 614.3,796.3 613.6,796.1 612.9,795.6 612.1,795.9 611.4,795.3 610.7,795.6 609.9,796.2 609.3,796.4 608.5,797.2 607.7,797.5 607.0,797.2 606.3,797.5 605.6,797.0 604.8,797.0 604.1,796.8 603.3,797.2 602.7,796.7 601.9,796.7 601.2,797.0 600.3,797.9 599.6,797.5 598.8,798.1 598.1,798.2 597.4,797.7 596.6,798.0 595.9,798.1 595.2,797.4 594.6,796.5 593.8,796.5 592.9,796.2 592.0,796.4 592.1,795.5 591.5,795.0 590.8,794.5 590.4,793.9 589.9,793.3 589.8,792.5 589.9,791.6 590.2,790.9 590.4,790.5 591.0,789.7 591.2,789.0 591.1,788.3 590.7,787.6 590.4,786.8 590.7,786.1 590.1,785.4 589.8,784.6 589.8,783.9 590.2,783.2 590.3,782.5 589.6,781.7 589.6,781.0 589.8,780.2 590.2,779.5 589.8,778.8 589.9,778.0 590.2,777.3 590.1,776.6 590.2,775.8 589.0,775.2 589.0,774.5 587.9,773.9 587.5,773.2 587.4,772.5 586.9,771.8 587.2,771.0 586.8,770.3 586.6,769.6 586.6,768.7 586.8,767.8 586.5,767.0 586.9,766.2 587.5,765.5 588.1,764.8 588.8,764.2 589.1,763.4 590.6,762.2 590.5,760.6 590.6,759.6 590.4,758.8 590.1,758.2 589.0,758.0 588.5,757.5 588.1,756.9 587.7,756.3 587.2,755.8 586.9,755.1 586.7,754.3 585.9,754.0 585.3,753.5 584.5,753.0 583.3,752.9 582.7,752.5 581.5,752.7 581.2,752.0 580.3,751.9 579.7,751.5 579.3,750.9 578.6,750.6 578.3,749.8 577.7,749.4 576.8,749.3 576.1,749.0 575.1,749.0 574.5,748.6 573.8,748.3 573.5,747.7 573.2,747.2 572.8,746.5 572.4,745.8 571.9,745.1 571.0,745.1 571.0,744.0 570.1,744.0 569.2,743.9 568.7,743.4 568.0,743.1 567.7,742.3 567.6,741.1 567.1,740.5 566.9,739.5 566.1,739.3 565.6,738.8 565.2,737.9 564.4,737.6 563.8,737.0 563.3,736.3 562.6,736.1 562.2,735.3 561.4,735.0 560.7,734.8 560.0,734.5 559.8,734.8 560.1,734.8 559.3,734.2 558.6,733.7 557.8,733.2 558.0,732.4 557.0,732.0 556.2,731.5 556.5,730.6 556.1,729.9 556.3,729.2 557.4,728.5 557.2,727.8 557.3,727.1 557.4,726.4 557.7,725.7 557.1,724.9 557.2,724.2 556.9,723.4 557.1,722.7 557.5,722.1 557.6,721.3 558.0,720.6 558.1,719.9 558.4,719.2 558.0,718.5 557.8,717.7 557.9,716.9 557.9,716.2 558.0,715.4 557.8,714.7 557.2,714.0 557.4,713.2 556.0,712.6 555.9,711.9 554.8,711.3 554.6,710.6 554.8,709.8 554.5,709.1 554.8,708.3 555.1,707.3 555.8,706.5 556.9,706.1 557.7,705.6 558.5,705.1 559.4,704.6 559.6,703.9 559.8,703.3 559.8,702.5 559.7,701.7 559.5,701.0 559.0,700.0 559.5,699.5 559.2,698.6 559.4,697.9 559.5,697.2 559.5,696.3 559.5,695.6 559.7,694.7 559.5,694.0 559.8,693.0 559.4,692.5 559.5,691.6 558.2,691.5 557.5,691.1 557.2,690.4 556.4,690.0 555.8,689.6 554.8,689.2 553.7,688.8 553.1,688.2 553.0,687.5 552.4,686.9 552.4,686.2 552.2,685.5 552.5,684.7 553.2,683.7 553.6,682.9 554.5,682.7 555.6,682.6 555.7,681.8 556.1,681.1 556.1,680.3 556.8,679.9 556.4,678.7 556.9,678.2 557.0,677.3 557.0,676.5 557.9,676.1 558.3,675.5 558.3,674.6 559.3,674.4 560.0,674.0 560.3,673.3 561.0,672.9 561.2,672.2 561.6,671.6 561.9,670.9 562.0,670.0 561.9,669.1 562.6,668.6 562.2,667.7 562.3,667.0 562.7,666.4 562.9,665.7 563.6,665.2 564.0,664.6 564.4,664.0 564.9,663.4 565.0,662.7 565.9,662.3 566.0,661.5 566.3,660.9ZM494.4,672.6 495.0,672.0 495.6,671.5 496.6,671.5 497.0,671.1 496.6,671.8 496.7,672.5 496.8,673.2 497.3,673.8 498.4,674.2 499.0,674.7 499.3,675.3 499.4,676.0 499.3,676.8 499.7,677.5 499.9,678.3 499.1,679.3 499.8,679.9 498.9,680.9 499.4,681.6 499.7,682.3 499.7,683.2 500.2,683.9 501.0,684.3 501.4,685.0 501.2,685.9 501.7,686.5 501.3,687.5 502.1,688.0 502.0,688.9 502.4,689.6 503.1,690.2 503.9,690.6 505.0,690.5 505.9,690.6 506.2,691.4 506.5,692.2 506.8,693.1 507.4,693.7 508.2,693.5 508.9,693.5 509.6,693.5 510.3,693.8 511.0,693.9 511.7,694.5 512.4,694.2 513.1,693.3 513.8,693.0 514.5,693.2 515.2,692.8 515.9,693.5 516.6,693.6 517.3,694.2 518.0,693.5 518.6,693.9 519.5,693.8 520.2,694.0 520.9,694.3 521.7,694.4 522.6,694.2 523.3,694.7 524.0,694.9 524.7,695.2 525.6,695.7 526.0,696.6 526.4,697.2 526.3,698.2 527.0,698.6 527.1,699.5 527.9,699.8 528.4,700.4 529.3,700.6 529.6,701.4 529.8,702.1 530.4,702.7 530.2,703.6 529.7,704.6 529.3,705.5 528.9,706.4 530.1,706.9 530.1,707.7 531.3,708.2 531.6,708.9 531.7,709.7 531.5,710.5 530.9,711.0 530.3,711.6 529.0,711.9 528.7,712.6 528.5,713.2 528.0,713.3 528.3,714.0 527.8,714.5 527.7,715.6 527.4,716.4 527.3,717.4 526.5,717.5 525.4,718.3 524.3,717.7 524.1,716.7 523.3,716.4 522.8,715.8 521.9,715.2 521.3,714.2 521.3,713.4 521.0,712.7 521.4,711.8 521.5,711.0 521.7,710.2 521.5,709.5 521.1,708.9 521.5,708.0 520.4,707.5 520.8,706.7 520.9,706.0 520.3,705.6 519.7,705.3 519.2,704.8 518.9,704.0 518.1,703.9 517.3,703.7 516.8,703.6 516.3,704.5 515.6,704.9 514.9,704.6 514.2,705.2 513.5,704.4 512.8,704.7 512.1,704.2 511.4,704.1 510.7,703.9 510.4,704.1 509.7,703.8 509.1,704.1 508.4,704.3 507.1,703.8 506.4,704.0 505.9,704.6 506.3,704.9 505.8,705.1 505.3,704.6 504.3,704.2 504.1,703.5 504.2,702.7 503.6,702.1 503.8,701.2 503.6,700.4 503.4,699.7 502.7,699.2 502.2,698.7 501.7,698.0 501.2,697.4 501.6,696.4 501.1,695.8 500.5,695.4 500.4,694.6 500.0,694.0 499.5,693.5 499.5,692.7 499.2,692.0 498.9,691.4 498.0,691.1 497.6,690.5 497.5,689.7 497.1,689.1 497.6,688.1 497.1,687.5 497.0,686.7 496.7,686.0 496.3,685.4 496.2,684.6 495.1,684.2 494.7,683.6 494.2,683.0 493.5,682.4 493.7,681.5 493.6,680.8 493.7,680.0 493.9,679.1 493.0,678.6 493.5,677.7 493.5,676.9 493.6,676.2 494.9,675.8 494.3,674.9 494.3,674.2 494.5,673.5ZM509.4,708.3 509.4,708.7 509.5,707.3 510.0,706.6 510.8,706.5 511.2,705.6 512.0,705.5 512.7,705.1 513.4,705.0 514.1,705.5 514.9,705.2 515.6,705.4 516.3,705.3 516.8,705.9 517.3,706.1 517.2,707.2 517.7,707.7 518.0,708.4 518.8,708.1 518.6,708.6 519.1,709.6 518.8,710.2 518.2,710.5 517.4,710.7 516.6,710.3 515.7,710.3 515.0,710.5 514.3,709.8 513.6,709.8 512.9,709.8 512.1,710.1 511.4,709.9 510.7,710.0 510.4,710.1 510.6,709.6 510.6,708.8 510.0,708.3 510.1,707.4ZM524.7,715.9 526.0,715.8 526.3,717.1 527.0,717.1 527.9,716.8 528.7,716.9 529.3,717.2 530.1,717.1 530.6,717.7 531.0,718.8 531.8,718.7 532.4,719.1 533.1,719.4 533.7,719.7 534.6,719.4 535.3,719.4 536.2,718.9 536.8,719.3 537.5,719.6 538.0,720.4 538.6,720.8 539.1,721.5 539.8,721.9 540.2,723.1 540.8,723.4 541.7,723.1 542.4,723.2 543.3,722.6 544.1,722.3 544.9,722.1 545.7,721.9 546.4,722.0 547.1,722.2 547.8,722.7 548.6,722.4 549.2,723.1 550.0,723.1 550.7,723.4 551.5,723.3 552.3,723.7 553.1,723.7 553.9,723.8 554.6,724.1 555.4,724.2 556.6,724.5 556.6,725.8 556.2,726.6 556.6,727.4 555.4,728.0 555.4,728.8 555.9,729.7 554.9,730.3 554.3,730.2 553.6,729.7 552.9,729.1 552.2,728.7 551.4,728.8 550.6,729.5 549.8,730.0 549.1,729.6 548.3,730.3 547.5,730.1 546.7,730.3 546.0,729.8 545.5,729.1 544.9,728.6 544.2,728.3 543.5,728.4 542.7,728.5 542.2,727.6 541.6,727.3 540.9,727.2 540.2,726.9 539.5,726.9 538.8,726.6 538.2,726.3 537.6,726.0 536.8,726.0 536.1,726.0 535.6,725.5 534.7,725.5 534.2,725.1 533.7,724.5 532.9,724.5 532.5,723.6 531.6,723.8 530.8,723.8 530.4,723.2 529.6,723.0 528.8,723.0 528.1,722.9 527.6,722.3 527.1,721.7 526.5,721.2 526.1,720.4 525.8,719.6 525.0,719.5 524.5,719.7 524.6,719.3 524.0,718.4 524.2,717.7 523.9,716.8ZM513.8,727.3 514.2,727.2 514.9,726.9 515.7,726.7 516.5,727.1 517.2,726.7 517.8,725.9 518.7,726.2 519.3,725.6 520.0,725.4 520.8,725.5 521.3,726.1 521.8,726.9 522.3,727.4 522.8,728.0 523.6,728.3 523.7,729.4 523.7,729.6 523.3,729.5 523.1,730.2 523.1,731.0 523.1,731.7 523.7,732.5 523.8,733.2 524.1,734.0 523.8,734.7 523.5,735.4 523.6,736.1 523.5,736.5 523.5,737.1 522.8,737.6 522.5,738.3 521.8,738.7 521.9,739.7 521.2,740.2 520.9,740.9 521.0,741.8 520.3,741.5 519.5,741.6 518.7,742.0 518.1,741.0 517.3,740.9 516.5,741.0 515.8,741.0 515.0,740.8 514.7,740.2 514.2,739.6 513.8,739.0 513.8,738.2 513.3,737.6 513.1,736.9 513.2,736.0 512.7,735.4 512.7,734.6 511.9,734.0 512.1,733.1 512.1,732.4 512.3,731.7 512.4,731.0 513.2,730.4 513.3,729.7 513.3,729.0 514.1,728.4 513.5,727.6ZM525.3,744.5 524.9,744.9 525.8,745.4 526.5,745.0 527.0,744.3 527.6,743.5 528.3,743.3 529.0,742.7 529.5,741.8 530.3,742.0 530.9,741.4 531.7,741.4 532.4,741.1 533.1,741.3 534.0,741.4 534.9,741.5 535.5,742.2 536.3,742.1 536.8,742.8 537.5,743.2 538.2,743.4 538.9,743.6 539.7,743.8 540.3,744.2 541.1,744.2 541.8,744.3 542.5,744.8 543.1,745.3 543.9,745.1 544.5,745.6 544.8,746.5 545.6,746.4 546.5,746.2 547.1,746.5 548.0,746.4 548.5,746.9 549.2,747.0 549.7,747.7 550.2,748.4 550.9,748.5 551.3,749.3 551.9,749.5 552.8,749.2 552.6,750.1 553.7,750.2 554.0,750.8 554.9,751.0 555.7,751.3 555.7,752.2 555.7,753.1 556.7,753.3 556.5,754.3 557.2,754.6 558.0,754.9 557.8,755.6 558.5,756.7 558.5,757.6 558.1,758.2 557.5,758.9 556.9,759.4 556.4,760.4 555.3,759.4 554.6,760.2 553.9,760.4 553.1,759.8 552.4,760.3 551.7,760.0 551.0,760.1 550.3,760.2 549.6,760.5 548.9,760.6 548.1,760.3 547.4,760.6 546.7,760.7 545.8,760.7 545.1,760.3 544.3,760.2 543.7,759.8 543.0,759.5 542.3,759.4 541.6,759.2 541.0,758.7 540.3,758.6 539.5,758.4 538.8,758.2 538.3,757.6 537.6,757.3 536.9,757.0 536.5,756.0 535.8,755.9 535.3,755.2 535.0,754.6 534.3,754.2 533.5,754.1 533.0,753.6 532.0,753.8 531.2,753.7 531.0,752.7 530.3,752.5 529.5,752.4 529.0,751.7 528.5,751.3 527.9,750.8 527.1,750.8 526.9,750.1 526.7,749.4 526.6,748.6 526.4,747.8 525.5,747.4 525.5,746.6 525.0,745.9 525.1,745.1 525.4,744.1ZM547.6,695.2 548.0,695.6 548.8,695.3 549.5,694.5 550.2,694.3 551.1,693.5 551.4,694.5 551.7,695.2 551.7,696.0 551.9,696.8 552.6,697.2 553.7,697.4 554.4,697.8 555.1,699.1 554.1,700.2 553.5,700.6 552.7,700.8 552.5,701.6 551.4,701.4 550.7,701.7 549.9,702.2 549.3,701.4 549.2,700.6 548.9,699.9 548.6,699.2 548.3,698.5 547.9,697.8 548.3,696.8 548.1,696.1 548.1,695.3ZM549.3,705.6 549.0,705.7 549.8,705.3 550.6,705.2 551.2,704.2 552.2,703.3 553.0,704.2 553.2,704.9 553.1,705.8 552.7,706.9 553.2,707.5 553.3,707.5 553.0,707.2 552.2,707.7 551.3,707.5 550.5,707.7 550.4,708.0 550.7,707.7 550.4,707.0 550.1,706.3 549.6,705.8 549.4,705.0ZM531.4,687.2 533.2,686.1 534.0,685.8 535.0,686.4 535.9,687.1 536.2,687.6 536.6,688.3 536.8,689.0 537.1,689.7 538.0,690.1 538.7,691.2 537.5,691.8 536.7,692.0 536.0,692.5 534.7,692.8 534.0,691.6 533.4,691.0 532.8,690.5 532.6,689.8 532.1,689.2ZM537.0,731.3 538.6,730.8 539.4,730.6 540.2,730.5 541.1,730.8 541.9,731.1 541.7,731.8 541.7,732.7 542.4,733.3 542.2,734.2 543.0,734.9 542.1,734.7 541.3,734.8 540.5,735.0 539.9,735.9 538.7,736.4 537.8,735.4 537.7,734.5 537.4,733.7 536.8,733.0ZM530.3,734.0 530.9,734.2 531.4,733.1 532.1,732.6 533.7,731.6 534.7,733.3 534.6,734.2 534.8,735.0 534.2,736.0 534.6,737.2 533.2,737.1 532.6,737.7 531.9,738.1 530.9,738.1 530.9,737.1 531.1,736.2 531.1,735.3 530.7,734.6Z" fill="none" stroke="#cdeaf0" stroke-width="4.2" stroke-linejoin="round"/>
<path d="M566.5,660.7 566.8,660.4 567.5,659.9 568.2,659.5 569.0,659.5 569.6,658.7 570.2,658.3 571.0,658.1 571.7,658.0 572.6,658.6 573.1,657.7 574.0,658.1 574.7,657.7 575.4,657.4 576.3,657.9 577.1,658.0 577.7,657.2 578.4,657.2 579.1,657.1 579.9,657.1 580.5,656.2 581.3,656.5 582.1,656.6 582.8,656.4 583.5,656.7 584.3,656.5 584.9,656.9 585.5,657.5 586.4,657.4 587.2,657.8 588.0,657.2 588.8,656.7 589.5,656.8 590.3,656.7 591.0,656.5 591.8,656.5 592.5,657.0 593.2,657.2 593.9,657.5 594.6,657.6 595.4,657.9 596.0,658.5 596.7,658.7 597.5,658.9 598.2,659.3 599.0,659.2 599.8,659.7 600.4,660.2 600.9,660.8 601.6,661.3 602.5,661.1 603.0,661.2 603.7,661.6 604.5,661.4 605.5,660.7 606.3,660.9 606.9,661.6 607.6,661.9 608.0,663.2 608.7,663.5 609.3,664.0 609.9,665.1 610.6,665.3 611.3,665.4 612.0,665.7 612.7,666.3 613.5,666.2 614.2,665.6 615.0,665.8 615.7,665.7 616.5,665.1 617.2,665.1 618.0,664.7 618.7,665.1 619.2,665.4 620.3,665.4 620.3,666.4 621.1,666.8 621.7,667.3 622.2,667.9 622.4,668.6 623.1,668.9 623.7,669.4 624.3,670.1 625.1,670.1 625.8,670.3 626.6,670.4 627.4,670.4 628.1,670.7 629.0,670.4 629.7,670.7 630.2,671.9 631.0,671.8 631.6,672.5 632.1,673.5 633.0,673.2 633.6,673.9 634.3,674.1 635.0,674.3 635.9,673.8 636.8,673.5 637.6,673.2 638.5,672.4 639.4,672.0 640.2,671.6 641.0,671.6 641.7,671.6 642.4,672.2 643.1,672.6 643.7,673.1 644.3,673.9 645.0,674.3 645.9,674.3 645.6,675.8 646.7,676.0 647.3,676.5 648.1,676.9 648.7,677.5 649.2,678.2 649.1,678.9 649.0,679.7 649.1,680.4 648.9,681.2 648.3,682.0 648.9,682.7 648.3,683.5 647.9,684.2 648.2,685.0 648.1,685.9 648.5,686.8 649.8,687.0 650.0,687.7 651.0,688.0 651.7,688.4 652.5,688.9 652.8,689.5 652.8,690.3 652.7,691.3 652.5,692.1 652.6,692.8 652.6,693.6 652.2,694.4 652.0,695.2 652.6,695.9 652.5,696.6 652.9,697.3 653.2,698.0 653.7,698.7 653.7,699.4 653.8,700.3 653.0,700.4 652.2,700.2 651.3,699.6 650.7,699.9 650.1,700.6 649.4,700.8 648.8,701.6 648.0,701.2 647.2,701.0 646.5,701.1 645.7,700.9 644.9,700.5 644.2,700.8 643.4,700.8 642.8,701.3 642.3,702.4 641.5,702.3 641.0,703.3 640.3,703.6 639.6,703.8 638.9,703.9 638.2,703.9 637.3,703.2 636.6,703.5 635.5,703.9 636.1,705.0 635.9,706.0 636.3,706.8 637.0,707.7 638.1,707.6 638.7,708.3 639.4,708.3 640.3,707.8 640.9,708.4 641.8,707.8 642.4,708.1 643.1,708.5 643.8,708.5 644.4,709.0 645.2,709.0 645.9,709.1 646.7,708.9 647.3,709.2 648.1,709.2 648.8,709.4 649.5,709.5 650.2,709.5 650.7,710.6 651.5,710.3 652.2,710.9 652.9,711.0 653.6,711.1 654.4,711.2 655.1,711.6 655.7,712.1 656.5,712.2 657.2,712.6 657.9,712.7 658.3,712.3 658.8,712.6 659.2,713.3 659.7,713.9 659.8,714.7 660.5,715.3 660.4,716.1 661.4,716.6 661.3,717.5 662.1,718.0 662.7,718.6 662.0,719.5 662.3,720.1 661.9,721.0 661.5,721.8 661.2,722.6 661.4,723.3 661.7,723.9 661.7,724.7 661.8,725.4 662.6,725.9 663.6,726.4 664.7,726.8 664.9,727.5 665.1,728.2 665.0,728.7 664.2,729.7 663.8,730.7 663.3,731.8 662.7,732.9 663.2,733.4 663.4,734.1 664.0,734.6 664.1,735.4 664.6,735.8 665.4,736.3 665.5,737.1 665.9,737.8 665.5,738.7 666.0,739.4 666.2,740.1 666.8,740.7 667.0,740.9 667.1,741.1 666.8,741.8 666.4,742.4 665.6,742.8 665.9,743.8 665.4,744.4 664.7,744.8 664.2,745.4 663.7,745.9 663.1,746.4 662.2,746.7 661.2,747.0 660.9,747.7 660.3,748.2 660.2,749.0 658.7,749.4 659.2,750.8 659.0,751.6 658.8,752.4 659.5,753.5 659.6,754.3 660.3,755.4 660.2,756.2 660.4,757.3 659.8,757.9 659.2,758.4 658.9,759.0 658.1,759.3 657.6,759.8 656.8,760.1 655.6,760.0 654.5,760.3 653.6,760.8 652.5,761.1 652.5,761.9 652.3,762.6 652.5,763.5 652.7,764.4 652.9,765.4 653.7,766.5 653.9,767.5 653.7,768.4 653.1,768.9 652.4,769.3 651.4,769.5 650.9,770.1 650.1,770.5 650.1,771.4 649.9,772.3 650.1,773.6 649.4,774.0 648.7,774.4 648.7,775.5 647.7,775.6 647.2,776.2 646.6,776.5 646.1,776.8 646.1,777.6 645.5,778.1 644.8,778.6 644.3,779.1 643.5,779.5 643.0,780.1 642.1,780.4 641.3,781.2 641.1,782.1 641.1,782.9 641.5,783.7 641.4,784.4 641.7,785.2 641.8,785.9 642.3,786.7 641.8,787.4 640.8,788.0 641.5,788.6 641.0,788.9 640.5,789.5 640.1,790.2 639.3,790.4 638.1,790.2 638.0,791.1 637.4,791.3 636.7,791.7 636.2,792.4 635.3,792.3 634.8,793.4 634.0,793.2 633.6,794.1 633.1,794.6 632.7,795.4 631.6,795.1 630.8,795.3 630.6,796.3 629.9,796.8 629.7,798.0 629.0,798.2 628.5,798.8 628.2,799.8 627.4,799.9 626.8,800.3 625.9,800.0 625.5,800.9 624.0,800.8 622.7,800.9 622.1,800.1 621.4,799.5 620.7,799.3 620.1,798.8 619.4,798.6 618.7,797.9 618.0,797.7 617.3,797.5 616.5,797.9 615.8,796.8 615.0,797.0 614.3,796.3 613.6,796.1 612.9,795.6 612.1,795.9 611.4,795.3 610.7,795.6 609.9,796.2 609.3,796.4 608.5,797.2 607.7,797.5 607.0,797.2 606.3,797.5 605.6,797.0 604.8,797.0 604.1,796.8 603.3,797.2 602.7,796.7 601.9,796.7 601.2,797.0 600.3,797.9 599.6,797.5 598.8,798.1 598.1,798.2 597.4,797.7 596.6,798.0 595.9,798.1 595.2,797.4 594.6,796.5 593.8,796.5 592.9,796.2 592.0,796.4 592.1,795.5 591.5,795.0 590.8,794.5 590.4,793.9 589.9,793.3 589.8,792.5 589.9,791.6 590.2,790.9 590.4,790.5 591.0,789.7 591.2,789.0 591.1,788.3 590.7,787.6 590.4,786.8 590.7,786.1 590.1,785.4 589.8,784.6 589.8,783.9 590.2,783.2 590.3,782.5 589.6,781.7 589.6,781.0 589.8,780.2 590.2,779.5 589.8,778.8 589.9,778.0 590.2,777.3 590.1,776.6 590.2,775.8 589.0,775.2 589.0,774.5 587.9,773.9 587.5,773.2 587.4,772.5 586.9,771.8 587.2,771.0 586.8,770.3 586.6,769.6 586.6,768.7 586.8,767.8 586.5,767.0 586.9,766.2 587.5,765.5 588.1,764.8 588.8,764.2 589.1,763.4 590.6,762.2 590.5,760.6 590.6,759.6 590.4,758.8 590.1,758.2 589.0,758.0 588.5,757.5 588.1,756.9 587.7,756.3 587.2,755.8 586.9,755.1 586.7,754.3 585.9,754.0 585.3,753.5 584.5,753.0 583.3,752.9 582.7,752.5 581.5,752.7 581.2,752.0 580.3,751.9 579.7,751.5 579.3,750.9 578.6,750.6 578.3,749.8 577.7,749.4 576.8,749.3 576.1,749.0 575.1,749.0 574.5,748.6 573.8,748.3 573.5,747.7 573.2,747.2 572.8,746.5 572.4,745.8 571.9,745.1 571.0,745.1 571.0,744.0 570.1,744.0 569.2,743.9 568.7,743.4 568.0,743.1 567.7,742.3 567.6,741.1 567.1,740.5 566.9,739.5 566.1,739.3 565.6,738.8 565.2,737.9 564.4,737.6 563.8,737.0 563.3,736.3 562.6,736.1 562.2,735.3 561.4,735.0 560.7,734.8 560.0,734.5 559.8,734.8 560.1,734.8 559.3,734.2 558.6,733.7 557.8,733.2 558.0,732.4 557.0,732.0 556.2,731.5 556.5,730.6 556.1,729.9 556.3,729.2 557.4,728.5 557.2,727.8 557.3,727.1 557.4,726.4 557.7,725.7 557.1,724.9 557.2,724.2 556.9,723.4 557.1,722.7 557.5,722.1 557.6,721.3 558.0,720.6 558.1,719.9 558.4,719.2 558.0,718.5 557.8,717.7 557.9,716.9 557.9,716.2 558.0,715.4 557.8,714.7 557.2,714.0 557.4,713.2 556.0,712.6 555.9,711.9 554.8,711.3 554.6,710.6 554.8,709.8 554.5,709.1 554.8,708.3 555.1,707.3 555.8,706.5 556.9,706.1 557.7,705.6 558.5,705.1 559.4,704.6 559.6,703.9 559.8,703.3 559.8,702.5 559.7,701.7 559.5,701.0 559.0,700.0 559.5,699.5 559.2,698.6 559.4,697.9 559.5,697.2 559.5,696.3 559.5,695.6 559.7,694.7 559.5,694.0 559.8,693.0 559.4,692.5 559.5,691.6 558.2,691.5 557.5,691.1 557.2,690.4 556.4,690.0 555.8,689.6 554.8,689.2 553.7,688.8 553.1,688.2 553.0,687.5 552.4,686.9 552.4,686.2 552.2,685.5 552.5,684.7 553.2,683.7 553.6,682.9 554.5,682.7 555.6,682.6 555.7,681.8 556.1,681.1 556.1,680.3 556.8,679.9 556.4,678.7 556.9,678.2 557.0,677.3 557.0,676.5 557.9,676.1 558.3,675.5 558.3,674.6 559.3,674.4 560.0,674.0 560.3,673.3 561.0,672.9 561.2,672.2 561.6,671.6 561.9,670.9 562.0,670.0 561.9,669.1 562.6,668.6 562.2,667.7 562.3,667.0 562.7,666.4 562.9,665.7 563.6,665.2 564.0,664.6 564.4,664.0 564.9,663.4 565.0,662.7 565.9,662.3 566.0,661.5 566.3,660.9ZM494.4,672.6 495.0,672.0 495.6,671.5 496.6,671.5 497.0,671.1 496.6,671.8 496.7,672.5 496.8,673.2 497.3,673.8 498.4,674.2 499.0,674.7 499.3,675.3 499.4,676.0 499.3,676.8 499.7,677.5 499.9,678.3 499.1,679.3 499.8,679.9 498.9,680.9 499.4,681.6 499.7,682.3 499.7,683.2 500.2,683.9 501.0,684.3 501.4,685.0 501.2,685.9 501.7,686.5 501.3,687.5 502.1,688.0 502.0,688.9 502.4,689.6 503.1,690.2 503.9,690.6 505.0,690.5 505.9,690.6 506.2,691.4 506.5,692.2 506.8,693.1 507.4,693.7 508.2,693.5 508.9,693.5 509.6,693.5 510.3,693.8 511.0,693.9 511.7,694.5 512.4,694.2 513.1,693.3 513.8,693.0 514.5,693.2 515.2,692.8 515.9,693.5 516.6,693.6 517.3,694.2 518.0,693.5 518.6,693.9 519.5,693.8 520.2,694.0 520.9,694.3 521.7,694.4 522.6,694.2 523.3,694.7 524.0,694.9 524.7,695.2 525.6,695.7 526.0,696.6 526.4,697.2 526.3,698.2 527.0,698.6 527.1,699.5 527.9,699.8 528.4,700.4 529.3,700.6 529.6,701.4 529.8,702.1 530.4,702.7 530.2,703.6 529.7,704.6 529.3,705.5 528.9,706.4 530.1,706.9 530.1,707.7 531.3,708.2 531.6,708.9 531.7,709.7 531.5,710.5 530.9,711.0 530.3,711.6 529.0,711.9 528.7,712.6 528.5,713.2 528.0,713.3 528.3,714.0 527.8,714.5 527.7,715.6 527.4,716.4 527.3,717.4 526.5,717.5 525.4,718.3 524.3,717.7 524.1,716.7 523.3,716.4 522.8,715.8 521.9,715.2 521.3,714.2 521.3,713.4 521.0,712.7 521.4,711.8 521.5,711.0 521.7,710.2 521.5,709.5 521.1,708.9 521.5,708.0 520.4,707.5 520.8,706.7 520.9,706.0 520.3,705.6 519.7,705.3 519.2,704.8 518.9,704.0 518.1,703.9 517.3,703.7 516.8,703.6 516.3,704.5 515.6,704.9 514.9,704.6 514.2,705.2 513.5,704.4 512.8,704.7 512.1,704.2 511.4,704.1 510.7,703.9 510.4,704.1 509.7,703.8 509.1,704.1 508.4,704.3 507.1,703.8 506.4,704.0 505.9,704.6 506.3,704.9 505.8,705.1 505.3,704.6 504.3,704.2 504.1,703.5 504.2,702.7 503.6,702.1 503.8,701.2 503.6,700.4 503.4,699.7 502.7,699.2 502.2,698.7 501.7,698.0 501.2,697.4 501.6,696.4 501.1,695.8 500.5,695.4 500.4,694.6 500.0,694.0 499.5,693.5 499.5,692.7 499.2,692.0 498.9,691.4 498.0,691.1 497.6,690.5 497.5,689.7 497.1,689.1 497.6,688.1 497.1,687.5 497.0,686.7 496.7,686.0 496.3,685.4 496.2,684.6 495.1,684.2 494.7,683.6 494.2,683.0 493.5,682.4 493.7,681.5 493.6,680.8 493.7,680.0 493.9,679.1 493.0,678.6 493.5,677.7 493.5,676.9 493.6,676.2 494.9,675.8 494.3,674.9 494.3,674.2 494.5,673.5ZM509.4,708.3 509.4,708.7 509.5,707.3 510.0,706.6 510.8,706.5 511.2,705.6 512.0,705.5 512.7,705.1 513.4,705.0 514.1,705.5 514.9,705.2 515.6,705.4 516.3,705.3 516.8,705.9 517.3,706.1 517.2,707.2 517.7,707.7 518.0,708.4 518.8,708.1 518.6,708.6 519.1,709.6 518.8,710.2 518.2,710.5 517.4,710.7 516.6,710.3 515.7,710.3 515.0,710.5 514.3,709.8 513.6,709.8 512.9,709.8 512.1,710.1 511.4,709.9 510.7,710.0 510.4,710.1 510.6,709.6 510.6,708.8 510.0,708.3 510.1,707.4ZM524.7,715.9 526.0,715.8 526.3,717.1 527.0,717.1 527.9,716.8 528.7,716.9 529.3,717.2 530.1,717.1 530.6,717.7 531.0,718.8 531.8,718.7 532.4,719.1 533.1,719.4 533.7,719.7 534.6,719.4 535.3,719.4 536.2,718.9 536.8,719.3 537.5,719.6 538.0,720.4 538.6,720.8 539.1,721.5 539.8,721.9 540.2,723.1 540.8,723.4 541.7,723.1 542.4,723.2 543.3,722.6 544.1,722.3 544.9,722.1 545.7,721.9 546.4,722.0 547.1,722.2 547.8,722.7 548.6,722.4 549.2,723.1 550.0,723.1 550.7,723.4 551.5,723.3 552.3,723.7 553.1,723.7 553.9,723.8 554.6,724.1 555.4,724.2 556.6,724.5 556.6,725.8 556.2,726.6 556.6,727.4 555.4,728.0 555.4,728.8 555.9,729.7 554.9,730.3 554.3,730.2 553.6,729.7 552.9,729.1 552.2,728.7 551.4,728.8 550.6,729.5 549.8,730.0 549.1,729.6 548.3,730.3 547.5,730.1 546.7,730.3 546.0,729.8 545.5,729.1 544.9,728.6 544.2,728.3 543.5,728.4 542.7,728.5 542.2,727.6 541.6,727.3 540.9,727.2 540.2,726.9 539.5,726.9 538.8,726.6 538.2,726.3 537.6,726.0 536.8,726.0 536.1,726.0 535.6,725.5 534.7,725.5 534.2,725.1 533.7,724.5 532.9,724.5 532.5,723.6 531.6,723.8 530.8,723.8 530.4,723.2 529.6,723.0 528.8,723.0 528.1,722.9 527.6,722.3 527.1,721.7 526.5,721.2 526.1,720.4 525.8,719.6 525.0,719.5 524.5,719.7 524.6,719.3 524.0,718.4 524.2,717.7 523.9,716.8ZM513.8,727.3 514.2,727.2 514.9,726.9 515.7,726.7 516.5,727.1 517.2,726.7 517.8,725.9 518.7,726.2 519.3,725.6 520.0,725.4 520.8,725.5 521.3,726.1 521.8,726.9 522.3,727.4 522.8,728.0 523.6,728.3 523.7,729.4 523.7,729.6 523.3,729.5 523.1,730.2 523.1,731.0 523.1,731.7 523.7,732.5 523.8,733.2 524.1,734.0 523.8,734.7 523.5,735.4 523.6,736.1 523.5,736.5 523.5,737.1 522.8,737.6 522.5,738.3 521.8,738.7 521.9,739.7 521.2,740.2 520.9,740.9 521.0,741.8 520.3,741.5 519.5,741.6 518.7,742.0 518.1,741.0 517.3,740.9 516.5,741.0 515.8,741.0 515.0,740.8 514.7,740.2 514.2,739.6 513.8,739.0 513.8,738.2 513.3,737.6 513.1,736.9 513.2,736.0 512.7,735.4 512.7,734.6 511.9,734.0 512.1,733.1 512.1,732.4 512.3,731.7 512.4,731.0 513.2,730.4 513.3,729.7 513.3,729.0 514.1,728.4 513.5,727.6ZM525.3,744.5 524.9,744.9 525.8,745.4 526.5,745.0 527.0,744.3 527.6,743.5 528.3,743.3 529.0,742.7 529.5,741.8 530.3,742.0 530.9,741.4 531.7,741.4 532.4,741.1 533.1,741.3 534.0,741.4 534.9,741.5 535.5,742.2 536.3,742.1 536.8,742.8 537.5,743.2 538.2,743.4 538.9,743.6 539.7,743.8 540.3,744.2 541.1,744.2 541.8,744.3 542.5,744.8 543.1,745.3 543.9,745.1 544.5,745.6 544.8,746.5 545.6,746.4 546.5,746.2 547.1,746.5 548.0,746.4 548.5,746.9 549.2,747.0 549.7,747.7 550.2,748.4 550.9,748.5 551.3,749.3 551.9,749.5 552.8,749.2 552.6,750.1 553.7,750.2 554.0,750.8 554.9,751.0 555.7,751.3 555.7,752.2 555.7,753.1 556.7,753.3 556.5,754.3 557.2,754.6 558.0,754.9 557.8,755.6 558.5,756.7 558.5,757.6 558.1,758.2 557.5,758.9 556.9,759.4 556.4,760.4 555.3,759.4 554.6,760.2 553.9,760.4 553.1,759.8 552.4,760.3 551.7,760.0 551.0,760.1 550.3,760.2 549.6,760.5 548.9,760.6 548.1,760.3 547.4,760.6 546.7,760.7 545.8,760.7 545.1,760.3 544.3,760.2 543.7,759.8 543.0,759.5 542.3,759.4 541.6,759.2 541.0,758.7 540.3,758.6 539.5,758.4 538.8,758.2 538.3,757.6 537.6,757.3 536.9,757.0 536.5,756.0 535.8,755.9 535.3,755.2 535.0,754.6 534.3,754.2 533.5,754.1 533.0,753.6 532.0,753.8 531.2,753.7 531.0,752.7 530.3,752.5 529.5,752.4 529.0,751.7 528.5,751.3 527.9,750.8 527.1,750.8 526.9,750.1 526.7,749.4 526.6,748.6 526.4,747.8 525.5,747.4 525.5,746.6 525.0,745.9 525.1,745.1 525.4,744.1ZM547.6,695.2 548.0,695.6 548.8,695.3 549.5,694.5 550.2,694.3 551.1,693.5 551.4,694.5 551.7,695.2 551.7,696.0 551.9,696.8 552.6,697.2 553.7,697.4 554.4,697.8 555.1,699.1 554.1,700.2 553.5,700.6 552.7,700.8 552.5,701.6 551.4,701.4 550.7,701.7 549.9,702.2 549.3,701.4 549.2,700.6 548.9,699.9 548.6,699.2 548.3,698.5 547.9,697.8 548.3,696.8 548.1,696.1 548.1,695.3ZM549.3,705.6 549.0,705.7 549.8,705.3 550.6,705.2 551.2,704.2 552.2,703.3 553.0,704.2 553.2,704.9 553.1,705.8 552.7,706.9 553.2,707.5 553.3,707.5 553.0,707.2 552.2,707.7 551.3,707.5 550.5,707.7 550.4,708.0 550.7,707.7 550.4,707.0 550.1,706.3 549.6,705.8 549.4,705.0ZM531.4,687.2 533.2,686.1 534.0,685.8 535.0,686.4 535.9,687.1 536.2,687.6 536.6,688.3 536.8,689.0 537.1,689.7 538.0,690.1 538.7,691.2 537.5,691.8 536.7,692.0 536.0,692.5 534.7,692.8 534.0,691.6 533.4,691.0 532.8,690.5 532.6,689.8 532.1,689.2ZM537.0,731.3 538.6,730.8 539.4,730.6 540.2,730.5 541.1,730.8 541.9,731.1 541.7,731.8 541.7,732.7 542.4,733.3 542.2,734.2 543.0,734.9 542.1,734.7 541.3,734.8 540.5,735.0 539.9,735.9 538.7,736.4 537.8,735.4 537.7,734.5 537.4,733.7 536.8,733.0ZM530.3,734.0 530.9,734.2 531.4,733.1 532.1,732.6 533.7,731.6 534.7,733.3 534.6,734.2 534.8,735.0 534.2,736.0 534.6,737.2 533.2,737.1 532.6,737.7 531.9,738.1 530.9,738.1 530.9,737.1 531.1,736.2 531.1,735.3 530.7,734.6Z" fill="none" stroke="#000" stroke-width="1.8" stroke-linejoin="round"/>
<circle cx="578.0" cy="728.9" r="99.2" fill="none" stroke="#000" stroke-width="2"/>
<text x="479.5" y="649.6" font-family="Liberation Sans" font-size="15">h</text>
<text x="685.5" y="639.3" font-family="Liberation Sans" font-size="16" text-anchor="end">(1.15)</text>
<rect x="496.50" y="837.2" width="15.75" height="13.0" fill="#d3e9ec"/>
<rect x="511.95" y="837.2" width="15.75" height="13.0" fill="#a6d3e3"/>
<rect x="527.40" y="837.2" width="15.75" height="13.0" fill="#8ac2e9"/>
<rect x="542.85" y="837.2" width="15.75" height="13.0" fill="#6e9fe4"/>
<rect x="558.30" y="837.2" width="15.75" height="13.0" fill="#7283e0"/>
<rect x="573.75" y="837.2" width="15.75" height="13.0" fill="#7b64cd"/>
<rect x="589.20" y="837.2" width="15.75" height="13.0" fill="#8048b7"/>
<rect x="604.65" y="837.2" width="15.75" height="13.0" fill="#772f94"/>
<rect x="620.10" y="837.2" width="15.75" height="13.0" fill="#661b5e"/>
<rect x="635.55" y="837.2" width="15.75" height="13.0" fill="#4c1537"/>
<rect x="496.5" y="837.2" width="154.5" height="13.0" fill="none" stroke="#000" stroke-width="2"/>
<line x1="496.5" y1="850.2" x2="496.5" y2="858.7" stroke="#000" stroke-width="1.5"/>
<text transform="translate(496.50,881.50) scale(1.180,1)" font-family="Liberation Serif" font-size="17.5" text-anchor="middle">0</text>
<line x1="573.8" y1="850.2" x2="573.8" y2="858.7" stroke="#000" stroke-width="1.5"/>
<text transform="translate(573.75,881.50) scale(1.180,1)" font-family="Liberation Serif" font-size="17.5" text-anchor="middle">2500</text>
<line x1="651.0" y1="850.2" x2="651.0" y2="858.7" stroke="#000" stroke-width="1.5"/>
<text transform="translate(651.00,881.50) scale(1.180,1)" font-family="Liberation Serif" font-size="17.5" text-anchor="middle">5000</text>
<text x="573.3" y="899.3" font-family="Liberation Sans" font-size="16" text-anchor="middle">Ice thickness [m]</text>
</svg>
</body></html>
